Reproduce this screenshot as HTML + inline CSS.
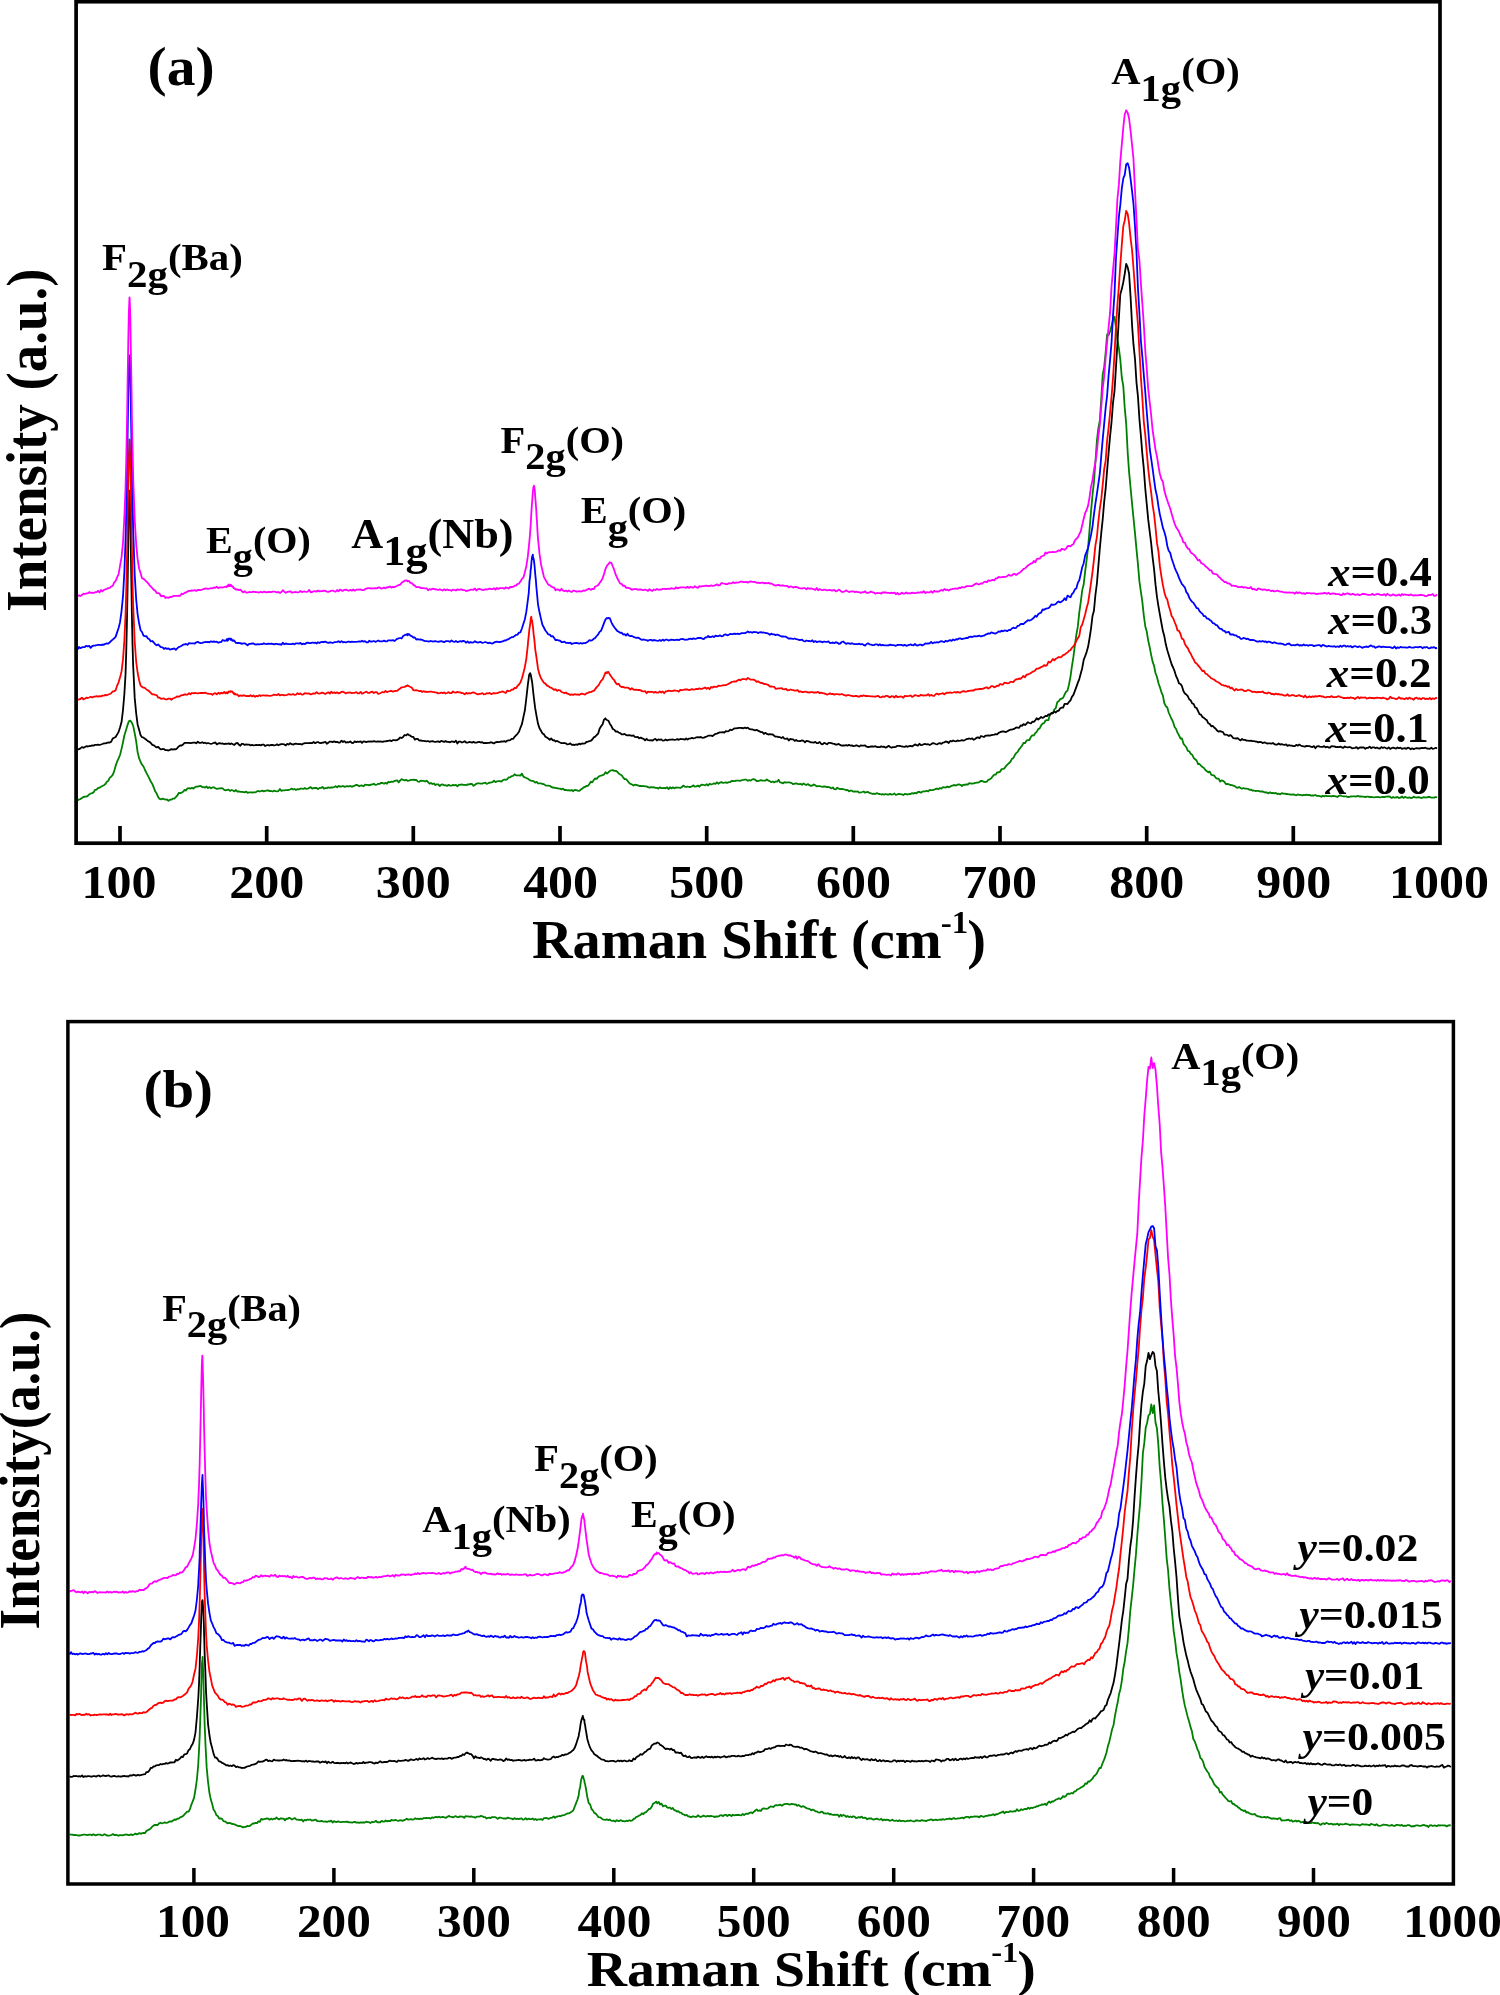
<!DOCTYPE html>
<html><head><meta charset="utf-8"><style>
html,body{margin:0;padding:0;background:#fff;}
svg{display:block;will-change:transform;}
text{font-family:"Liberation Serif",serif;font-weight:bold;fill:#000;}
</style></head><body>
<svg width="1500" height="1995" viewBox="0 0 1500 1995">
<rect x="0" y="0" width="1500" height="1995" fill="#fff"/>
<g>
<path d="M77.5 800.5L79.0 799.5L80.4 799.1L81.9 798.0L83.4 797.0L84.8 796.7L86.3 796.6L87.8 795.9L89.2 794.4L90.7 793.5L92.2 793.1L93.6 792.4L95.1 789.8L96.6 789.7L98.0 788.1L99.5 787.6L101.0 786.8L102.4 786.0L103.9 785.2L105.4 784.1L106.8 781.7L108.3 780.8L109.8 777.7L111.2 776.6L112.7 774.9L114.2 771.1L115.6 765.9L117.1 761.7L118.6 758.4L120.0 755.0L121.5 749.1L123.0 742.3L124.4 735.3L125.9 730.4L127.4 725.4L128.8 721.4L130.3 720.6L131.8 722.7L133.2 725.9L134.7 733.3L136.2 741.3L137.6 752.1L139.1 758.2L140.6 762.0L142.0 764.6L143.5 766.5L145.0 770.0L146.4 772.8L147.9 775.7L149.4 778.7L150.8 781.5L152.3 783.9L153.8 787.7L155.2 791.3L156.7 793.6L158.2 797.2L159.6 798.8L161.1 799.3L162.6 798.7L164.0 799.2L165.5 799.6L167.0 799.3L168.4 800.9L169.9 799.7L171.4 799.7L172.8 798.6L174.3 798.6L175.8 797.2L177.2 795.7L178.7 793.0L180.2 793.2L181.6 792.6L183.1 791.8L184.6 789.9L186.0 790.6L187.5 788.3L189.0 788.2L190.4 788.7L191.9 787.8L193.4 788.6L194.8 787.3L196.3 786.6L197.8 786.6L199.2 786.1L200.7 786.0L202.2 787.1L203.6 787.1L205.1 787.6L206.6 786.5L208.0 788.1L209.5 787.1L211.0 788.3L212.4 787.4L213.9 787.4L215.4 788.2L216.8 788.9L218.3 788.6L219.8 788.4L221.2 788.2L222.7 788.4L224.2 789.8L225.6 790.3L227.1 789.9L228.6 789.6L230.0 790.9L231.5 790.0L233.0 790.5L234.4 791.4L235.9 790.0L237.4 791.7L238.8 791.3L240.3 791.8L241.8 791.8L243.2 792.0L244.7 792.4L246.2 791.6L247.6 792.8L249.1 792.4L250.6 792.4L252.0 792.5L253.5 792.3L255.0 792.3L256.4 791.8L257.9 790.9L259.4 791.5L260.8 791.1L262.3 790.6L263.8 791.4L265.2 790.9L266.7 790.5L268.2 790.4L269.6 791.1L271.1 791.0L272.6 791.5L274.0 790.7L275.5 791.2L277.0 791.3L278.4 791.1L279.9 789.0L281.4 790.9L282.8 790.4L284.3 790.3L285.8 790.2L287.2 790.1L288.7 790.0L290.2 789.5L291.6 788.6L293.1 789.5L294.6 789.0L296.0 790.0L297.5 789.1L299.0 789.3L300.4 788.6L301.9 788.7L303.4 788.9L304.8 788.0L306.3 788.9L307.8 788.6L309.2 787.9L310.7 787.1L312.2 788.7L313.6 788.1L315.1 787.9L316.6 788.0L318.0 789.1L319.5 787.9L321.0 787.9L322.4 786.9L323.9 788.6L325.4 788.1L326.8 788.1L328.3 787.4L329.8 787.8L331.2 787.4L332.7 787.5L334.2 787.0L335.6 786.2L337.1 787.4L338.6 785.8L340.0 786.6L341.5 786.5L343.0 786.0L344.4 786.8L345.9 786.3L347.4 786.1L348.8 786.5L350.3 785.9L351.8 786.8L353.2 786.2L354.7 785.7L356.2 784.8L357.6 785.1L359.1 786.3L360.6 785.6L362.0 785.4L363.5 786.3L365.0 784.7L366.4 784.9L367.9 784.9L369.4 785.4L370.8 784.6L372.3 784.5L373.8 783.7L375.2 784.8L376.7 784.7L378.2 783.8L379.6 783.9L381.1 782.8L382.6 783.0L384.0 783.8L385.5 782.8L387.0 783.8L388.4 781.8L389.9 782.3L391.4 781.6L392.8 781.8L394.3 781.2L395.8 780.7L397.2 780.3L398.7 782.4L400.2 780.4L401.6 779.2L403.1 779.8L404.6 780.5L406.0 779.7L407.5 780.8L409.0 780.6L410.4 780.0L411.9 779.9L413.4 779.7L414.8 780.0L416.3 779.8L417.8 781.5L419.2 781.9L420.7 780.6L422.2 780.9L423.6 780.8L425.1 781.5L426.6 780.7L428.0 782.0L429.5 783.7L431.0 783.0L432.4 784.0L433.9 783.5L435.4 785.0L436.8 784.4L438.3 784.3L439.8 786.1L441.2 784.7L442.7 784.4L444.2 785.3L445.6 785.2L447.1 785.9L448.6 784.8L450.0 785.7L451.5 785.7L453.0 784.9L454.4 785.3L455.9 784.8L457.4 786.4L458.8 784.7L460.3 784.8L461.8 784.4L463.2 784.8L464.7 784.9L466.2 785.2L467.6 784.4L469.1 784.5L470.6 783.8L472.0 784.0L473.5 785.8L475.0 784.8L476.4 783.7L477.9 783.3L479.4 783.3L480.8 783.7L482.3 783.6L483.8 783.0L485.2 782.6L486.7 783.9L488.2 783.2L489.6 782.6L491.1 782.5L492.6 782.1L494.0 780.6L495.5 782.1L497.0 781.3L498.4 781.1L499.9 781.1L501.4 781.6L502.8 780.2L504.3 779.5L505.8 779.9L507.2 779.2L508.7 777.3L510.2 777.4L511.6 776.1L513.1 775.8L514.6 774.3L516.0 775.3L517.5 775.4L519.0 775.3L520.4 775.6L521.9 773.6L523.4 776.7L524.8 777.3L526.3 778.0L527.8 778.6L529.2 779.8L530.7 780.7L532.2 780.9L533.6 781.2L535.1 782.6L536.6 781.8L538.0 783.4L539.5 783.4L541.0 783.3L542.4 784.0L543.9 784.1L545.4 785.4L546.8 785.7L548.3 785.6L549.8 785.8L551.2 786.9L552.7 787.6L554.2 787.5L555.6 788.1L557.1 788.1L558.6 788.6L560.0 788.7L561.5 789.3L563.0 788.7L564.4 790.0L565.9 789.8L567.4 790.3L568.8 790.1L570.3 790.6L571.8 790.0L573.2 791.2L574.7 789.8L576.2 790.2L577.6 790.7L579.1 790.9L580.6 789.8L582.0 788.8L583.5 787.3L585.0 787.0L586.4 786.0L587.9 785.8L589.4 784.0L590.8 781.6L592.3 782.4L593.8 779.9L595.2 778.5L596.7 778.8L598.2 777.0L599.6 776.0L601.1 775.6L602.6 775.2L604.0 774.5L605.5 772.2L607.0 773.6L608.4 772.3L609.9 771.0L611.4 770.3L612.8 770.1L614.3 770.9L615.8 770.9L617.2 771.6L618.7 773.5L620.2 774.4L621.6 775.2L623.1 777.3L624.6 779.1L626.0 779.1L627.5 780.7L629.0 782.8L630.4 783.8L631.9 784.4L633.4 785.6L634.8 784.7L636.3 784.8L637.8 785.3L639.2 786.0L640.7 785.8L642.2 786.1L643.6 786.0L645.1 786.4L646.6 786.4L648.0 787.2L649.5 787.6L651.0 787.1L652.4 787.3L653.9 787.2L655.4 787.9L656.8 787.8L658.3 788.6L659.8 787.3L661.2 788.1L662.7 788.2L664.2 787.8L665.6 788.3L667.1 787.3L668.6 789.1L670.0 787.3L671.5 788.4L673.0 787.3L674.4 788.4L675.9 787.5L677.4 787.7L678.8 787.6L680.3 788.0L681.8 787.1L683.2 785.6L684.7 786.6L686.2 787.0L687.6 786.5L689.1 787.0L690.6 787.0L692.0 786.2L693.5 785.4L695.0 786.7L696.4 786.4L697.9 785.6L699.4 786.7L700.8 785.2L702.3 784.6L703.8 785.0L705.2 785.4L706.7 784.1L708.2 785.5L709.6 783.7L711.1 784.5L712.6 784.0L714.0 783.4L715.5 783.9L717.0 782.3L718.4 783.7L719.9 782.7L721.4 782.2L722.8 782.8L724.3 782.7L725.8 782.4L727.2 782.9L728.7 782.2L730.2 782.1L731.6 780.8L733.1 781.0L734.6 781.1L736.0 780.6L737.5 780.7L739.0 780.6L740.4 780.8L741.9 780.1L743.4 779.9L744.8 779.6L746.3 779.6L747.8 780.8L749.2 780.1L750.7 780.6L752.2 779.4L753.6 779.1L755.1 779.7L756.6 781.0L758.0 781.1L759.5 780.7L761.0 780.1L762.4 780.6L763.9 780.6L765.4 780.7L766.8 779.5L768.3 780.6L769.8 781.1L771.2 782.2L772.7 781.5L774.2 782.4L775.6 781.5L777.1 781.7L778.6 779.7L780.0 782.4L781.5 782.6L783.0 783.4L784.4 782.2L785.9 782.7L787.4 782.4L788.8 782.3L790.3 782.7L791.8 783.1L793.2 784.2L794.7 783.6L796.2 783.3L797.6 783.9L799.1 784.1L800.6 783.8L802.0 784.9L803.5 783.4L805.0 784.4L806.4 785.0L807.9 784.1L809.4 785.2L810.9 785.8L812.3 785.5L813.8 784.5L815.3 785.2L816.7 786.4L818.2 786.1L819.7 786.1L821.1 786.5L822.6 786.9L824.1 786.3L825.5 786.7L827.0 787.2L828.5 787.0L829.9 787.4L831.4 788.4L832.9 787.4L834.3 789.2L835.8 789.4L837.3 787.7L838.7 788.7L840.2 789.2L841.7 788.8L843.1 789.1L844.6 789.5L846.1 790.3L847.5 789.8L849.0 791.3L850.5 790.7L851.9 790.7L853.4 791.7L854.9 791.5L856.3 791.6L857.8 791.4L859.3 792.7L860.7 792.4L862.2 792.0L863.7 791.5L865.1 792.7L866.6 792.1L868.1 792.0L869.5 792.9L871.0 793.3L872.5 794.0L873.9 793.6L875.4 794.0L876.9 793.1L878.3 793.8L879.8 794.0L881.3 794.5L882.7 794.2L884.2 794.6L885.7 794.0L887.1 794.5L888.6 794.6L890.1 793.8L891.5 794.6L893.0 794.3L894.5 793.5L895.9 795.0L897.4 794.3L898.9 794.0L900.3 794.2L901.8 794.4L903.3 795.0L904.7 794.0L906.2 794.2L907.7 794.5L909.1 794.0L910.6 794.1L912.1 793.1L913.5 793.6L915.0 792.9L916.5 793.3L917.9 792.0L919.4 791.9L920.9 792.7L922.3 791.7L923.8 791.4L925.3 791.4L926.7 790.7L928.2 791.5L929.7 789.9L931.1 790.2L932.6 790.2L934.1 789.7L935.5 789.0L937.0 788.7L938.5 789.1L939.9 788.0L941.4 788.6L942.9 787.2L944.3 787.4L945.8 787.5L947.3 786.5L948.7 787.3L950.2 786.6L951.7 785.8L953.1 785.3L954.6 785.0L956.1 785.6L957.5 784.7L959.0 784.4L960.5 784.8L961.9 786.0L963.4 784.7L964.9 784.8L966.3 784.3L967.8 784.5L969.3 783.1L970.7 783.5L972.2 783.7L973.7 783.3L975.1 783.0L976.6 782.6L978.1 782.6L979.5 782.0L981.0 780.8L982.5 781.2L983.9 781.8L985.4 782.0L986.9 781.6L988.3 779.8L989.8 779.3L991.3 778.3L992.7 776.3L994.2 774.7L995.7 774.7L997.1 772.5L998.6 772.3L1000.1 771.7L1001.5 769.2L1003.0 768.9L1004.5 768.3L1005.9 766.2L1007.4 764.6L1008.9 763.2L1010.3 762.0L1011.8 759.1L1013.3 758.1L1014.7 755.3L1016.2 753.1L1017.7 751.9L1019.1 749.3L1020.6 747.5L1022.1 745.7L1023.5 742.8L1025.0 743.2L1026.5 740.6L1027.9 740.1L1029.4 740.0L1030.9 736.9L1032.3 735.3L1033.8 735.4L1035.3 733.1L1036.7 731.9L1038.2 729.1L1039.7 728.4L1041.1 725.4L1042.6 723.7L1044.1 723.2L1045.5 720.5L1047.0 720.1L1048.5 720.0L1049.9 714.4L1051.4 713.4L1052.9 713.2L1054.3 709.7L1055.8 708.0L1057.3 702.3L1058.7 701.1L1060.2 699.2L1061.7 698.6L1063.1 697.8L1064.6 694.5L1066.1 691.8L1067.5 690.6L1069.0 684.5L1070.5 676.6L1071.9 666.3L1073.4 656.9L1074.9 645.2L1076.3 635.1L1077.8 626.7L1079.3 612.4L1080.7 602.3L1082.2 590.4L1083.7 584.3L1085.1 571.8L1086.6 560.2L1088.1 547.4L1089.5 530.2L1091.0 511.7L1092.5 495.0L1093.9 482.4L1095.4 462.3L1096.9 440.5L1098.3 428.7L1099.8 420.7L1101.3 398.3L1102.7 374.7L1104.2 366.8L1105.7 352.0L1107.1 334.4L1108.6 335.2L1110.1 331.2L1111.5 326.0L1113.0 319.8L1114.5 316.8L1115.9 326.8L1117.4 339.8L1118.9 348.5L1120.3 359.6L1121.8 377.5L1123.3 386.1L1124.7 407.4L1126.2 423.8L1127.7 452.7L1129.1 472.1L1130.6 488.0L1132.1 504.2L1133.5 518.1L1135.0 533.3L1136.5 549.4L1137.9 563.7L1139.4 581.2L1140.9 591.9L1142.3 601.4L1143.8 615.5L1145.3 626.5L1146.7 631.2L1148.2 640.6L1149.7 647.3L1151.1 654.6L1152.6 661.6L1154.1 666.0L1155.5 673.0L1157.0 677.0L1158.5 683.2L1159.9 687.3L1161.4 692.1L1162.9 695.7L1164.3 703.0L1165.8 706.1L1167.3 707.5L1168.7 712.5L1170.2 716.0L1171.7 719.3L1173.1 721.9L1174.6 727.0L1176.1 729.0L1177.5 732.6L1179.0 735.3L1180.5 738.5L1181.9 738.3L1183.4 743.6L1184.9 745.5L1186.3 747.2L1187.8 750.9L1189.3 751.3L1190.7 753.9L1192.2 754.7L1193.7 758.0L1195.1 759.2L1196.6 760.5L1198.1 764.1L1199.5 764.0L1201.0 765.7L1202.5 767.0L1203.9 767.9L1205.4 770.0L1206.9 771.3L1208.3 772.3L1209.8 771.7L1211.3 774.9L1212.7 775.1L1214.2 775.6L1215.7 777.8L1217.1 778.7L1218.6 778.6L1220.1 781.6L1221.5 780.3L1223.0 780.8L1224.5 781.9L1225.9 784.1L1227.4 783.8L1228.9 784.3L1230.3 785.0L1231.8 785.2L1233.3 785.6L1234.7 786.1L1236.2 787.3L1237.7 787.8L1239.1 787.0L1240.6 788.1L1242.1 788.7L1243.5 788.0L1245.0 788.7L1246.5 788.7L1247.9 788.8L1249.4 789.8L1250.9 789.6L1252.3 790.6L1253.8 790.5L1255.3 791.0L1256.7 790.8L1258.2 790.8L1259.7 791.3L1261.1 791.5L1262.6 791.4L1264.1 792.2L1265.5 792.5L1267.0 792.4L1268.5 793.4L1269.9 792.3L1271.4 793.1L1272.9 792.8L1274.3 793.3L1275.8 792.9L1277.3 794.0L1278.7 793.7L1280.2 794.4L1281.7 793.2L1283.1 793.7L1284.6 793.7L1286.1 794.0L1287.5 794.0L1289.0 794.4L1290.5 794.5L1291.9 794.6L1293.4 794.4L1294.9 794.9L1296.3 795.3L1297.8 794.4L1299.3 794.9L1300.7 794.9L1302.2 795.3L1303.7 795.0L1305.1 795.1L1306.6 794.7L1308.1 795.2L1309.5 794.8L1311.0 795.6L1312.5 795.3L1313.9 795.5L1315.4 795.0L1316.9 795.9L1318.3 795.9L1319.8 796.1L1321.3 796.8L1322.7 795.7L1324.2 796.4L1325.7 795.7L1327.1 796.1L1328.6 796.1L1330.1 796.1L1331.5 796.3L1333.0 795.9L1334.5 796.1L1335.9 796.4L1337.4 797.0L1338.9 795.8L1340.3 795.3L1341.8 796.0L1343.3 796.4L1344.7 796.4L1346.2 796.4L1347.7 797.0L1349.1 797.0L1350.6 796.5L1352.1 796.3L1353.5 796.4L1355.0 796.4L1356.5 796.5L1357.9 795.9L1359.4 796.5L1360.9 796.5L1362.3 796.7L1363.8 796.7L1365.3 797.2L1366.7 796.6L1368.2 796.7L1369.7 797.2L1371.1 796.8L1372.6 797.1L1374.1 797.3L1375.5 797.2L1377.0 797.2L1378.5 797.0L1379.9 797.4L1381.4 797.2L1382.9 796.9L1384.3 797.1L1385.8 796.6L1387.3 796.7L1388.7 796.3L1390.2 796.9L1391.7 797.9L1393.1 797.0L1394.6 797.7L1396.1 797.3L1397.5 797.0L1399.0 798.0L1400.5 797.7L1401.9 796.5L1403.4 797.9L1404.9 796.9L1406.3 797.4L1407.8 797.8L1409.3 797.3L1410.7 798.0L1412.2 797.9L1413.7 796.7L1415.1 797.3L1416.6 797.7L1418.1 797.2L1419.5 797.4L1421.0 798.0L1422.5 797.7L1423.9 797.1L1425.4 797.7L1426.9 797.3L1428.3 797.0L1429.8 797.0L1431.3 797.7L1432.7 797.6L1434.2 797.6L1435.7 797.0L1437.1 797.5" stroke="#008000" stroke-width="1.8" fill="none" stroke-linejoin="round"/>
<path d="M77.5 749.5L79.0 749.2L80.4 748.4L81.9 747.1L83.4 747.8L84.8 747.1L86.3 746.2L87.8 746.5L89.2 746.1L90.7 745.8L92.2 745.5L93.6 745.6L95.1 744.8L96.6 744.9L98.0 744.6L99.5 745.0L101.0 744.5L102.4 744.0L103.9 743.4L105.4 743.3L106.8 743.0L108.3 742.4L109.8 742.6L111.2 741.7L112.7 738.6L114.2 737.7L115.6 737.0L117.1 734.6L118.6 731.9L120.0 727.5L121.5 722.3L123.0 710.0L124.4 693.5L125.5 674.9L125.9 662.8L126.2 653.2L126.9 623.4L127.4 597.3L127.6 586.1L128.3 540.3L128.8 506.1L129.0 499.8L129.5 490.9L129.7 490.8L130.3 515.6L130.4 521.7L131.1 567.2L131.8 607.2L131.8 610.4L132.5 643.4L133.2 666.4L133.2 666.3L134.7 697.9L136.2 713.5L137.6 724.4L139.1 729.7L140.6 735.3L142.0 737.2L143.5 737.6L145.0 738.8L146.4 739.8L147.9 741.2L149.4 741.8L150.8 743.0L152.3 744.8L153.8 745.3L155.2 746.4L156.7 747.4L158.2 746.8L159.6 748.4L161.1 749.4L162.6 749.0L164.0 749.1L165.5 750.2L167.0 750.2L168.4 750.5L169.9 749.9L171.4 749.1L172.8 749.6L174.3 749.2L175.8 749.4L177.2 748.3L178.7 746.4L180.2 745.5L181.6 745.5L183.1 744.4L184.6 742.9L186.0 742.8L187.5 742.9L189.0 742.9L190.4 743.1L191.9 742.8L193.4 742.6L194.8 742.6L196.3 743.3L197.8 741.6L199.2 742.8L200.7 742.9L202.2 742.2L203.6 743.1L205.1 742.7L206.6 743.5L208.0 743.0L209.5 743.5L211.0 743.9L212.4 743.5L213.9 742.8L215.4 742.5L216.8 744.4L218.3 743.4L219.8 743.1L221.2 743.6L222.7 743.5L224.2 744.1L225.6 743.7L227.1 743.8L228.6 743.4L230.0 744.1L231.5 743.4L233.0 744.3L234.4 744.9L235.9 743.3L237.4 742.9L238.8 744.6L240.3 745.7L241.8 743.9L243.2 743.9L244.7 744.9L246.2 744.3L247.6 744.6L249.1 744.7L250.6 745.3L252.0 744.9L253.5 745.3L255.0 745.1L256.4 744.8L257.9 745.1L259.4 744.8L260.8 745.3L262.3 744.7L263.8 744.7L265.2 746.0L266.7 745.2L268.2 745.2L269.6 745.5L271.1 744.9L272.6 745.0L274.0 745.3L275.5 745.2L277.0 744.3L278.4 745.3L279.9 744.5L281.4 744.2L282.8 744.2L284.3 744.4L285.8 745.4L287.2 743.8L288.7 744.5L290.2 743.1L291.6 744.2L293.1 744.6L294.6 743.9L296.0 743.6L297.5 744.0L299.0 744.1L300.4 744.0L301.9 744.6L303.4 743.6L304.8 743.1L306.3 743.2L307.8 743.2L309.2 743.2L310.7 743.0L312.2 743.1L313.6 742.0L315.1 743.2L316.6 742.4L318.0 742.0L319.5 742.9L321.0 743.2L322.4 742.7L323.9 742.5L325.4 741.8L326.8 743.8L328.3 742.7L329.8 741.6L331.2 741.7L332.7 742.1L334.2 741.3L335.6 742.1L337.1 741.8L338.6 742.6L340.0 742.5L341.5 740.6L343.0 742.0L344.4 741.1L345.9 742.6L347.4 742.1L348.8 742.3L350.3 741.4L351.8 742.9L353.2 743.0L354.7 741.4L356.2 742.1L357.6 741.6L359.1 741.9L360.6 741.3L362.0 742.9L363.5 741.4L365.0 741.7L366.4 742.1L367.9 741.5L369.4 741.7L370.8 741.5L372.3 741.7L373.8 741.2L375.2 741.5L376.7 741.6L378.2 741.5L379.6 741.7L381.1 741.5L382.6 741.9L384.0 741.3L385.5 741.3L387.0 741.0L388.4 740.9L389.9 740.4L391.4 741.2L392.8 740.1L394.3 740.1L395.8 740.3L397.2 740.0L398.7 739.0L400.2 737.5L401.6 738.0L403.1 736.9L404.6 735.0L406.0 735.4L407.5 734.3L407.5 734.1L409.0 735.1L410.4 735.7L411.9 736.9L413.4 736.9L414.8 739.6L416.3 738.9L417.8 738.9L419.2 740.5L420.7 740.3L422.2 740.9L423.6 740.8L425.1 741.1L426.6 741.4L428.0 741.0L429.5 741.8L431.0 741.3L432.4 741.1L433.9 741.7L435.4 741.9L436.8 741.6L438.3 741.3L439.8 742.1L441.2 740.9L442.7 741.3L444.2 741.9L445.6 741.1L447.1 741.9L448.6 741.8L450.0 742.3L451.5 741.4L453.0 741.6L454.4 742.1L455.9 740.7L457.4 743.5L458.8 741.6L460.3 741.6L461.8 742.5L463.2 742.1L464.7 741.2L466.2 742.5L467.6 742.7L469.1 742.0L470.6 742.2L472.0 742.6L473.5 741.9L475.0 742.7L476.4 742.6L477.9 742.2L479.4 741.9L480.8 742.5L482.3 742.2L483.8 743.2L485.2 742.8L486.7 743.1L488.2 742.8L489.6 742.8L491.1 742.2L492.6 742.9L494.0 743.4L495.5 742.3L497.0 742.0L498.4 742.1L499.9 741.8L501.4 741.5L502.8 741.7L504.3 741.2L505.8 741.8L507.2 740.7L508.7 740.4L510.2 740.2L511.6 738.8L513.1 738.9L514.6 736.8L516.0 735.3L517.5 733.8L519.0 731.7L520.4 727.8L521.9 724.2L523.4 717.1L524.8 710.8L526.3 698.5L527.8 685.1L529.2 674.6L530.1 673.1L530.7 674.3L532.2 682.5L533.6 695.5L535.1 707.7L536.6 716.3L538.0 723.6L539.5 728.2L541.0 730.8L542.4 733.4L543.9 734.2L545.4 736.7L546.8 737.4L548.3 738.5L549.8 739.8L551.2 738.4L552.7 740.3L554.2 740.1L555.6 741.5L557.1 740.9L558.6 741.8L560.0 742.5L561.5 743.1L563.0 743.1L564.4 743.0L565.9 743.4L567.4 744.4L568.8 744.1L570.3 743.4L571.8 744.8L573.2 744.7L574.7 745.0L576.2 744.3L577.6 744.8L579.1 743.7L580.6 744.3L582.0 743.5L583.5 743.7L585.0 743.4L586.4 742.0L587.9 741.7L589.4 741.1L590.8 740.8L592.3 739.5L593.8 737.3L595.2 736.7L596.7 735.0L598.2 733.6L599.6 728.7L601.1 726.3L602.6 724.2L604.0 719.7L605.5 718.3L605.7 719.3L607.0 720.0L608.4 720.7L609.9 723.9L611.4 726.1L612.8 729.0L614.3 729.7L615.8 731.6L617.2 731.4L618.7 732.5L620.2 733.1L621.6 734.3L623.1 734.3L624.6 733.9L626.0 735.0L627.5 735.3L629.0 735.1L630.4 735.4L631.9 735.8L633.4 735.3L634.8 736.8L636.3 737.2L637.8 737.0L639.2 738.3L640.7 737.6L642.2 738.4L643.6 738.8L645.1 740.4L646.6 738.8L648.0 740.1L649.5 740.4L651.0 740.2L652.4 740.7L653.9 739.5L655.4 738.9L656.8 740.5L658.3 739.4L659.8 739.9L661.2 739.4L662.7 740.6L664.2 740.4L665.6 739.5L667.1 740.4L668.6 739.9L670.0 739.7L671.5 739.7L673.0 739.5L674.4 739.9L675.9 739.6L677.4 739.2L678.8 739.8L680.3 738.9L681.8 739.2L683.2 739.2L684.7 739.7L686.2 738.5L687.6 739.6L689.1 738.6L690.6 738.3L692.0 737.9L693.5 738.4L695.0 738.0L696.4 737.3L697.9 737.1L699.4 737.3L700.8 737.0L702.3 737.8L703.8 737.7L705.2 737.1L706.7 736.5L708.2 735.7L709.6 735.6L711.1 735.7L712.6 736.0L714.0 734.9L715.5 733.8L717.0 733.6L718.4 732.9L719.9 732.4L721.4 732.3L722.8 732.1L724.3 732.7L725.8 731.1L727.2 731.4L728.7 731.2L730.2 729.7L731.6 730.2L733.1 729.3L734.6 728.3L736.0 728.4L737.5 728.1L739.0 727.8L740.4 727.8L741.9 728.0L743.4 728.3L744.8 727.6L746.3 728.3L747.8 727.6L749.2 728.9L750.7 729.4L752.2 729.4L753.6 729.8L755.1 730.3L756.6 729.9L758.0 730.6L759.5 731.4L761.0 732.1L762.4 732.2L763.9 733.9L765.4 732.8L766.8 733.9L768.3 734.5L769.8 734.2L771.2 734.3L772.7 734.5L774.2 735.7L775.6 736.7L777.1 736.7L778.6 737.1L780.0 737.2L781.5 738.1L783.0 737.0L784.4 738.7L785.9 738.9L787.4 738.4L788.8 740.6L790.3 738.9L791.8 739.3L793.2 739.4L794.7 740.9L796.2 739.9L797.6 740.9L799.1 741.1L800.6 741.0L802.0 740.4L803.5 740.9L805.0 742.3L806.4 740.8L807.9 741.2L809.4 741.7L810.9 742.4L812.3 742.3L813.8 742.7L815.3 741.9L816.7 743.1L818.2 743.0L819.7 742.0L821.1 743.8L822.6 744.3L824.1 742.9L825.5 743.4L827.0 744.3L828.5 742.9L829.9 742.8L831.4 743.2L832.9 743.7L834.3 743.9L835.8 744.6L837.3 744.5L838.7 743.9L840.2 744.9L841.7 745.7L843.1 745.5L844.6 745.5L846.1 745.1L847.5 745.7L849.0 744.8L850.5 745.7L851.9 745.4L853.4 746.1L854.9 745.9L856.3 745.2L857.8 745.9L859.3 746.5L860.7 745.4L862.2 745.7L863.7 745.7L865.1 745.4L866.6 746.7L868.1 747.0L869.5 746.8L871.0 746.5L872.5 746.4L873.9 746.6L875.4 746.2L876.9 747.0L878.3 747.2L879.8 747.1L881.3 746.4L882.7 746.8L884.2 746.7L885.7 747.7L887.1 746.9L888.6 745.8L890.1 747.0L891.5 747.7L893.0 747.1L894.5 747.2L895.9 746.8L897.4 745.8L898.9 745.8L900.3 746.0L901.8 746.5L903.3 746.7L904.7 746.8L906.2 746.2L907.7 746.8L909.1 746.1L910.6 745.8L912.1 746.4L913.5 745.4L915.0 744.4L916.5 745.1L917.9 745.6L919.4 743.8L920.9 745.1L922.3 744.9L923.8 744.2L925.3 744.0L926.7 744.4L928.2 744.2L929.7 745.0L931.1 744.3L932.6 743.1L934.1 743.3L935.5 744.0L937.0 744.4L938.5 743.4L939.9 743.2L941.4 743.8L942.9 742.6L944.3 742.3L945.8 741.5L947.3 741.8L948.7 743.0L950.2 740.9L951.7 741.4L953.1 740.5L954.6 741.1L956.1 741.3L957.5 740.5L959.0 740.8L960.5 740.6L961.9 740.2L963.4 740.7L964.9 740.0L966.3 739.2L967.8 738.8L969.3 738.5L970.7 739.0L972.2 738.3L973.7 739.8L975.1 739.0L976.6 737.7L978.1 737.4L979.5 738.2L981.0 736.0L982.5 736.5L983.9 737.0L985.4 735.7L986.9 735.6L988.3 735.4L989.8 735.7L991.3 735.1L992.7 734.9L994.2 734.7L995.7 734.1L997.1 734.4L998.6 732.9L1000.1 732.2L1001.5 731.6L1003.0 731.3L1004.5 731.6L1005.9 732.1L1007.4 731.2L1008.9 730.4L1010.3 729.7L1011.8 729.6L1013.3 729.2L1014.7 728.6L1016.2 727.5L1017.7 727.6L1019.1 727.9L1020.6 725.4L1022.1 725.9L1023.5 724.1L1025.0 725.0L1026.5 723.7L1027.9 722.2L1029.4 723.0L1030.9 723.4L1032.3 721.7L1033.8 721.8L1035.3 720.3L1036.7 718.3L1038.2 719.5L1039.7 718.3L1041.1 717.0L1042.6 717.9L1044.1 717.0L1045.5 715.9L1047.0 716.2L1048.5 714.4L1049.9 714.8L1051.4 713.0L1052.9 713.3L1054.3 711.5L1055.8 712.5L1057.3 710.8L1058.7 710.8L1060.2 708.3L1061.7 707.7L1063.1 707.6L1064.6 703.8L1066.1 703.8L1067.5 704.0L1069.0 701.9L1070.5 700.3L1071.9 696.9L1073.4 694.9L1074.9 690.9L1076.3 687.1L1077.8 682.9L1079.3 679.1L1080.7 673.8L1082.2 668.2L1083.7 659.9L1085.1 656.2L1086.6 652.1L1088.1 646.8L1089.5 638.5L1091.0 628.6L1092.5 616.0L1093.9 611.1L1095.4 595.0L1096.9 583.5L1098.3 566.6L1099.8 548.7L1101.3 532.7L1102.7 519.4L1104.2 501.6L1105.7 488.2L1107.1 470.6L1108.6 452.7L1110.1 435.9L1111.5 422.5L1113.0 402.8L1114.5 391.2L1115.9 368.5L1117.4 343.7L1118.9 317.7L1120.3 294.3L1121.8 289.1L1123.3 282.2L1124.7 274.0L1126.2 263.8L1127.7 267.4L1129.1 273.7L1130.6 297.4L1132.1 325.8L1133.5 344.7L1135.0 359.0L1136.5 382.6L1137.9 395.8L1139.4 418.7L1140.9 435.8L1142.3 453.4L1143.8 468.7L1145.3 489.0L1146.7 503.5L1148.2 519.4L1149.7 531.6L1151.1 542.6L1152.6 557.4L1154.1 569.3L1155.5 584.4L1157.0 597.2L1158.5 606.6L1159.9 614.7L1161.4 623.0L1162.9 631.1L1164.3 636.1L1165.8 644.3L1167.3 650.3L1168.7 654.8L1170.2 659.7L1171.7 664.5L1173.1 667.5L1174.6 671.2L1176.1 676.2L1177.5 679.0L1179.0 683.4L1180.5 684.0L1181.9 686.1L1183.4 691.0L1184.9 693.5L1186.3 694.5L1187.8 696.2L1189.3 699.5L1190.7 700.3L1192.2 703.4L1193.7 704.0L1195.1 707.4L1196.6 708.0L1198.1 711.2L1199.5 714.2L1201.0 714.7L1202.5 717.1L1203.9 717.8L1205.4 719.2L1206.9 720.3L1208.3 723.3L1209.8 724.0L1211.3 726.3L1212.7 725.8L1214.2 727.5L1215.7 728.8L1217.1 730.6L1218.6 731.7L1220.1 731.1L1221.5 731.7L1223.0 732.1L1224.5 734.7L1225.9 734.6L1227.4 735.0L1228.9 736.0L1230.3 735.1L1231.8 736.2L1233.3 738.2L1234.7 738.3L1236.2 738.5L1237.7 738.2L1239.1 739.4L1240.6 740.4L1242.1 739.0L1243.5 739.9L1245.0 739.9L1246.5 740.6L1247.9 740.6L1249.4 740.8L1250.9 740.6L1252.3 741.2L1253.8 741.1L1255.3 741.5L1256.7 741.7L1258.2 742.3L1259.7 741.8L1261.1 742.1L1262.6 743.1L1264.1 742.5L1265.5 742.7L1267.0 743.5L1268.5 743.3L1269.9 743.4L1271.4 743.6L1272.9 743.0L1274.3 744.1L1275.8 744.7L1277.3 744.5L1278.7 743.5L1280.2 744.6L1281.7 744.1L1283.1 744.6L1284.6 744.9L1286.1 744.4L1287.5 745.8L1289.0 745.2L1290.5 745.7L1291.9 745.7L1293.4 746.2L1294.9 746.1L1296.3 744.8L1297.8 745.7L1299.3 744.6L1300.7 745.5L1302.2 746.2L1303.7 746.3L1305.1 746.6L1306.6 745.8L1308.1 746.2L1309.5 746.1L1311.0 746.8L1312.5 747.0L1313.9 746.1L1315.4 748.2L1316.9 746.3L1318.3 746.2L1319.8 746.7L1321.3 746.9L1322.7 746.8L1324.2 746.2L1325.7 747.4L1327.1 746.7L1328.6 747.5L1330.1 747.5L1331.5 746.2L1333.0 746.4L1334.5 746.4L1335.9 747.1L1337.4 747.0L1338.9 747.2L1340.3 746.7L1341.8 747.3L1343.3 747.9L1344.7 746.5L1346.2 747.1L1347.7 747.4L1349.1 747.2L1350.6 747.2L1352.1 748.3L1353.5 748.1L1355.0 747.9L1356.5 747.1L1357.9 748.7L1359.4 747.7L1360.9 747.3L1362.3 747.5L1363.8 747.4L1365.3 748.8L1366.7 747.8L1368.2 747.8L1369.7 746.7L1371.1 748.2L1372.6 747.3L1374.1 747.3L1375.5 748.2L1377.0 747.5L1378.5 748.4L1379.9 748.5L1381.4 747.1L1382.9 748.0L1384.3 747.3L1385.8 748.0L1387.3 748.6L1388.7 747.4L1390.2 749.0L1391.7 748.0L1393.1 747.6L1394.6 748.1L1396.1 748.6L1397.5 747.5L1399.0 748.3L1400.5 747.6L1401.9 748.9L1403.4 748.4L1404.9 748.1L1406.3 748.9L1407.8 747.7L1409.3 748.2L1410.7 749.3L1412.2 748.3L1413.7 749.1L1415.1 748.5L1416.6 748.1L1418.1 748.3L1419.5 748.5L1421.0 748.2L1422.5 748.0L1423.9 748.1L1425.4 747.7L1426.9 748.5L1428.3 748.7L1429.8 748.9L1431.3 747.6L1432.7 748.9L1434.2 748.5L1435.7 747.8L1437.1 748.5" stroke="#000000" stroke-width="1.8" fill="none" stroke-linejoin="round"/>
<path d="M77.5 700.0L79.0 699.3L80.4 699.0L81.9 697.6L83.4 699.4L84.8 698.7L86.3 697.7L87.8 698.0L89.2 697.5L90.7 696.8L92.2 697.5L93.6 696.7L95.1 696.6L96.6 696.2L98.0 696.7L99.5 696.2L101.0 696.4L102.4 695.6L103.9 695.7L105.4 694.8L106.8 695.3L108.3 694.5L109.8 694.0L111.2 693.2L112.7 691.5L114.2 691.2L115.6 690.2L117.1 685.7L118.6 682.3L120.0 677.6L121.5 671.7L123.0 659.4L124.4 639.9L125.5 615.2L125.9 602.3L126.2 591.6L126.9 560.5L127.4 537.2L127.6 520.7L128.3 480.3L128.8 455.3L129.0 452.6L129.5 439.4L129.7 440.1L130.3 459.5L130.4 467.1L131.1 504.3L131.8 545.5L131.8 542.6L132.5 580.7L133.2 606.7L133.2 605.2L134.7 641.8L136.2 662.0L137.6 672.5L139.1 680.2L140.6 685.6L142.0 686.9L143.5 687.7L145.0 688.0L146.4 689.5L147.9 690.2L149.4 691.5L150.8 692.8L152.3 694.4L153.8 694.4L155.2 694.9L156.7 695.1L158.2 697.7L159.6 697.7L161.1 698.9L162.6 698.6L164.0 698.5L165.5 699.4L167.0 699.3L168.4 698.7L169.9 698.6L171.4 699.7L172.8 698.5L174.3 698.0L175.8 697.2L177.2 696.4L178.7 696.8L180.2 695.9L181.6 695.2L183.1 695.1L184.6 694.3L186.0 694.5L187.5 694.6L189.0 693.3L190.4 694.3L191.9 693.0L193.4 693.4L194.8 692.9L196.3 693.2L197.8 693.4L199.2 693.1L200.7 693.0L202.2 693.0L203.6 693.0L205.1 692.6L206.6 693.3L208.0 693.6L209.5 693.9L211.0 693.8L212.4 694.8L213.9 693.6L215.4 693.2L216.8 694.4L218.3 692.8L219.8 693.8L221.2 692.7L222.7 693.4L224.2 692.0L225.6 693.4L226.7 692.6L227.1 692.1L227.4 693.4L228.1 692.7L228.6 692.1L228.8 691.5L229.5 691.6L230.0 691.4L230.2 691.9L230.7 691.9L230.9 691.2L231.5 691.5L231.6 691.5L232.3 691.5L233.0 692.4L233.0 692.7L233.7 693.6L234.4 694.3L234.4 693.2L235.9 694.6L237.4 694.5L238.8 696.2L240.3 695.4L241.8 695.9L243.2 695.3L244.7 695.5L246.2 696.1L247.6 695.8L249.1 696.2L250.6 695.2L252.0 696.4L253.5 695.5L255.0 696.9L256.4 695.8L257.9 696.4L259.4 695.1L260.8 696.0L262.3 695.3L263.8 695.4L265.2 695.6L266.7 695.4L268.2 695.6L269.6 695.8L271.1 695.7L272.6 695.3L274.0 694.6L275.5 694.8L277.0 695.1L278.4 694.0L279.9 695.4L281.4 694.9L282.8 694.8L284.3 695.4L285.8 695.1L287.2 694.8L288.7 694.1L290.2 694.7L291.6 694.7L293.1 694.0L294.6 694.9L296.0 694.6L297.5 693.2L299.0 694.2L300.4 693.4L301.9 694.6L303.4 694.3L304.8 693.2L306.3 693.3L307.8 693.7L309.2 693.5L310.7 694.4L312.2 693.9L313.6 693.3L315.1 693.7L316.6 692.2L318.0 693.4L319.5 693.6L321.0 693.0L322.4 692.7L323.9 693.3L325.4 694.0L326.8 693.0L328.3 692.3L329.8 693.6L331.2 691.8L332.7 693.0L334.2 692.4L335.6 693.2L337.1 692.3L338.6 693.4L340.0 692.9L341.5 691.8L343.0 691.7L344.4 692.5L345.9 693.4L347.4 692.7L348.8 692.7L350.3 692.5L351.8 693.1L353.2 692.9L354.7 692.8L356.2 692.1L357.6 693.3L359.1 693.3L360.6 691.9L362.0 693.8L363.5 693.0L365.0 692.3L366.4 691.6L367.9 692.9L369.4 692.8L370.8 692.2L372.3 691.6L373.8 693.1L375.2 692.2L376.7 692.2L378.2 693.9L379.6 693.5L381.1 692.8L382.6 692.0L384.0 692.5L385.5 690.9L387.0 692.1L388.4 691.5L389.9 691.1L391.4 690.8L392.8 691.7L394.3 691.2L395.8 690.9L397.2 690.8L398.7 689.4L400.2 688.5L401.6 687.3L403.1 687.2L404.6 686.9L406.0 685.9L406.7 686.3L407.5 685.3L409.0 686.3L410.4 687.0L411.9 687.7L413.4 690.2L414.8 690.4L416.3 690.1L417.8 690.5L419.2 691.2L420.7 690.8L422.2 691.9L423.6 691.2L425.1 691.8L426.6 691.6L428.0 692.0L429.5 691.6L431.0 691.6L432.4 691.9L433.9 692.1L435.4 692.4L436.8 692.6L438.3 693.4L439.8 693.1L441.2 692.5L442.7 693.1L444.2 692.4L445.6 693.5L447.1 693.0L448.6 692.1L450.0 693.2L451.5 693.2L453.0 691.4L454.4 692.4L455.9 692.6L457.4 691.9L458.8 692.3L460.3 692.4L461.8 693.2L463.2 693.2L464.7 694.4L466.2 692.9L467.6 693.7L469.1 693.2L470.6 693.4L472.0 692.7L473.5 692.4L475.0 693.0L476.4 693.8L477.9 694.3L479.4 693.8L480.8 693.8L482.3 693.1L483.8 694.3L485.2 694.2L486.7 693.2L488.2 693.5L489.6 692.9L491.1 694.1L492.6 693.5L494.0 693.2L495.5 693.3L497.0 693.2L498.4 692.7L499.9 692.1L501.4 691.9L502.8 691.4L504.3 692.3L505.8 693.0L507.2 690.6L508.7 691.2L510.2 690.9L511.6 689.6L513.1 689.5L514.6 688.0L516.0 688.2L517.5 685.9L519.0 684.5L520.4 682.4L521.9 678.5L523.4 673.1L524.8 667.3L526.3 658.8L527.3 649.9L527.8 645.7L528.0 642.4L528.7 636.2L529.2 631.1L529.4 629.0L530.1 624.8L530.7 619.3L530.8 618.2L531.3 616.7L531.5 619.5L532.2 620.7L532.2 621.8L532.9 626.3L533.6 633.9L533.6 634.0L534.3 639.2L535.0 646.6L535.1 648.3L536.6 658.4L538.0 668.7L539.5 674.4L541.0 678.3L542.4 680.4L543.9 682.8L545.4 683.6L546.8 685.4L548.3 686.1L549.8 687.3L551.2 687.7L552.7 688.8L554.2 689.9L555.6 689.2L557.1 690.9L558.6 690.0L560.0 690.4L561.5 692.0L563.0 692.5L564.4 693.1L565.9 692.5L567.4 693.7L568.8 694.1L570.3 694.9L571.8 694.4L573.2 694.9L574.7 694.2L576.2 694.6L577.6 694.4L579.1 694.9L580.6 693.9L582.0 693.7L583.5 694.2L585.0 694.5L586.4 693.4L587.9 692.9L589.4 692.1L590.8 692.2L592.3 691.2L593.8 690.9L595.2 689.1L596.7 687.1L598.2 685.7L599.6 683.4L601.1 680.8L602.6 679.4L604.0 676.2L605.5 672.5L607.0 673.2L607.1 672.2L608.4 671.9L609.9 674.6L611.4 676.8L612.8 678.8L614.3 680.2L615.8 683.0L617.2 684.4L618.7 683.8L620.2 686.3L621.6 687.0L623.1 686.9L624.6 687.6L626.0 687.7L627.5 687.7L629.0 688.3L630.4 689.5L631.9 688.3L633.4 689.5L634.8 689.8L636.3 689.6L637.8 690.0L639.2 689.8L640.7 690.4L642.2 691.1L643.6 691.5L645.1 691.1L646.6 693.3L648.0 691.6L649.5 692.0L651.0 691.9L652.4 691.8L653.9 692.7L655.4 691.8L656.8 692.7L658.3 692.6L659.8 691.4L661.2 692.5L662.7 691.5L664.2 693.2L665.6 691.5L667.1 691.2L668.6 690.6L670.0 690.8L671.5 691.1L673.0 690.8L674.4 690.5L675.9 690.7L677.4 690.8L678.8 691.6L680.3 689.8L681.8 690.2L683.2 689.9L684.7 689.5L686.2 689.4L687.6 689.5L689.1 690.2L690.6 689.6L692.0 689.2L693.5 689.7L695.0 689.4L696.4 688.9L697.9 689.1L699.4 688.3L700.8 689.0L702.3 688.7L703.8 688.1L705.2 687.5L706.7 688.8L708.2 687.8L709.6 689.2L711.1 687.0L712.6 687.6L714.0 686.6L715.5 686.8L717.0 686.9L718.4 685.7L719.9 685.9L721.4 685.7L722.8 685.4L724.3 685.2L725.8 685.1L727.2 684.5L728.7 683.7L730.2 682.9L731.6 681.9L733.1 681.7L734.6 681.3L736.0 681.6L737.5 680.5L739.0 679.6L740.4 680.4L741.9 679.2L743.4 679.1L744.8 679.2L746.3 679.6L747.8 677.9L749.2 678.8L750.7 679.7L752.2 679.7L753.6 679.7L755.1 680.3L756.6 681.9L758.0 681.2L759.5 682.4L761.0 683.0L762.4 682.9L763.9 684.0L765.4 684.0L766.8 684.5L768.3 684.8L769.8 686.5L771.2 686.3L772.7 686.7L774.2 686.8L775.6 688.8L777.1 688.6L778.6 688.4L780.0 688.3L781.5 688.1L783.0 689.2L784.4 689.4L785.9 688.7L787.4 690.3L788.8 690.2L790.3 689.5L791.8 689.9L793.2 690.1L794.7 690.6L796.2 690.6L797.6 690.0L799.1 691.8L800.6 691.3L802.0 692.0L803.5 692.2L805.0 691.5L806.4 692.0L807.9 692.3L809.4 692.5L810.9 692.2L812.3 692.1L813.8 692.6L815.3 692.3L816.7 692.5L818.2 691.9L819.7 693.2L821.1 692.7L822.6 693.1L824.1 693.5L825.5 693.8L827.0 694.7L828.5 694.0L829.9 693.3L831.4 694.2L832.9 693.9L834.3 694.6L835.8 694.1L837.3 694.2L838.7 694.4L840.2 694.5L841.7 694.0L843.1 694.7L844.6 695.1L846.1 695.8L847.5 695.1L849.0 695.2L850.5 695.7L851.9 695.8L853.4 696.4L854.9 696.0L856.3 695.8L857.8 696.5L859.3 696.7L860.7 695.7L862.2 696.1L863.7 695.3L865.1 696.0L866.6 695.8L868.1 696.2L869.5 696.1L871.0 696.3L872.5 696.4L873.9 696.7L875.4 696.6L876.9 696.2L878.3 695.9L879.8 697.2L881.3 697.3L882.7 696.4L884.2 696.9L885.7 695.9L887.1 695.9L888.6 696.6L890.1 697.4L891.5 696.2L893.0 696.3L894.5 697.5L895.9 695.7L897.4 697.0L898.9 696.9L900.3 696.5L901.8 696.6L903.3 697.8L904.7 695.9L906.2 696.2L907.7 696.2L909.1 695.9L910.6 695.5L912.1 696.9L913.5 696.2L915.0 695.1L916.5 695.5L917.9 696.0L919.4 695.9L920.9 694.8L922.3 695.4L923.8 695.5L925.3 695.4L926.7 695.3L928.2 694.1L929.7 695.8L931.1 694.9L932.6 695.6L934.1 696.0L935.5 694.3L937.0 693.6L938.5 694.6L939.9 693.9L941.4 693.6L942.9 693.2L944.3 694.4L945.8 693.2L947.3 692.6L948.7 692.9L950.2 692.4L951.7 692.9L953.1 692.5L954.6 692.0L956.1 692.7L957.5 691.9L959.0 692.5L960.5 692.6L961.9 691.6L963.4 691.2L964.9 691.5L966.3 691.7L967.8 691.0L969.3 690.9L970.7 690.6L972.2 690.5L973.7 690.5L975.1 689.5L976.6 689.4L978.1 689.4L979.5 688.8L981.0 689.0L982.5 688.9L983.9 688.3L985.4 687.7L986.9 687.3L988.3 688.5L989.8 687.7L991.3 686.2L992.7 686.1L994.2 687.3L995.7 686.7L997.1 685.6L998.6 685.9L1000.1 684.0L1001.5 684.5L1003.0 684.5L1004.5 682.7L1005.9 682.9L1007.4 683.4L1008.9 683.2L1010.3 681.8L1011.8 681.9L1013.3 682.1L1014.7 680.4L1016.2 679.2L1017.7 679.3L1019.1 678.5L1020.6 678.8L1022.1 677.4L1023.5 676.0L1025.0 677.2L1026.5 674.6L1027.9 674.5L1029.4 673.8L1030.9 673.1L1032.3 671.9L1033.8 671.4L1035.3 670.2L1036.7 668.6L1038.2 668.6L1039.7 667.9L1041.1 667.1L1042.6 666.5L1044.1 665.2L1045.5 665.8L1047.0 665.2L1048.5 661.7L1049.9 662.5L1051.4 661.1L1052.9 659.0L1054.3 660.3L1055.8 658.7L1057.3 658.0L1058.7 657.0L1060.2 657.4L1061.7 656.7L1063.1 655.2L1064.6 654.7L1066.1 653.3L1067.5 652.5L1069.0 650.8L1070.5 650.1L1071.9 647.8L1073.4 646.4L1074.9 644.1L1076.3 640.8L1077.8 638.3L1079.3 635.8L1080.7 627.3L1082.2 624.7L1083.7 619.4L1085.1 614.5L1086.6 608.0L1088.1 602.7L1089.5 593.7L1091.0 582.9L1092.5 572.1L1093.9 560.2L1095.4 545.3L1096.9 537.0L1098.3 522.1L1099.8 508.8L1101.3 498.9L1102.7 484.9L1104.2 468.9L1105.7 460.5L1107.1 440.6L1108.6 427.8L1110.1 412.0L1111.5 397.2L1113.0 378.0L1114.5 354.1L1115.9 327.9L1117.4 304.7L1118.9 286.0L1120.3 265.1L1121.8 244.7L1123.3 226.3L1124.7 220.6L1126.2 211.0L1127.7 213.9L1129.1 223.3L1130.6 238.4L1132.1 250.5L1133.5 268.2L1135.0 288.2L1136.5 307.1L1137.9 323.8L1139.4 350.5L1140.9 377.6L1142.3 397.4L1143.8 421.6L1145.3 435.1L1146.7 451.6L1148.2 468.6L1149.7 481.9L1151.1 491.8L1152.6 504.8L1154.1 514.4L1155.5 527.3L1157.0 543.2L1158.5 551.8L1159.9 566.4L1161.4 576.3L1162.9 585.1L1164.3 591.9L1165.8 597.2L1167.3 599.6L1168.7 605.7L1170.2 610.5L1171.7 616.2L1173.1 618.0L1174.6 622.0L1176.1 625.6L1177.5 630.4L1179.0 630.9L1180.5 634.0L1181.9 638.7L1183.4 639.3L1184.9 644.1L1186.3 646.3L1187.8 648.1L1189.3 651.6L1190.7 653.7L1192.2 657.0L1193.7 659.4L1195.1 662.5L1196.6 663.5L1198.1 665.5L1199.5 666.9L1201.0 669.0L1202.5 671.2L1203.9 670.7L1205.4 673.6L1206.9 674.0L1208.3 675.6L1209.8 676.9L1211.3 678.3L1212.7 679.0L1214.2 679.6L1215.7 681.0L1217.1 681.8L1218.6 682.5L1220.1 683.6L1221.5 684.8L1223.0 685.1L1224.5 685.8L1225.9 685.6L1227.4 686.8L1228.9 686.4L1230.3 688.3L1231.8 687.7L1233.3 689.3L1234.7 690.5L1236.2 688.9L1237.7 690.1L1239.1 689.9L1240.6 689.5L1242.1 689.6L1243.5 690.6L1245.0 691.2L1246.5 690.8L1247.9 690.0L1249.4 690.4L1250.9 691.0L1252.3 692.0L1253.8 691.6L1255.3 691.8L1256.7 692.4L1258.2 691.8L1259.7 692.0L1261.1 692.1L1262.6 691.5L1264.1 692.8L1265.5 693.0L1267.0 693.5L1268.5 692.5L1269.9 692.9L1271.4 694.0L1272.9 693.9L1274.3 694.6L1275.8 693.6L1277.3 694.3L1278.7 694.0L1280.2 694.7L1281.7 694.5L1283.1 695.1L1284.6 695.6L1286.1 695.5L1287.5 694.3L1289.0 695.9L1290.5 695.7L1291.9 695.1L1293.4 695.2L1294.9 695.8L1296.3 696.1L1297.8 695.6L1299.3 695.1L1300.7 696.1L1302.2 696.1L1303.7 697.3L1305.1 695.5L1306.6 697.5L1308.1 697.1L1309.5 696.4L1311.0 697.2L1312.5 696.4L1313.9 696.9L1315.4 696.1L1316.9 696.6L1318.3 696.1L1319.8 695.8L1321.3 696.5L1322.7 696.4L1324.2 697.1L1325.7 697.5L1327.1 696.8L1328.6 696.9L1330.1 697.0L1331.5 696.1L1333.0 697.2L1334.5 697.1L1335.9 697.1L1337.4 696.6L1338.9 696.2L1340.3 697.1L1341.8 697.4L1343.3 698.0L1344.7 697.9L1346.2 698.1L1347.7 697.6L1349.1 698.1L1350.6 697.4L1352.1 697.9L1353.5 698.0L1355.0 699.0L1356.5 697.8L1357.9 697.0L1359.4 698.4L1360.9 697.3L1362.3 697.7L1363.8 697.7L1365.3 697.4L1366.7 698.5L1368.2 698.2L1369.7 697.6L1371.1 698.0L1372.6 697.8L1374.1 698.3L1375.5 697.8L1377.0 697.7L1378.5 697.8L1379.9 697.9L1381.4 698.3L1382.9 697.7L1384.3 698.1L1385.8 698.4L1387.3 699.4L1388.7 698.7L1390.2 696.8L1391.7 698.0L1393.1 698.1L1394.6 698.5L1396.1 699.1L1397.5 698.7L1399.0 697.2L1400.5 698.5L1401.9 698.5L1403.4 698.6L1404.9 699.1L1406.3 697.9L1407.8 699.0L1409.3 697.6L1410.7 698.5L1412.2 698.7L1413.7 699.7L1415.1 698.2L1416.6 697.7L1418.1 698.9L1419.5 698.2L1421.0 699.3L1422.5 698.2L1423.9 698.1L1425.4 699.2L1426.9 698.6L1428.3 699.1L1429.8 697.9L1431.3 699.4L1432.7 698.3L1434.2 699.0L1435.7 698.1L1437.1 697.8" stroke="#ff0000" stroke-width="1.8" fill="none" stroke-linejoin="round"/>
<path d="M77.5 649.6L79.0 647.0L80.4 648.2L81.9 647.4L83.4 647.2L84.8 647.0L86.3 645.8L87.8 646.5L89.2 645.9L90.7 647.9L92.2 646.1L93.6 645.6L95.1 645.5L96.6 645.2L98.0 644.8L99.5 644.9L101.0 645.1L102.4 644.5L103.9 644.8L105.4 643.8L106.8 643.4L108.3 643.6L109.8 642.3L111.2 640.8L112.7 639.6L114.2 638.3L115.6 636.9L117.1 632.4L118.6 628.0L120.0 622.4L121.5 611.3L123.0 596.2L124.4 571.3L125.5 541.0L125.9 525.5L126.2 513.7L126.9 473.7L127.4 452.8L127.6 435.2L128.3 391.5L128.8 370.1L129.0 365.6L129.5 355.6L129.7 355.4L130.3 375.2L130.4 379.5L131.1 421.3L131.8 460.7L131.8 461.7L132.5 500.8L133.2 529.7L133.2 530.1L134.7 574.8L136.2 599.7L137.6 614.1L139.1 623.3L140.6 630.2L142.0 632.0L143.5 635.6L145.0 636.3L146.4 636.1L147.9 638.5L149.4 639.3L150.8 641.4L152.3 641.0L153.8 642.5L155.2 644.2L156.7 645.3L158.2 644.4L159.6 646.0L161.1 647.2L162.6 647.3L164.0 648.9L165.5 647.9L167.0 648.9L168.4 648.3L169.9 649.7L171.4 649.1L172.8 649.0L174.3 648.4L175.8 649.9L177.2 648.4L178.7 647.1L180.2 646.5L181.6 645.7L183.1 644.7L184.6 644.3L186.0 644.0L187.5 644.8L189.0 643.1L190.4 643.3L191.9 643.3L193.4 643.4L194.8 643.5L196.3 642.3L197.8 641.9L199.2 642.7L200.7 643.2L202.2 642.9L203.6 642.4L205.1 642.0L206.6 642.2L208.0 641.8L209.5 642.3L211.0 641.3L212.4 641.8L213.9 641.5L215.4 641.8L216.8 641.6L218.3 642.8L219.8 642.1L221.2 642.1L222.7 640.0L224.2 640.8L225.6 640.4L226.7 640.7L227.1 639.0L227.4 640.8L228.1 640.3L228.6 638.7L228.8 638.8L229.5 638.5L230.0 638.8L230.2 639.1L230.7 639.9L230.9 638.6L231.5 639.4L231.6 639.1L232.3 640.6L233.0 640.6L233.0 640.9L233.7 640.2L234.4 641.1L234.4 640.8L235.9 642.9L237.4 643.0L238.8 642.9L240.3 643.1L241.8 643.9L243.2 643.4L244.7 643.4L246.2 644.2L247.6 645.3L249.1 643.9L250.6 643.8L252.0 643.5L253.5 643.4L255.0 644.4L256.4 644.5L257.9 644.1L259.4 644.3L260.8 644.1L262.3 644.2L263.8 643.3L265.2 643.8L266.7 644.1L268.2 643.6L269.6 643.8L271.1 643.6L272.6 643.8L274.0 644.4L275.5 643.8L277.0 643.9L278.4 644.4L279.9 644.2L281.4 644.8L282.8 642.7L284.3 644.3L285.8 643.5L287.2 643.8L288.7 644.1L290.2 644.2L291.6 644.1L293.1 643.6L294.6 644.3L296.0 643.3L297.5 643.3L299.0 643.7L300.4 642.9L301.9 644.3L303.4 643.7L304.8 644.2L306.3 643.0L307.8 642.7L309.2 643.0L310.7 643.2L312.2 642.5L313.6 642.9L315.1 642.6L316.6 643.5L318.0 642.2L319.5 643.1L321.0 642.1L322.4 641.9L323.9 642.0L325.4 641.7L326.8 642.3L328.3 642.8L329.8 642.3L331.2 642.5L332.7 643.0L334.2 642.2L335.6 642.2L337.1 641.9L338.6 641.2L340.0 642.4L341.5 641.1L343.0 642.3L344.4 642.0L345.9 642.5L347.4 641.9L348.8 641.5L350.3 642.1L351.8 641.6L353.2 641.8L354.7 641.9L356.2 641.8L357.6 641.7L359.1 641.4L360.6 641.7L362.0 640.7L363.5 641.7L365.0 641.1L366.4 642.3L367.9 642.3L369.4 640.7L370.8 641.7L372.3 641.5L373.8 641.0L375.2 641.8L376.7 641.3L378.2 640.5L379.6 641.3L381.1 641.3L382.6 641.3L384.0 640.6L385.5 641.4L387.0 641.4L388.4 640.3L389.9 640.4L391.4 640.5L392.8 640.1L394.3 641.0L395.8 639.9L397.2 638.8L398.7 638.4L400.2 638.0L401.6 638.5L403.1 636.1L404.6 635.2L406.0 634.6L407.5 634.0L407.5 635.3L409.0 634.0L410.4 635.6L411.9 636.3L413.4 637.5L414.8 637.4L416.3 639.6L417.8 639.2L419.2 639.7L420.7 639.5L422.2 639.8L423.6 640.7L425.1 641.1L426.6 641.1L428.0 641.5L429.5 641.3L431.0 641.0L432.4 641.5L433.9 641.4L435.4 641.1L436.8 641.5L438.3 641.9L439.8 641.3L441.2 641.1L442.7 641.6L444.2 642.2L445.6 641.2L447.1 641.2L448.6 641.2L450.0 641.9L451.5 640.4L453.0 641.5L454.4 641.9L455.9 640.9L457.4 642.1L458.8 641.7L460.3 641.2L461.8 641.6L463.2 640.8L464.7 641.4L466.2 642.7L467.6 641.4L469.1 642.9L470.6 642.0L472.0 642.7L473.5 642.3L475.0 641.2L476.4 642.2L477.9 642.6L479.4 642.1L480.8 642.0L482.3 642.9L483.8 642.5L485.2 642.0L486.7 642.5L488.2 643.3L489.6 642.6L491.1 643.3L492.6 643.5L494.0 642.6L495.5 641.9L497.0 641.6L498.4 642.0L499.9 642.2L501.4 641.6L502.8 641.4L504.3 640.5L505.8 640.5L507.2 639.6L508.7 639.1L510.2 638.0L511.6 637.2L513.1 637.1L514.6 635.9L516.0 634.9L517.5 634.6L519.0 632.6L520.4 632.3L521.9 628.5L523.4 623.8L524.8 619.5L526.3 611.9L527.8 600.5L528.8 592.3L529.2 585.9L529.5 581.1L530.2 576.3L530.7 569.1L530.9 569.1L531.6 560.3L532.2 556.1L532.3 558.3L532.8 554.7L533.0 556.2L533.6 559.9L533.7 558.8L534.4 564.4L535.1 572.1L535.1 572.9L535.8 579.4L536.5 588.5L536.6 589.3L538.0 604.3L539.5 612.3L541.0 618.9L542.4 624.8L543.9 627.5L545.4 630.5L546.8 632.2L548.3 634.4L549.8 634.7L551.2 636.3L552.7 636.1L554.2 638.0L555.6 640.2L557.1 639.8L558.6 640.5L560.0 640.7L561.5 642.0L563.0 642.1L564.4 641.6L565.9 642.8L567.4 642.8L568.8 643.2L570.3 642.7L571.8 644.0L573.2 643.4L574.7 643.2L576.2 643.0L577.6 643.2L579.1 643.7L580.6 643.0L582.0 643.6L583.5 643.1L585.0 643.2L586.4 642.6L587.9 641.7L589.4 640.2L590.8 640.6L592.3 640.1L593.8 638.8L595.2 637.9L596.7 636.0L598.2 634.3L599.6 631.9L601.1 630.7L602.6 626.9L604.0 623.1L605.5 619.4L607.0 617.9L607.8 618.4L608.4 617.8L609.9 618.4L611.4 622.3L612.8 625.0L614.3 627.2L615.8 629.1L617.2 630.9L618.7 631.7L620.2 632.8L621.6 632.6L623.1 634.5L624.6 634.2L626.0 635.6L627.5 633.8L629.0 635.7L630.4 636.2L631.9 635.9L633.4 636.8L634.8 637.4L636.3 637.8L637.8 637.6L639.2 638.2L640.7 639.3L642.2 639.8L643.6 639.5L645.1 639.9L646.6 640.2L648.0 640.8L649.5 639.9L651.0 639.8L652.4 640.6L653.9 640.0L655.4 640.3L656.8 640.6L658.3 640.8L659.8 640.0L661.2 640.9L662.7 639.6L664.2 640.7L665.6 639.6L667.1 639.7L668.6 640.6L670.0 640.0L671.5 639.7L673.0 639.8L674.4 640.2L675.9 639.8L677.4 639.7L678.8 640.2L680.3 639.2L681.8 639.2L683.2 639.0L684.7 639.8L686.2 639.6L687.6 639.7L689.1 638.8L690.6 638.7L692.0 639.1L693.5 638.3L695.0 638.8L696.4 638.7L697.9 637.8L699.4 638.0L700.8 637.9L702.3 638.7L703.8 639.1L705.2 637.5L706.7 637.4L708.2 636.0L709.6 637.2L711.1 637.0L712.6 636.2L714.0 637.1L715.5 635.6L717.0 636.2L718.4 636.2L719.9 635.3L721.4 636.3L722.8 636.2L724.3 634.7L725.8 634.4L727.2 635.3L728.7 634.8L730.2 633.9L731.6 634.1L733.1 634.0L734.6 633.7L736.0 634.0L737.5 633.6L739.0 634.1L740.4 633.7L741.9 633.1L743.4 633.1L744.8 633.1L746.3 632.6L747.8 631.4L749.2 632.5L750.7 632.0L752.2 632.8L753.6 632.0L755.1 632.2L756.6 632.2L758.0 633.1L759.5 632.3L761.0 632.2L762.4 632.7L763.9 632.5L765.4 633.0L766.8 633.2L768.3 633.6L769.8 634.8L771.2 633.7L772.7 634.3L774.2 634.4L775.6 635.2L777.1 634.5L778.6 635.1L780.0 635.8L781.5 636.5L783.0 636.5L784.4 636.6L785.9 636.7L787.4 637.8L788.8 638.6L790.3 638.3L791.8 638.6L793.2 639.0L794.7 638.5L796.2 639.1L797.6 639.4L799.1 640.0L800.6 640.0L802.0 639.6L803.5 641.0L805.0 641.4L806.4 640.5L807.9 641.0L809.4 641.0L810.9 641.4L812.3 640.3L813.8 642.1L815.3 641.1L816.7 642.1L818.2 641.6L819.7 641.4L821.1 641.7L822.6 642.3L824.1 641.5L825.5 641.9L827.0 641.9L828.5 641.4L829.9 643.0L831.4 642.8L832.9 642.5L834.3 643.2L835.8 642.2L837.3 642.8L838.7 643.8L840.2 643.5L841.7 642.0L843.1 641.5L844.6 642.7L846.1 643.9L847.5 643.2L849.0 643.4L850.5 643.9L851.9 643.2L853.4 643.9L854.9 644.2L856.3 644.1L857.8 644.2L859.3 643.7L860.7 644.4L862.2 644.0L863.7 644.9L865.1 645.6L866.6 644.0L868.1 643.3L869.5 644.3L871.0 644.7L872.5 645.1L873.9 645.2L875.4 644.3L876.9 644.3L878.3 645.4L879.8 644.3L881.3 645.4L882.7 644.8L884.2 645.3L885.7 645.3L887.1 645.4L888.6 645.4L890.1 644.6L891.5 645.2L893.0 645.1L894.5 645.3L895.9 645.8L897.4 645.0L898.9 644.8L900.3 644.8L901.8 645.0L903.3 645.6L904.7 644.8L906.2 645.8L907.7 645.3L909.1 645.0L910.6 644.4L912.1 645.2L913.5 645.3L915.0 644.0L916.5 645.4L917.9 645.5L919.4 644.7L920.9 644.6L922.3 645.4L923.8 644.7L925.3 643.4L926.7 643.7L928.2 643.5L929.7 643.3L931.1 641.9L932.6 643.3L934.1 642.4L935.5 642.6L937.0 642.2L938.5 642.5L939.9 641.7L941.4 641.2L942.9 641.7L944.3 642.0L945.8 640.8L947.3 641.5L948.7 640.7L950.2 640.1L951.7 640.9L953.1 639.5L954.6 640.3L956.1 639.2L957.5 639.5L959.0 638.4L960.5 638.4L961.9 639.2L963.4 638.6L964.9 638.3L966.3 637.8L967.8 638.0L969.3 636.8L970.7 636.7L972.2 637.0L973.7 636.4L975.1 636.2L976.6 636.3L978.1 636.0L979.5 635.7L981.0 636.5L982.5 635.9L983.9 635.7L985.4 634.7L986.9 634.2L988.3 633.4L989.8 633.7L991.3 632.4L992.7 632.9L994.2 633.4L995.7 633.5L997.1 632.8L998.6 631.4L1000.1 631.9L1001.5 630.7L1003.0 631.3L1004.5 630.4L1005.9 630.6L1007.4 631.2L1008.9 629.8L1010.3 630.2L1011.8 628.5L1013.3 627.7L1014.7 628.2L1016.2 627.8L1017.7 625.8L1019.1 625.6L1020.6 624.0L1022.1 624.0L1023.5 624.0L1025.0 622.6L1026.5 621.5L1027.9 620.2L1029.4 620.6L1030.9 620.0L1032.3 619.0L1033.8 617.8L1035.3 615.7L1036.7 616.7L1038.2 614.3L1039.7 613.1L1041.1 612.6L1042.6 609.4L1044.1 609.9L1045.5 608.8L1047.0 608.3L1048.5 608.2L1049.9 606.8L1051.4 604.4L1052.9 604.9L1054.3 604.7L1055.8 604.0L1057.3 602.3L1058.7 601.4L1060.2 602.4L1061.7 601.5L1063.1 600.4L1064.6 598.3L1066.1 600.1L1067.5 595.6L1069.0 596.6L1070.5 597.3L1071.9 594.2L1073.4 592.7L1074.9 589.3L1076.3 588.5L1077.8 582.9L1079.3 580.2L1080.7 574.3L1082.2 567.3L1083.7 563.2L1085.1 555.7L1086.6 551.9L1088.1 547.8L1089.5 541.6L1091.0 535.1L1092.5 526.6L1093.9 514.6L1095.4 503.6L1096.9 493.8L1098.3 484.1L1099.8 473.7L1101.3 455.5L1102.7 439.4L1104.2 423.3L1105.7 407.3L1107.1 395.6L1108.6 375.4L1110.1 359.4L1111.5 343.2L1113.0 315.6L1114.5 294.1L1115.9 258.8L1117.4 237.1L1118.9 216.7L1120.3 204.9L1121.8 188.3L1123.3 178.3L1124.7 174.8L1126.2 164.3L1127.7 163.3L1129.1 167.6L1130.6 179.1L1132.1 191.4L1133.5 204.2L1135.0 226.3L1136.5 252.2L1137.9 287.3L1139.4 312.8L1140.9 341.0L1142.3 356.2L1143.8 374.9L1145.3 392.5L1146.7 411.1L1148.2 429.4L1149.7 448.5L1151.1 458.2L1152.6 468.6L1154.1 479.8L1155.5 489.8L1157.0 496.4L1158.5 506.7L1159.9 514.6L1161.4 521.0L1162.9 527.9L1164.3 531.8L1165.8 537.2L1167.3 546.0L1168.7 550.8L1170.2 552.7L1171.7 558.8L1173.1 562.8L1174.6 567.3L1176.1 570.8L1177.5 573.8L1179.0 577.9L1180.5 581.2L1181.9 584.2L1183.4 585.7L1184.9 587.6L1186.3 592.1L1187.8 593.9L1189.3 597.7L1190.7 600.1L1192.2 601.8L1193.7 603.2L1195.1 605.4L1196.6 608.0L1198.1 608.3L1199.5 611.2L1201.0 612.6L1202.5 613.9L1203.9 616.2L1205.4 616.1L1206.9 618.6L1208.3 618.6L1209.8 620.0L1211.3 621.0L1212.7 623.1L1214.2 623.3L1215.7 625.0L1217.1 625.2L1218.6 627.5L1220.1 628.9L1221.5 628.8L1223.0 630.6L1224.5 630.8L1225.9 632.6L1227.4 632.2L1228.9 632.0L1230.3 634.5L1231.8 634.3L1233.3 634.5L1234.7 635.4L1236.2 635.4L1237.7 636.8L1239.1 636.9L1240.6 638.8L1242.1 638.8L1243.5 637.9L1245.0 638.3L1246.5 639.1L1247.9 638.6L1249.4 639.8L1250.9 640.0L1252.3 639.8L1253.8 640.1L1255.3 640.8L1256.7 641.5L1258.2 641.7L1259.7 641.1L1261.1 641.7L1262.6 641.0L1264.1 641.8L1265.5 641.3L1267.0 642.4L1268.5 641.5L1269.9 641.9L1271.4 642.6L1272.9 643.1L1274.3 642.2L1275.8 642.9L1277.3 643.4L1278.7 643.6L1280.2 643.3L1281.7 643.9L1283.1 643.9L1284.6 644.9L1286.1 644.6L1287.5 643.8L1289.0 643.5L1290.5 644.8L1291.9 645.4L1293.4 645.0L1294.9 645.4L1296.3 644.8L1297.8 644.4L1299.3 645.5L1300.7 645.2L1302.2 645.6L1303.7 644.5L1305.1 645.4L1306.6 645.0L1308.1 645.8L1309.5 645.1L1311.0 645.2L1312.5 645.2L1313.9 646.2L1315.4 645.6L1316.9 645.3L1318.3 645.2L1319.8 645.2L1321.3 646.5L1322.7 644.9L1324.2 645.4L1325.7 646.2L1327.1 646.5L1328.6 645.9L1330.1 646.4L1331.5 646.4L1333.0 646.6L1334.5 646.2L1335.9 647.0L1337.4 646.3L1338.9 647.0L1340.3 645.7L1341.8 646.8L1343.3 645.7L1344.7 645.6L1346.2 646.7L1347.7 646.0L1349.1 646.7L1350.6 646.0L1352.1 647.4L1353.5 646.6L1355.0 646.0L1356.5 646.7L1357.9 647.1L1359.4 646.3L1360.9 647.0L1362.3 647.8L1363.8 647.2L1365.3 646.8L1366.7 646.5L1368.2 647.1L1369.7 646.1L1371.1 645.4L1372.6 646.6L1374.1 646.4L1375.5 647.8L1377.0 647.1L1378.5 646.5L1379.9 646.4L1381.4 647.3L1382.9 646.6L1384.3 646.8L1385.8 647.1L1387.3 647.2L1388.7 647.2L1390.2 647.2L1391.7 647.8L1393.1 648.0L1394.6 646.4L1396.1 648.5L1397.5 647.3L1399.0 647.9L1400.5 646.9L1401.9 647.4L1403.4 647.4L1404.9 647.4L1406.3 647.7L1407.8 647.6L1409.3 646.8L1410.7 647.3L1412.2 647.7L1413.7 647.7L1415.1 647.2L1416.6 647.2L1418.1 647.3L1419.5 646.8L1421.0 646.8L1422.5 648.2L1423.9 647.2L1425.4 647.5L1426.9 647.0L1428.3 648.1L1429.8 648.3L1431.3 647.3L1432.7 647.7L1434.2 647.1L1435.7 648.3L1437.1 647.9" stroke="#0000ff" stroke-width="1.8" fill="none" stroke-linejoin="round"/>
<path d="M77.5 595.6L79.0 595.4L80.4 596.0L81.9 595.1L83.4 593.6L84.8 594.0L86.3 593.4L87.8 593.4L89.2 592.2L90.7 592.8L92.2 592.6L93.6 593.0L95.1 592.2L96.6 592.1L98.0 590.8L99.5 592.5L101.0 590.0L102.4 591.2L103.9 590.0L105.4 589.3L106.8 588.8L108.3 588.1L109.8 587.8L111.2 586.4L112.7 586.0L114.2 582.3L115.6 581.0L117.1 577.4L118.6 574.1L120.0 565.9L121.5 557.6L123.0 543.0L124.4 516.1L125.5 489.1L125.9 473.4L126.2 462.0L126.9 427.1L127.4 396.4L127.6 382.1L128.3 339.3L128.8 314.5L129.0 308.9L129.5 297.4L129.7 298.9L130.3 316.9L130.4 322.1L131.1 363.9L131.8 406.2L131.8 411.7L132.5 445.9L133.2 476.8L133.2 479.0L134.7 519.7L136.2 544.3L137.6 558.9L139.1 568.5L140.6 573.1L142.0 578.2L143.5 578.8L145.0 580.1L146.4 581.6L147.9 583.0L149.4 585.1L150.8 586.5L152.3 588.2L153.8 589.9L155.2 590.6L156.7 593.0L158.2 593.1L159.6 593.8L161.1 596.3L162.6 595.9L164.0 596.0L165.5 598.0L167.0 597.2L168.4 597.9L169.9 596.9L171.4 597.1L172.8 596.2L174.3 595.8L175.8 595.9L177.2 595.8L178.7 595.6L180.2 595.9L181.6 593.6L183.1 594.2L184.6 592.8L186.0 592.5L187.5 591.4L189.0 590.9L190.4 590.9L191.9 590.3L193.4 590.7L194.8 590.1L196.3 590.9L197.8 590.0L199.2 589.8L200.7 590.1L202.2 589.5L203.6 589.0L205.1 588.7L206.6 588.5L208.0 589.0L209.5 588.6L211.0 588.2L212.4 588.3L213.9 587.4L215.4 587.9L216.8 586.7L218.3 588.2L219.8 587.4L221.2 587.3L222.7 587.5L224.2 587.0L225.6 586.6L226.7 587.1L227.1 586.4L227.4 585.6L228.1 586.0L228.6 584.5L228.8 586.3L229.5 584.8L230.0 584.7L230.2 586.0L230.7 585.9L230.9 584.8L231.5 585.5L231.6 585.8L232.3 586.8L233.0 586.6L233.0 586.7L233.7 588.1L234.4 588.2L234.4 588.5L235.9 589.5L237.4 589.3L238.8 590.1L240.3 589.6L241.8 591.2L243.2 592.4L244.7 591.3L246.2 592.6L247.6 592.6L249.1 592.0L250.6 592.1L252.0 592.1L253.5 591.6L255.0 592.0L256.4 592.1L257.9 592.4L259.4 592.5L260.8 591.7L262.3 592.5L263.8 591.7L265.2 592.0L266.7 592.3L268.2 592.0L269.6 592.0L271.1 592.2L272.6 591.7L274.0 591.6L275.5 591.9L277.0 592.5L278.4 591.9L279.9 592.9L281.4 592.0L282.8 590.3L284.3 591.7L285.8 592.8L287.2 591.9L288.7 591.6L290.2 591.3L291.6 592.5L293.1 592.3L294.6 592.1L296.0 592.0L297.5 592.5L299.0 592.1L300.4 591.0L301.9 592.0L303.4 591.7L304.8 591.5L306.3 592.0L307.8 591.5L309.2 589.9L310.7 592.3L312.2 592.0L313.6 591.3L315.1 591.2L316.6 591.5L318.0 590.6L319.5 591.4L321.0 591.1L322.4 591.0L323.9 590.7L325.4 590.8L326.8 591.7L328.3 591.8L329.8 591.3L331.2 590.9L332.7 590.5L334.2 591.3L335.6 591.7L337.1 590.0L338.6 591.3L340.0 589.6L341.5 590.5L343.0 590.8L344.4 589.8L345.9 589.6L347.4 590.4L348.8 590.7L350.3 589.9L351.8 590.7L353.2 589.5L354.7 590.7L356.2 589.7L357.6 589.7L359.1 589.7L360.6 589.5L362.0 590.1L363.5 590.2L365.0 589.2L366.4 588.7L367.9 588.1L369.4 588.2L370.8 588.5L372.3 588.4L373.8 588.3L375.2 588.2L376.7 588.4L378.2 587.4L379.6 587.5L381.1 588.5L382.6 588.3L384.0 587.5L385.5 588.4L387.0 587.2L388.4 587.3L389.9 586.4L391.4 587.6L392.8 586.9L394.3 587.1L395.8 586.5L397.2 585.7L398.7 585.0L400.2 584.7L401.6 582.9L403.1 581.7L404.6 580.7L406.0 580.5L406.7 580.5L407.5 581.3L409.0 580.9L410.4 582.9L411.9 583.1L413.4 584.9L414.8 585.6L416.3 587.2L417.8 587.2L419.2 587.1L420.7 588.0L422.2 588.2L423.6 588.2L425.1 588.4L426.6 588.3L428.0 590.3L429.5 589.1L431.0 589.7L432.4 588.7L433.9 588.8L435.4 589.4L436.8 589.5L438.3 590.0L439.8 589.2L441.2 590.0L442.7 590.5L444.2 589.3L445.6 590.3L447.1 589.4L448.6 590.1L450.0 590.1L451.5 590.8L453.0 589.6L454.4 590.0L455.9 590.5L457.4 589.3L458.8 589.9L460.3 589.5L461.8 589.5L463.2 590.2L464.7 590.2L466.2 591.1L467.6 590.5L469.1 590.4L470.6 589.7L472.0 589.6L473.5 589.8L475.0 588.5L476.4 590.5L477.9 589.2L479.4 589.0L480.8 589.3L482.3 589.9L483.8 590.1L485.2 589.2L486.7 589.5L488.2 589.2L489.6 588.7L491.1 589.2L492.6 589.1L494.0 588.2L495.5 589.5L497.0 588.0L498.4 588.9L499.9 588.1L501.4 588.1L502.8 588.1L504.3 588.7L505.8 587.5L507.2 587.8L508.7 588.5L510.2 587.0L511.6 587.0L513.1 586.9L514.6 585.7L516.0 585.5L517.5 584.0L519.0 583.6L520.4 581.6L521.9 579.0L523.4 577.4L524.8 572.4L526.3 566.2L527.8 556.7L529.2 543.4L529.9 535.7L530.6 525.9L530.7 525.1L531.3 513.4L532.0 502.9L532.2 501.8L532.7 493.5L533.4 487.2L533.6 487.5L533.9 485.7L534.1 486.1L534.8 490.0L535.1 495.5L535.5 500.0L536.2 509.3L536.6 516.7L536.9 520.4L537.6 533.0L538.0 538.6L539.5 553.7L541.0 564.2L542.4 570.4L543.9 576.8L545.4 579.7L546.8 582.1L548.3 584.6L549.8 585.3L551.2 586.4L552.7 587.3L554.2 587.7L555.6 590.2L557.1 589.3L558.6 589.7L560.0 590.7L561.5 588.9L563.0 590.7L564.4 591.0L565.9 590.6L567.4 591.5L568.8 590.4L570.3 591.5L571.8 592.0L573.2 590.5L574.7 590.9L576.2 591.5L577.6 591.5L579.1 591.1L580.6 591.5L582.0 591.3L583.5 590.4L585.0 590.8L586.4 589.9L587.9 589.2L589.4 588.7L590.8 589.9L592.3 588.8L593.8 589.2L595.2 586.5L596.7 586.0L598.2 585.0L599.6 583.0L601.1 581.1L602.6 578.1L604.0 574.1L605.5 568.9L607.0 565.6L608.4 564.1L609.8 562.3L609.9 562.7L611.4 562.8L612.8 566.5L614.3 570.2L615.8 574.9L617.2 578.0L618.7 580.9L620.2 583.6L621.6 583.8L623.1 585.9L624.6 585.7L626.0 587.8L627.5 587.6L629.0 588.2L630.4 588.7L631.9 589.8L633.4 589.2L634.8 589.1L636.3 588.9L637.8 589.8L639.2 589.3L640.7 589.5L642.2 589.8L643.6 590.2L645.1 589.5L646.6 590.2L648.0 590.8L649.5 589.1L651.0 590.5L652.4 590.9L653.9 589.5L655.4 590.0L656.8 589.0L658.3 589.8L659.8 589.4L661.2 589.6L662.7 588.9L664.2 588.9L665.6 589.0L667.1 588.8L668.6 588.7L670.0 588.8L671.5 588.2L673.0 588.6L674.4 588.8L675.9 587.3L677.4 588.4L678.8 587.8L680.3 587.5L681.8 587.3L683.2 587.4L684.7 587.3L686.2 587.8L687.6 586.8L689.1 587.9L690.6 586.8L692.0 587.5L693.5 587.5L695.0 586.2L696.4 587.3L697.9 587.8L699.4 586.2L700.8 586.7L702.3 586.2L703.8 586.2L705.2 585.9L706.7 585.6L708.2 586.1L709.6 586.0L711.1 585.4L712.6 586.0L714.0 585.6L715.5 585.2L717.0 584.3L718.4 585.5L719.9 585.1L721.4 583.0L722.8 583.4L724.3 583.6L725.8 584.2L727.2 584.2L728.7 583.2L730.2 583.3L731.6 583.4L733.1 582.2L734.6 583.1L736.0 582.5L737.5 582.6L739.0 582.4L740.4 581.7L741.9 581.7L743.4 582.2L744.8 582.2L746.3 581.9L747.8 582.6L749.2 581.8L750.7 581.3L752.2 581.8L753.6 581.9L755.1 582.0L756.6 582.8L758.0 582.6L759.5 583.0L761.0 582.9L762.4 582.5L763.9 583.4L765.4 582.8L766.8 583.3L768.3 582.8L769.8 583.6L771.2 583.5L772.7 584.2L774.2 585.2L775.6 585.7L777.1 585.2L778.6 584.8L780.0 585.6L781.5 585.5L783.0 585.3L784.4 585.8L785.9 585.9L787.4 586.0L788.8 587.3L790.3 586.5L791.8 586.7L793.2 587.6L794.7 587.0L796.2 587.0L797.6 587.3L799.1 588.2L800.6 588.3L802.0 588.5L803.5 588.2L805.0 588.1L806.4 589.2L807.9 588.0L809.4 588.8L810.9 588.3L812.3 588.9L813.8 589.1L815.3 589.9L816.7 587.9L818.2 590.2L819.7 589.1L821.1 589.8L822.6 590.2L824.1 589.5L825.5 589.9L827.0 590.3L828.5 590.1L829.9 589.9L831.4 590.5L832.9 590.5L834.3 589.8L835.8 591.4L837.3 590.9L838.7 589.6L840.2 590.5L841.7 591.9L843.1 591.9L844.6 591.3L846.1 590.4L847.5 591.2L849.0 592.0L850.5 591.7L851.9 591.4L853.4 591.3L854.9 592.2L856.3 591.7L857.8 592.1L859.3 592.2L860.7 592.9L862.2 592.2L863.7 592.3L865.1 591.3L866.6 592.9L868.1 592.8L869.5 592.4L871.0 591.4L872.5 592.3L873.9 592.6L875.4 593.7L876.9 593.0L878.3 593.2L879.8 593.2L881.3 593.5L882.7 592.3L884.2 592.5L885.7 592.4L887.1 592.9L888.6 592.9L890.1 593.1L891.5 592.6L893.0 593.2L894.5 592.7L895.9 594.2L897.4 592.9L898.9 594.5L900.3 594.0L901.8 592.6L903.3 593.7L904.7 593.5L906.2 592.4L907.7 593.5L909.1 593.1L910.6 593.3L912.1 592.7L913.5 593.0L915.0 593.2L916.5 592.8L917.9 592.5L919.4 592.7L920.9 592.2L922.3 592.7L923.8 591.1L925.3 593.1L926.7 592.2L928.2 592.3L929.7 592.4L931.1 591.2L932.6 592.8L934.1 590.9L935.5 591.6L937.0 591.3L938.5 591.7L939.9 590.8L941.4 589.9L942.9 590.7L944.3 589.0L945.8 590.0L947.3 589.7L948.7 590.6L950.2 589.5L951.7 589.2L953.1 588.8L954.6 588.6L956.1 588.5L957.5 588.9L959.0 587.7L960.5 588.0L961.9 587.0L963.4 587.4L964.9 587.3L966.3 586.2L967.8 586.2L969.3 586.2L970.7 586.2L972.2 586.0L973.7 585.0L975.1 584.1L976.6 583.4L978.1 584.3L979.5 584.3L981.0 583.3L982.5 583.5L983.9 582.0L985.4 581.6L986.9 582.3L988.3 580.4L989.8 581.0L991.3 580.4L992.7 579.9L994.2 580.4L995.7 578.5L997.1 578.4L998.6 577.0L1000.1 577.3L1001.5 577.2L1003.0 577.0L1004.5 576.8L1005.9 576.8L1007.4 575.9L1008.9 574.7L1010.3 575.7L1011.8 575.5L1013.3 574.1L1014.7 573.9L1016.2 574.9L1017.7 573.8L1019.1 573.1L1020.6 571.9L1022.1 570.5L1023.5 568.9L1025.0 568.5L1026.5 566.8L1027.9 565.5L1029.4 564.6L1030.9 563.5L1032.3 563.2L1033.8 561.0L1035.3 562.4L1036.7 559.1L1038.2 558.6L1039.7 558.7L1041.1 556.6L1042.6 556.0L1044.1 555.5L1045.5 552.5L1047.0 553.5L1048.5 552.3L1049.9 552.1L1051.4 552.1L1052.9 551.8L1054.3 552.2L1055.8 551.9L1057.3 551.4L1058.7 550.3L1060.2 550.9L1061.7 548.9L1063.1 549.2L1064.6 549.8L1066.1 548.6L1067.5 546.2L1069.0 546.0L1070.5 546.3L1071.9 545.0L1073.4 544.2L1074.9 540.4L1076.3 538.9L1077.8 537.5L1079.3 534.2L1080.7 531.5L1082.2 525.3L1083.7 518.7L1085.1 513.2L1086.6 510.0L1088.1 505.6L1089.5 497.6L1091.0 486.6L1092.5 480.1L1093.9 470.4L1095.4 461.9L1096.9 451.5L1098.3 436.6L1099.8 425.1L1101.3 406.8L1102.7 388.7L1104.2 376.3L1105.7 357.2L1107.1 342.3L1108.6 327.3L1110.1 312.2L1111.5 286.8L1113.0 270.4L1114.5 253.8L1115.9 228.9L1117.4 199.0L1118.9 184.4L1120.3 161.4L1121.8 144.4L1123.3 127.3L1124.7 114.5L1126.2 110.3L1127.7 112.7L1129.1 118.5L1130.6 131.0L1132.1 145.3L1133.5 159.2L1135.0 190.5L1136.5 220.4L1137.9 249.3L1139.4 260.1L1140.9 283.6L1142.3 303.0L1143.8 324.5L1145.3 351.3L1146.7 367.9L1148.2 388.9L1149.7 402.2L1151.1 414.5L1152.6 430.1L1154.1 440.0L1155.5 449.9L1157.0 456.6L1158.5 466.5L1159.9 474.0L1161.4 479.3L1162.9 481.8L1164.3 490.3L1165.8 495.9L1167.3 500.5L1168.7 504.5L1170.2 508.5L1171.7 513.9L1173.1 518.7L1174.6 523.5L1176.1 527.2L1177.5 529.3L1179.0 531.7L1180.5 535.7L1181.9 537.7L1183.4 542.4L1184.9 542.7L1186.3 546.3L1187.8 548.6L1189.3 549.2L1190.7 552.5L1192.2 553.4L1193.7 554.6L1195.1 556.0L1196.6 558.3L1198.1 560.5L1199.5 559.8L1201.0 562.9L1202.5 563.7L1203.9 564.5L1205.4 566.2L1206.9 567.4L1208.3 568.6L1209.8 570.3L1211.3 570.4L1212.7 573.4L1214.2 573.9L1215.7 574.1L1217.1 574.5L1218.6 576.8L1220.1 577.7L1221.5 579.5L1223.0 580.5L1224.5 582.2L1225.9 581.9L1227.4 583.3L1228.9 583.4L1230.3 584.2L1231.8 585.9L1233.3 585.5L1234.7 586.0L1236.2 586.2L1237.7 586.8L1239.1 587.2L1240.6 587.0L1242.1 586.7L1243.5 587.7L1245.0 587.2L1246.5 587.6L1247.9 588.1L1249.4 588.2L1250.9 587.0L1252.3 589.3L1253.8 588.9L1255.3 589.7L1256.7 590.1L1258.2 588.4L1259.7 588.8L1261.1 589.4L1262.6 589.9L1264.1 589.3L1265.5 589.6L1267.0 590.5L1268.5 589.7L1269.9 590.5L1271.4 591.1L1272.9 590.6L1274.3 591.4L1275.8 591.1L1277.3 590.5L1278.7 591.2L1280.2 591.6L1281.7 591.7L1283.1 592.1L1284.6 592.4L1286.1 592.5L1287.5 592.6L1289.0 592.4L1290.5 592.6L1291.9 592.7L1293.4 592.6L1294.9 593.7L1296.3 592.1L1297.8 593.2L1299.3 592.3L1300.7 592.9L1302.2 593.7L1303.7 593.1L1305.1 594.0L1306.6 592.9L1308.1 593.2L1309.5 593.1L1311.0 593.5L1312.5 593.3L1313.9 593.3L1315.4 593.6L1316.9 594.2L1318.3 593.7L1319.8 593.7L1321.3 593.5L1322.7 593.3L1324.2 593.0L1325.7 593.2L1327.1 593.8L1328.6 592.8L1330.1 594.2L1331.5 593.6L1333.0 593.4L1334.5 593.6L1335.9 594.2L1337.4 594.1L1338.9 594.1L1340.3 594.9L1341.8 595.2L1343.3 593.4L1344.7 594.5L1346.2 593.7L1347.7 593.4L1349.1 593.9L1350.6 594.7L1352.1 594.0L1353.5 594.0L1355.0 595.0L1356.5 594.5L1357.9 594.3L1359.4 595.2L1360.9 594.6L1362.3 594.0L1363.8 593.8L1365.3 594.2L1366.7 594.5L1368.2 594.9L1369.7 594.9L1371.1 594.6L1372.6 593.9L1374.1 595.0L1375.5 594.6L1377.0 594.1L1378.5 594.0L1379.9 594.8L1381.4 594.8L1382.9 595.1L1384.3 594.1L1385.8 595.7L1387.3 593.8L1388.7 594.7L1390.2 595.5L1391.7 595.3L1393.1 594.3L1394.6 595.2L1396.1 595.5L1397.5 595.3L1399.0 594.4L1400.5 595.8L1401.9 594.1L1403.4 595.0L1404.9 594.4L1406.3 594.8L1407.8 594.8L1409.3 595.3L1410.7 594.4L1412.2 595.2L1413.7 595.7L1415.1 595.1L1416.6 595.4L1418.1 595.4L1419.5 594.8L1421.0 595.0L1422.5 595.2L1423.9 595.4L1425.4 596.2L1426.9 596.1L1428.3 595.0L1429.8 595.0L1431.3 594.8L1432.7 594.1L1434.2 596.0L1435.7 595.6L1437.1 594.4" stroke="#ff00ff" stroke-width="1.8" fill="none" stroke-linejoin="round"/>
<path d="M69.5 1834.4L70.9 1834.7L72.3 1834.6L73.7 1835.2L75.1 1834.9L76.5 1835.1L77.9 1835.5L79.3 1835.5L80.7 1835.3L82.1 1834.9L83.5 1834.7L84.9 1834.7L86.3 1834.9L87.7 1835.1L89.1 1834.6L90.5 1834.6L91.9 1835.3L93.3 1834.2L94.7 1835.0L96.1 1835.3L97.5 1834.6L98.9 1834.6L100.3 1834.7L101.7 1835.4L103.1 1835.1L104.5 1834.2L105.9 1834.9L107.3 1835.6L108.7 1835.6L110.1 1835.4L111.5 1835.0L112.9 1834.1L114.3 1835.1L115.7 1835.0L117.1 1835.1L118.5 1835.8L119.9 1835.1L121.3 1835.1L122.7 1835.3L124.1 1834.8L125.5 1834.6L126.9 1834.5L128.3 1835.2L129.7 1835.0L131.1 1834.4L132.5 1835.1L133.9 1834.5L135.3 1833.6L136.7 1834.4L138.1 1833.9L139.5 1833.1L140.9 1833.8L142.3 1833.2L143.7 1832.9L145.1 1833.0L146.5 1830.8L147.9 1830.2L149.3 1829.4L150.7 1828.4L152.1 1826.7L153.5 1825.6L154.9 1824.9L156.3 1825.0L157.7 1825.0L159.1 1823.4L160.5 1822.7L161.9 1823.4L163.3 1823.0L164.7 1822.4L166.1 1822.9L167.5 1822.7L168.9 1821.6L170.3 1821.4L171.7 1821.5L173.1 1820.5L174.5 1819.5L175.9 1819.8L177.3 1818.7L178.7 1818.7L180.1 1817.4L181.5 1816.8L182.9 1816.2L184.3 1814.7L185.7 1813.2L187.1 1811.6L188.5 1811.7L189.9 1809.3L191.3 1804.8L192.7 1801.4L194.1 1797.6L195.5 1789.5L196.9 1779.5L198.3 1764.0L198.4 1761.2L199.1 1748.7L199.7 1735.9L199.8 1732.5L200.5 1712.1L201.1 1694.1L201.2 1687.8L201.9 1663.9L202.4 1659.7L202.5 1658.6L202.6 1657.0L203.3 1675.8L203.9 1697.4L204.0 1700.7L204.7 1726.0L205.3 1739.4L205.4 1743.3L206.1 1756.1L206.7 1767.9L208.1 1782.4L209.5 1793.3L210.8 1799.6L212.2 1804.1L213.6 1809.8L215.0 1811.5L216.4 1815.3L217.8 1816.0L219.2 1818.5L220.6 1818.3L222.0 1818.8L223.4 1821.1L224.8 1821.4L226.2 1822.2L227.6 1823.4L229.0 1822.9L230.4 1823.2L231.8 1823.8L233.2 1824.0L234.6 1824.4L236.0 1825.1L237.4 1825.6L238.8 1826.1L240.2 1826.0L241.6 1826.7L243.0 1827.3L244.4 1826.8L245.8 1826.9L247.2 1825.9L248.6 1826.2L250.0 1825.8L251.4 1824.6L252.8 1823.4L254.2 1823.5L255.6 1822.9L257.0 1823.1L258.4 1821.3L259.8 1821.9L261.2 1818.9L262.6 1819.6L264.0 1819.1L265.4 1818.8L266.8 1818.5L268.2 1818.7L269.6 1819.7L271.0 1818.6L272.4 1819.5L273.8 1818.7L275.2 1818.9L276.6 1817.5L278.0 1819.0L279.4 1819.3L280.8 1818.3L282.2 1818.7L283.6 1818.6L285.0 1820.4L286.4 1818.6L287.8 1818.8L289.2 1817.7L290.6 1818.5L292.0 1819.5L293.4 1818.8L294.8 1818.0L296.2 1819.5L297.6 1819.7L299.0 1819.9L300.4 1820.0L301.8 1819.6L303.2 1821.5L304.6 1819.8L306.0 1820.4L307.4 1819.5L308.8 1819.9L310.2 1819.5L311.6 1820.5L313.0 1820.3L314.4 1820.0L315.8 1819.6L317.2 1821.0L318.6 1821.2L320.0 1821.3L321.4 1820.9L322.8 1821.4L324.2 1821.6L325.6 1821.4L327.0 1822.0L328.4 1821.2L329.8 1821.5L331.2 1820.6L332.6 1822.6L334.0 1821.2L335.4 1821.8L336.8 1822.0L338.2 1821.3L339.6 1821.8L341.0 1822.2L342.4 1821.9L343.8 1821.8L345.2 1821.8L346.6 1821.7L348.0 1822.0L349.4 1822.3L350.8 1822.4L352.2 1822.7L353.6 1822.2L355.0 1821.9L356.4 1822.7L357.8 1822.4L359.2 1822.8L360.6 1822.3L362.0 1822.5L363.4 1822.4L364.8 1822.6L366.2 1821.7L367.6 1822.1L369.0 1822.2L370.4 1823.0L371.8 1822.0L373.2 1822.2L374.6 1821.8L376.0 1820.8L377.4 1822.4L378.8 1822.1L380.2 1822.3L381.6 1820.8L383.0 1821.6L384.4 1821.5L385.8 1820.5L387.2 1821.4L388.6 1820.8L390.0 1821.2L391.4 1820.0L392.8 1820.3L394.2 1820.3L395.6 1819.8L397.0 1820.5L398.4 1821.0L399.8 1820.2L401.2 1820.4L402.6 1820.8L404.0 1820.2L405.4 1819.6L406.8 1818.7L408.2 1819.7L409.6 1819.3L411.0 1819.1L412.4 1819.6L413.8 1819.4L415.2 1818.2L416.6 1819.0L418.0 1818.6L419.4 1819.2L420.8 1818.6L422.2 1819.0L423.6 1818.1L425.0 1818.1L426.4 1818.0L427.8 1818.1L429.2 1818.0L430.6 1818.6L432.0 1817.4L433.4 1817.9L434.8 1817.2L436.2 1817.0L437.6 1817.3L439.0 1816.7L440.4 1817.5L441.8 1817.0L443.2 1817.0L444.6 1817.4L446.0 1817.9L447.4 1816.8L448.8 1815.9L450.2 1816.7L451.6 1816.8L453.0 1817.4L454.4 1816.7L455.8 1816.2L457.2 1817.1L458.6 1817.1L460.0 1816.4L461.4 1816.6L462.8 1816.7L464.2 1817.8L465.6 1816.2L467.0 1816.3L468.4 1816.4L469.8 1816.9L471.2 1816.4L472.6 1816.8L474.0 1817.1L475.4 1817.7L476.8 1816.6L478.2 1816.6L479.6 1816.6L481.0 1815.9L482.4 1816.3L483.8 1817.1L485.2 1817.1L486.6 1818.5L488.0 1817.8L489.4 1817.7L490.7 1818.1L492.1 1817.1L493.5 1817.2L494.9 1817.2L496.3 1817.6L497.7 1818.9L499.1 1817.7L500.5 1817.6L501.9 1818.0L503.3 1818.5L504.7 1818.4L506.1 1818.7L507.5 1817.7L508.9 1818.0L510.3 1818.4L511.7 1818.6L513.1 1819.4L514.5 1818.1L515.9 1819.1L517.3 1818.7L518.7 1819.2L520.1 1818.6L521.5 1818.3L522.9 1819.7L524.3 1819.3L525.7 1818.1L527.1 1819.5L528.5 1818.7L529.9 1819.2L531.3 1819.2L532.7 1818.5L534.1 1819.8L535.5 1818.9L536.9 1820.0L538.3 1819.4L539.7 1819.3L541.1 1819.1L542.5 1819.9L543.9 1818.2L545.3 1818.2L546.7 1818.0L548.1 1818.8L549.5 1818.5L550.9 1817.8L552.3 1817.7L553.7 1816.4L555.1 1817.8L556.5 1816.6L557.9 1816.5L559.3 1816.0L560.7 1816.2L562.1 1815.4L563.5 1815.2L564.9 1814.8L566.3 1814.0L567.7 1813.4L569.1 1813.3L570.5 1812.4L571.9 1811.5L573.3 1810.4L574.7 1806.7L576.1 1803.2L577.5 1799.6L578.8 1795.0L578.9 1793.5L579.5 1789.1L580.2 1787.4L580.3 1785.9L580.9 1781.1L581.6 1778.1L581.7 1778.3L582.3 1776.1L582.8 1775.9L583.0 1776.5L583.1 1776.2L583.7 1778.7L584.4 1780.6L584.5 1782.4L585.1 1784.2L585.8 1788.0L585.9 1788.1L586.5 1792.2L587.3 1797.0L588.7 1803.0L590.1 1804.3L591.5 1809.0L592.9 1810.4L594.3 1812.9L595.7 1813.6L597.1 1815.3L598.5 1817.2L599.9 1817.3L601.3 1818.1L602.7 1819.4L604.1 1819.7L605.5 1819.8L606.9 1819.3L608.3 1820.1L609.7 1819.5L611.1 1820.6L612.5 1820.8L613.9 1820.7L615.3 1821.6L616.7 1820.2L618.1 1821.0L619.5 1820.8L620.9 1820.2L622.3 1821.1L623.7 1821.2L625.1 1821.4L626.5 1820.7L627.9 1821.1L629.3 1820.2L630.7 1820.9L632.1 1820.5L633.5 1819.1L634.9 1818.4L636.3 1816.9L637.7 1816.6L639.1 1815.6L640.5 1815.0L641.9 1813.3L643.3 1814.3L644.7 1812.6L646.1 1812.1L647.5 1810.7L648.9 1809.0L650.3 1808.8L651.7 1806.8L653.1 1803.6L654.5 1803.0L655.9 1802.0L656.1 1801.6L657.3 1803.4L658.7 1801.9L660.1 1804.5L661.5 1803.6L662.9 1806.3L664.3 1805.9L665.7 1805.5L667.1 1807.4L668.5 1807.9L669.9 1807.5L671.3 1809.0L672.7 1807.9L674.1 1810.0L675.5 1810.3L676.9 1811.7L678.3 1811.2L679.7 1812.7L681.1 1812.6L682.5 1814.1L683.9 1814.5L685.3 1815.4L686.7 1814.9L688.1 1816.3L689.5 1816.5L690.9 1817.3L692.3 1816.4L693.7 1816.5L695.1 1816.9L696.5 1816.9L697.9 1815.3L699.3 1816.4L700.7 1817.0L702.1 1816.4L703.5 1815.6L704.9 1816.3L706.3 1816.5L707.7 1815.9L709.1 1816.4L710.5 1815.8L711.9 1816.2L713.3 1816.3L714.7 1817.1L716.1 1816.3L717.5 1816.7L718.9 1816.1L720.3 1815.3L721.7 1815.2L723.1 1816.2L724.5 1814.9L725.9 1814.8L727.3 1816.0L728.7 1815.0L730.1 1814.8L731.5 1816.2L732.9 1814.7L734.3 1815.4L735.7 1815.0L737.1 1815.0L738.5 1814.8L739.9 1815.2L741.3 1815.4L742.7 1813.9L744.1 1815.1L745.5 1813.9L746.9 1813.6L748.3 1813.8L749.7 1812.8L751.1 1812.3L752.5 1813.2L753.9 1811.7L755.3 1810.5L756.7 1809.4L758.1 1811.0L759.5 1810.3L760.9 1810.9L762.3 1808.8L763.7 1808.3L765.1 1808.6L766.5 1808.9L767.9 1808.5L769.3 1807.3L770.6 1806.5L772.0 1806.6L773.4 1807.0L774.8 1805.7L776.2 1805.2L777.6 1805.4L779.0 1805.0L780.4 1804.7L781.8 1805.7L783.2 1804.7L784.6 1804.2L786.0 1803.8L787.4 1803.8L788.8 1804.3L790.2 1804.5L791.6 1803.8L793.0 1804.1L794.4 1804.5L795.8 1804.3L797.2 1805.8L798.6 1805.0L800.0 1806.0L801.4 1806.9L802.8 1806.2L804.2 1806.7L805.6 1807.6L807.0 1808.4L808.4 1808.7L809.8 1809.1L811.2 1810.3L812.6 1809.7L814.0 1810.1L815.4 1811.3L816.8 1811.4L818.2 1812.3L819.6 1812.7L821.0 1811.9L822.4 1811.7L823.8 1813.4L825.2 1813.3L826.6 1813.6L828.0 1813.2L829.4 1814.3L830.8 1814.0L832.2 1814.6L833.6 1815.0L835.0 1814.7L836.4 1814.8L837.8 1814.7L839.2 1816.7L840.6 1814.7L842.0 1816.0L843.4 1815.0L844.8 1815.5L846.2 1816.9L847.6 1816.0L849.0 1817.1L850.4 1816.5L851.8 1817.3L853.2 1816.3L854.6 1816.6L856.0 1818.1L857.4 1817.7L858.8 1817.1L860.2 1817.6L861.6 1816.6L863.0 1818.0L864.4 1817.6L865.8 1817.9L867.2 1819.3L868.6 1818.4L870.0 1818.5L871.4 1818.4L872.8 1819.4L874.2 1819.5L875.6 1818.9L877.0 1818.6L878.4 1819.4L879.8 1819.7L881.2 1818.8L882.6 1820.4L884.0 1819.5L885.4 1820.1L886.8 1819.7L888.2 1819.8L889.6 1820.8L891.0 1820.4L892.4 1819.7L893.8 1820.7L895.2 1820.9L896.6 1820.5L898.0 1821.2L899.4 1820.2L900.8 1821.2L902.2 1820.8L903.6 1820.8L905.0 1821.5L906.4 1821.1L907.8 1820.6L909.2 1821.0L910.6 1820.4L912.0 1821.0L913.4 1821.4L914.8 1821.3L916.2 1820.3L917.6 1820.5L919.0 1820.9L920.4 1820.9L921.8 1820.1L923.2 1820.6L924.6 1820.6L926.0 1821.1L927.4 1820.4L928.8 1820.2L930.2 1819.6L931.6 1819.4L933.0 1820.4L934.4 1819.9L935.8 1819.6L937.2 1820.2L938.6 1819.9L940.0 1819.5L941.4 1819.8L942.8 1819.2L944.2 1819.7L945.6 1819.4L947.0 1818.9L948.4 1818.8L949.8 1818.5L951.2 1819.3L952.6 1818.7L954.0 1818.1L955.4 1818.9L956.8 1818.7L958.2 1818.3L959.6 1818.3L961.0 1817.9L962.4 1817.7L963.8 1818.3L965.2 1817.2L966.6 1816.9L968.0 1816.8L969.4 1817.8L970.8 1816.7L972.2 1817.0L973.6 1816.6L975.0 1816.3L976.4 1816.6L977.8 1816.4L979.2 1817.4L980.6 1816.0L982.0 1816.2L983.4 1816.9L984.8 1816.4L986.2 1815.9L987.6 1815.8L989.0 1815.2L990.4 1815.4L991.8 1814.9L993.2 1814.2L994.6 1815.3L996.0 1814.2L997.4 1814.3L998.8 1813.5L1000.2 1812.9L1001.6 1812.4L1003.0 1811.4L1004.4 1813.3L1005.8 1811.8L1007.2 1812.2L1008.6 1812.2L1010.0 1811.2L1011.4 1811.5L1012.8 1811.7L1014.2 1811.1L1015.6 1811.3L1017.0 1809.3L1018.4 1810.8L1019.8 1810.7L1021.2 1809.2L1022.6 1810.1L1024.0 1809.2L1025.4 1809.0L1026.8 1809.2L1028.2 1807.7L1029.6 1808.8L1031.0 1807.6L1032.4 1808.1L1033.8 1807.3L1035.2 1807.2L1036.6 1806.2L1038.0 1806.3L1039.4 1805.3L1040.8 1805.2L1042.2 1804.3L1043.6 1804.7L1045.0 1803.7L1046.4 1805.2L1047.8 1802.8L1049.2 1801.5L1050.5 1802.9L1051.9 1801.5L1053.3 1801.5L1054.7 1800.6L1056.1 1799.5L1057.5 1799.1L1058.9 1798.2L1060.3 1799.1L1061.7 1798.0L1063.1 1796.1L1064.5 1796.9L1065.9 1796.0L1067.3 1793.9L1068.7 1793.7L1070.1 1793.8L1071.5 1793.0L1072.9 1793.5L1074.3 1791.4L1075.7 1791.3L1077.1 1789.6L1078.5 1789.0L1079.9 1788.3L1081.3 1787.3L1082.7 1786.6L1084.1 1785.5L1085.5 1783.3L1086.9 1783.8L1088.3 1781.3L1089.7 1781.5L1091.1 1780.0L1092.5 1778.7L1093.9 1776.2L1095.3 1775.2L1096.7 1773.7L1098.1 1770.7L1099.5 1767.8L1100.9 1768.0L1102.3 1763.8L1103.7 1760.7L1105.1 1756.9L1106.5 1752.5L1107.9 1746.1L1109.3 1741.8L1110.7 1735.6L1112.1 1729.2L1113.5 1725.3L1114.9 1716.1L1116.3 1708.9L1117.7 1702.3L1119.1 1693.9L1120.5 1688.7L1121.9 1680.3L1123.3 1668.8L1124.7 1661.8L1126.1 1651.4L1127.5 1643.2L1128.9 1628.7L1130.3 1610.8L1131.7 1598.2L1133.1 1585.5L1134.5 1569.5L1135.9 1554.9L1137.3 1535.5L1138.7 1519.1L1140.1 1503.3L1141.5 1480.8L1142.9 1453.0L1144.3 1442.9L1145.7 1427.8L1147.1 1422.9L1148.5 1415.4L1149.9 1414.1L1151.3 1404.5L1152.7 1413.1L1154.1 1405.5L1155.5 1422.5L1156.9 1428.2L1158.3 1443.9L1159.7 1466.8L1161.1 1482.7L1162.5 1503.4L1163.9 1519.9L1165.3 1538.8L1166.7 1558.6L1168.1 1570.5L1169.5 1589.2L1170.9 1602.7L1172.3 1615.8L1173.7 1631.3L1175.1 1640.3L1176.5 1653.2L1177.9 1660.9L1179.3 1672.1L1180.7 1679.8L1182.1 1690.2L1183.5 1698.8L1184.9 1705.9L1186.3 1711.4L1187.7 1716.9L1189.1 1721.6L1190.5 1726.9L1191.9 1731.2L1193.3 1739.0L1194.7 1741.2L1196.1 1745.3L1197.5 1749.4L1198.9 1752.2L1200.3 1757.8L1201.7 1759.1L1203.1 1761.6L1204.5 1766.9L1205.9 1769.2L1207.3 1771.5L1208.7 1773.2L1210.1 1777.3L1211.5 1778.7L1212.9 1781.3L1214.3 1784.3L1215.7 1785.8L1217.1 1787.4L1218.5 1788.2L1219.9 1792.5L1221.3 1791.9L1222.7 1794.6L1224.1 1796.1L1225.5 1797.8L1226.9 1799.2L1228.3 1800.9L1229.7 1801.5L1231.1 1801.0L1232.5 1803.8L1233.9 1804.0L1235.3 1805.4L1236.7 1805.8L1238.1 1807.4L1239.5 1808.1L1240.9 1809.6L1242.3 1810.1L1243.7 1811.1L1245.1 1810.4L1246.5 1812.7L1247.9 1812.2L1249.3 1813.2L1250.7 1813.9L1252.1 1814.4L1253.5 1814.3L1254.9 1814.0L1256.3 1815.6L1257.7 1816.2L1259.1 1816.5L1260.5 1816.8L1261.9 1817.3L1263.3 1817.2L1264.7 1816.8L1266.1 1817.7L1267.5 1816.9L1268.9 1817.7L1270.3 1818.1L1271.7 1818.8L1273.1 1818.3L1274.5 1818.5L1275.9 1818.6L1277.3 1819.3L1278.7 1818.3L1280.1 1818.2L1281.5 1820.5L1282.9 1820.4L1284.3 1820.3L1285.7 1820.3L1287.1 1820.0L1288.5 1819.7L1289.9 1820.9L1291.3 1820.2L1292.7 1821.5L1294.1 1821.3L1295.5 1820.6L1296.9 1821.6L1298.3 1820.7L1299.7 1821.4L1301.1 1822.5L1302.5 1821.8L1303.9 1822.1L1305.3 1822.1L1306.7 1822.3L1308.1 1823.2L1309.5 1823.1L1310.9 1823.2L1312.3 1822.3L1313.7 1823.0L1315.1 1822.9L1316.5 1823.4L1317.9 1822.9L1319.3 1824.0L1320.7 1824.9L1322.1 1823.7L1323.5 1823.3L1324.9 1824.1L1326.3 1822.9L1327.7 1823.5L1329.1 1824.3L1330.4 1823.7L1331.8 1823.9L1333.2 1824.6L1334.6 1824.1L1336.0 1824.3L1337.4 1823.6L1338.8 1825.2L1340.2 1824.0L1341.6 1824.4L1343.0 1824.3L1344.4 1824.2L1345.8 1823.7L1347.2 1824.2L1348.6 1824.4L1350.0 1825.1L1351.4 1824.5L1352.8 1824.3L1354.2 1824.6L1355.6 1824.7L1357.0 1824.6L1358.4 1824.8L1359.8 1825.5L1361.2 1824.7L1362.6 1824.1L1364.0 1824.5L1365.4 1824.7L1366.8 1824.5L1368.2 1824.9L1369.6 1825.4L1371.0 1823.9L1372.4 1824.4L1373.8 1824.7L1375.2 1825.3L1376.6 1824.1L1378.0 1825.5L1379.4 1825.8L1380.8 1825.7L1382.2 1825.2L1383.6 1824.5L1385.0 1824.9L1386.4 1824.9L1387.8 1825.3L1389.2 1825.7L1390.6 1825.6L1392.0 1824.9L1393.4 1825.8L1394.8 1825.9L1396.2 1824.9L1397.6 1824.9L1399.0 1825.2L1400.4 1825.6L1401.8 1824.9L1403.2 1826.0L1404.6 1825.6L1406.0 1825.9L1407.4 1825.2L1408.8 1825.1L1410.2 1825.7L1411.6 1826.6L1413.0 1826.0L1414.4 1826.3L1415.8 1825.4L1417.2 1825.3L1418.6 1825.6L1420.0 1825.9L1421.4 1825.7L1422.8 1825.1L1424.2 1824.9L1425.6 1825.8L1427.0 1825.6L1428.4 1827.0L1429.8 1825.4L1431.2 1825.2L1432.6 1826.0L1434.0 1825.5L1435.4 1825.7L1436.8 1826.2L1438.2 1825.2L1439.6 1825.5L1441.0 1825.4L1442.4 1825.4L1443.8 1825.4L1445.2 1825.5L1446.6 1826.4L1448.0 1825.6L1449.4 1825.2L1450.8 1825.6" stroke="#008000" stroke-width="1.8" fill="none" stroke-linejoin="round"/>
<path d="M69.5 1776.2L70.9 1776.9L72.3 1776.8L73.7 1776.0L75.1 1776.1L76.5 1776.0L77.9 1776.5L79.3 1776.2L80.7 1776.6L82.1 1775.4L83.5 1777.1L84.9 1776.2L86.3 1776.6L87.7 1776.2L89.1 1776.1L90.5 1776.5L91.9 1776.7L93.3 1776.2L94.7 1776.2L96.1 1776.6L97.5 1775.9L98.9 1775.5L100.3 1776.5L101.7 1776.0L103.1 1775.3L104.5 1775.9L105.9 1776.0L107.3 1775.7L108.7 1775.5L110.1 1776.3L111.5 1776.7L112.9 1776.1L114.3 1775.9L115.7 1776.4L117.1 1776.6L118.5 1776.1L119.9 1776.5L121.3 1776.7L122.7 1776.1L124.1 1775.8L125.5 1776.3L126.9 1776.2L128.3 1776.6L129.7 1775.3L131.1 1775.5L132.5 1775.3L133.9 1774.7L135.3 1775.5L136.7 1775.5L138.1 1774.7L139.5 1775.5L140.9 1775.0L142.3 1774.7L143.7 1774.3L145.1 1774.2L146.5 1772.1L147.9 1772.0L149.3 1770.6L150.7 1768.0L152.1 1767.9L153.5 1766.5L154.9 1766.4L156.3 1765.3L157.7 1765.1L159.1 1765.0L160.5 1764.0L161.9 1764.5L163.3 1763.8L164.7 1763.9L166.1 1763.0L167.5 1763.7L168.9 1763.1L170.3 1762.3L171.7 1762.5L173.1 1762.4L174.5 1762.3L175.9 1759.8L177.3 1760.6L178.7 1759.6L180.1 1758.3L181.5 1756.7L182.9 1757.0L184.3 1754.3L185.7 1754.2L187.1 1753.5L188.5 1750.2L189.9 1749.2L191.3 1746.0L192.7 1743.7L194.1 1739.6L195.5 1732.3L196.9 1717.0L198.3 1697.7L198.4 1696.2L199.1 1681.9L199.7 1666.0L199.8 1660.4L200.5 1640.0L201.1 1622.5L201.2 1618.0L201.9 1602.0L202.4 1600.2L202.5 1600.1L202.6 1600.1L203.3 1610.8L203.9 1624.7L204.0 1630.4L204.7 1655.1L205.3 1669.9L205.4 1672.7L206.1 1692.9L206.7 1703.1L208.1 1724.6L209.5 1735.5L210.8 1743.3L212.2 1748.1L213.6 1753.9L215.0 1757.5L216.4 1757.6L217.8 1759.4L219.2 1761.4L220.6 1761.7L222.0 1762.8L223.4 1763.4L224.8 1764.3L226.2 1765.3L227.6 1765.1L229.0 1766.0L230.4 1765.5L231.8 1766.2L233.2 1765.1L234.6 1765.7L236.0 1767.1L237.4 1766.5L238.8 1767.3L240.2 1767.4L241.6 1768.0L243.0 1767.8L244.4 1767.9L245.8 1767.1L247.2 1766.5L248.6 1766.1L250.0 1765.8L251.4 1764.9L252.8 1764.7L254.2 1764.3L255.6 1763.9L257.0 1763.0L258.4 1761.4L259.8 1761.9L261.2 1761.6L262.6 1761.6L264.0 1760.9L265.4 1759.9L266.8 1759.6L268.2 1761.2L269.6 1760.5L271.0 1761.1L272.4 1761.3L273.8 1759.6L275.2 1760.3L276.6 1760.4L278.0 1760.5L279.4 1760.5L280.8 1760.4L282.2 1760.4L283.6 1759.5L285.0 1760.3L286.4 1760.0L287.8 1760.6L289.2 1760.3L290.6 1761.0L292.0 1761.1L293.4 1760.9L294.8 1761.0L296.2 1760.9L297.6 1760.6L299.0 1760.9L300.4 1760.8L301.8 1761.3L303.2 1761.2L304.6 1761.5L306.0 1760.6L307.4 1761.8L308.8 1761.0L310.2 1761.1L311.6 1761.5L313.0 1761.3L314.4 1761.9L315.8 1761.5L317.2 1761.3L318.6 1761.5L320.0 1762.7L321.4 1762.1L322.8 1761.5L324.2 1762.2L325.6 1761.4L327.0 1763.3L328.4 1761.6L329.8 1762.7L331.2 1762.8L332.6 1761.8L334.0 1762.8L335.4 1763.2L336.8 1763.0L338.2 1762.9L339.6 1763.3L341.0 1763.0L342.4 1763.1L343.8 1762.9L345.2 1763.3L346.6 1762.5L348.0 1763.5L349.4 1762.8L350.8 1762.5L352.2 1763.3L353.6 1764.0L355.0 1763.7L356.4 1762.9L357.8 1763.6L359.2 1763.0L360.6 1763.1L362.0 1763.2L363.4 1762.0L364.8 1763.2L366.2 1762.6L367.6 1762.7L369.0 1762.2L370.4 1762.1L371.8 1762.4L373.2 1763.2L374.6 1763.6L376.0 1762.6L377.4 1763.1L378.8 1762.3L380.2 1761.3L381.6 1762.3L383.0 1762.3L384.4 1761.8L385.8 1762.0L387.2 1762.0L388.6 1761.2L390.0 1760.7L391.4 1761.2L392.8 1761.1L394.2 1760.9L395.6 1761.5L397.0 1761.8L398.4 1760.5L399.8 1760.9L401.2 1760.9L402.6 1760.7L404.0 1760.7L405.4 1759.9L406.8 1760.3L408.2 1760.9L409.6 1760.1L411.0 1759.3L412.4 1759.8L413.8 1760.1L415.2 1759.5L416.6 1758.9L418.0 1759.9L419.4 1758.4L420.8 1759.2L422.2 1758.9L423.6 1758.2L425.0 1759.5L426.4 1759.0L427.8 1758.1L429.2 1759.0L430.6 1758.5L432.0 1757.7L433.4 1758.3L434.8 1758.8L436.2 1759.0L437.6 1758.7L439.0 1758.6L440.4 1758.8L441.8 1758.4L443.2 1759.1L444.6 1758.6L446.0 1758.6L447.4 1758.7L448.8 1757.8L450.2 1757.8L451.6 1758.9L453.0 1758.1L454.4 1757.6L455.8 1757.7L457.2 1757.0L458.6 1757.0L460.0 1756.0L461.4 1755.9L462.8 1754.2L464.2 1755.0L465.6 1753.3L467.0 1752.4L467.3 1753.2L468.4 1753.2L469.8 1754.1L471.2 1754.2L472.6 1755.8L474.0 1758.3L475.4 1756.2L476.8 1757.6L478.2 1757.6L479.6 1758.2L481.0 1757.4L482.4 1758.0L483.8 1759.0L485.2 1758.9L486.6 1759.9L488.0 1758.7L489.4 1759.3L490.7 1760.8L492.1 1759.0L493.5 1758.9L494.9 1759.5L496.3 1759.5L497.7 1760.0L499.1 1759.7L500.5 1759.3L501.9 1759.8L503.3 1761.1L504.7 1760.4L506.1 1758.4L507.5 1759.8L508.9 1759.4L510.3 1760.2L511.7 1759.8L513.1 1760.9L514.5 1760.4L515.9 1760.4L517.3 1760.1L518.7 1760.0L520.1 1760.2L521.5 1760.7L522.9 1760.3L524.3 1759.9L525.7 1760.7L527.1 1760.2L528.5 1760.0L529.9 1759.7L531.3 1759.8L532.7 1759.7L534.1 1758.6L535.5 1760.5L536.9 1760.3L538.3 1759.8L539.7 1760.4L541.1 1760.0L542.5 1759.8L543.9 1758.2L545.3 1759.1L546.7 1759.3L548.1 1759.6L549.5 1759.4L550.9 1759.0L552.3 1757.3L553.7 1756.5L555.1 1757.6L556.5 1757.0L557.9 1757.2L559.3 1756.3L560.7 1756.1L562.1 1754.8L563.5 1755.4L564.9 1754.5L566.3 1754.5L567.7 1754.0L569.1 1753.0L570.5 1752.4L571.9 1751.1L573.3 1750.1L574.7 1747.8L576.1 1744.2L577.5 1739.8L578.8 1735.7L578.9 1733.9L579.5 1731.5L580.2 1727.1L580.3 1725.8L580.9 1722.3L581.6 1719.5L581.7 1719.1L582.3 1717.7L582.8 1715.8L583.0 1716.4L583.1 1717.0L583.7 1719.7L584.4 1719.8L584.5 1722.5L585.1 1725.2L585.8 1730.1L585.9 1730.1L586.5 1734.0L587.3 1738.9L588.7 1743.7L590.1 1747.7L591.5 1750.4L592.9 1751.9L594.3 1754.2L595.7 1755.1L597.1 1755.9L598.5 1757.3L599.9 1758.1L601.3 1759.4L602.7 1759.6L604.1 1759.8L605.5 1761.2L606.9 1761.1L608.3 1761.4L609.7 1761.2L611.1 1760.9L612.5 1760.8L613.9 1761.0L615.3 1761.7L616.7 1761.3L618.1 1760.5L619.5 1761.3L620.9 1760.6L622.3 1761.4L623.7 1760.7L625.1 1760.7L626.5 1761.4L627.9 1761.2L629.3 1760.2L630.7 1761.0L632.1 1761.1L633.5 1758.5L634.9 1759.4L636.3 1757.2L637.7 1756.4L639.1 1755.7L640.5 1754.1L641.9 1754.8L643.3 1753.6L644.7 1752.1L646.1 1751.5L647.5 1749.8L648.9 1749.2L650.3 1748.6L651.7 1745.5L653.1 1744.6L654.5 1743.6L655.9 1743.4L656.1 1743.5L657.3 1742.5L658.7 1743.0L660.1 1744.8L661.5 1745.4L662.9 1746.4L664.3 1748.0L665.7 1749.0L667.1 1748.7L668.5 1748.8L669.9 1749.6L671.3 1748.6L672.7 1750.1L674.1 1750.0L675.5 1752.6L676.9 1752.3L678.3 1752.6L679.7 1753.2L681.1 1752.6L682.5 1755.0L683.9 1756.2L685.3 1755.5L686.7 1756.8L688.1 1757.2L689.5 1756.3L690.9 1757.8L692.3 1758.0L693.7 1757.5L695.1 1757.3L696.5 1757.8L697.9 1756.6L699.3 1757.4L700.7 1757.9L702.1 1756.7L703.5 1757.9L704.9 1757.1L706.3 1756.2L707.7 1757.2L709.1 1756.8L710.5 1757.4L711.9 1756.6L713.3 1757.7L714.7 1756.7L716.1 1757.3L717.5 1756.7L718.9 1756.8L720.3 1757.6L721.7 1757.0L723.1 1756.6L724.5 1756.1L725.9 1757.3L727.3 1757.0L728.7 1756.4L730.1 1756.7L731.5 1755.9L732.9 1755.8L734.3 1755.9L735.7 1756.4L737.1 1756.3L738.5 1755.7L739.9 1756.4L741.3 1756.3L742.7 1755.9L744.1 1756.1L745.5 1755.2L746.9 1755.1L748.3 1755.1L749.7 1754.5L751.1 1754.6L752.5 1753.1L753.9 1754.2L755.3 1752.6L756.7 1752.5L758.1 1751.4L759.5 1752.1L760.9 1752.0L762.3 1751.5L763.7 1750.9L765.1 1749.1L766.5 1749.1L767.9 1748.8L769.3 1748.1L770.6 1748.9L772.0 1748.0L773.4 1747.5L774.8 1747.4L776.2 1746.2L777.6 1745.9L779.0 1745.7L780.4 1746.2L781.8 1745.9L783.2 1745.9L784.6 1746.1L786.0 1744.5L787.4 1745.0L788.8 1745.4L790.2 1744.6L791.6 1745.2L793.0 1746.3L794.4 1746.6L795.8 1746.8L797.2 1746.6L798.6 1746.8L800.0 1747.9L801.4 1747.5L802.8 1748.3L804.2 1749.3L805.6 1748.8L807.0 1749.2L808.4 1750.0L809.8 1750.8L811.2 1751.3L812.6 1751.6L814.0 1752.2L815.4 1751.5L816.8 1752.3L818.2 1753.3L819.6 1753.1L821.0 1753.2L822.4 1753.6L823.8 1754.0L825.2 1754.6L826.6 1754.3L828.0 1755.2L829.4 1756.1L830.8 1755.3L832.2 1756.3L833.6 1755.9L835.0 1755.3L836.4 1756.0L837.8 1755.8L839.2 1756.9L840.6 1756.0L842.0 1757.5L843.4 1757.2L844.8 1756.0L846.2 1757.7L847.6 1758.2L849.0 1757.2L850.4 1758.2L851.8 1757.0L853.2 1758.2L854.6 1757.3L856.0 1758.6L857.4 1757.5L858.8 1757.3L860.2 1759.0L861.6 1760.1L863.0 1758.7L864.4 1759.6L865.8 1759.3L867.2 1759.2L868.6 1759.8L870.0 1760.5L871.4 1759.1L872.8 1760.1L874.2 1760.1L875.6 1759.3L877.0 1761.0L878.4 1761.2L879.8 1759.9L881.2 1761.3L882.6 1760.5L884.0 1760.5L885.4 1761.4L886.8 1760.9L888.2 1761.0L889.6 1761.6L891.0 1761.6L892.4 1761.4L893.8 1760.3L895.2 1760.3L896.6 1761.7L898.0 1760.7L899.4 1761.3L900.8 1760.7L902.2 1761.2L903.6 1760.6L905.0 1762.1L906.4 1760.8L907.8 1761.2L909.2 1761.2L910.6 1761.9L912.0 1760.6L913.4 1761.3L914.8 1761.1L916.2 1761.5L917.6 1761.4L919.0 1760.9L920.4 1761.3L921.8 1760.9L923.2 1761.3L924.6 1761.0L926.0 1760.6L927.4 1760.9L928.8 1761.1L930.2 1762.0L931.6 1760.5L933.0 1760.9L934.4 1761.4L935.8 1759.5L937.2 1759.6L938.6 1759.8L940.0 1760.3L941.4 1761.5L942.8 1760.4L944.2 1760.8L945.6 1760.0L947.0 1758.8L948.4 1758.8L949.8 1760.4L951.2 1759.9L952.6 1759.0L954.0 1760.2L955.4 1758.7L956.8 1760.0L958.2 1760.1L959.6 1758.9L961.0 1758.6L962.4 1759.5L963.8 1758.4L965.2 1759.3L966.6 1758.1L968.0 1759.0L969.4 1758.5L970.8 1758.1L972.2 1757.8L973.6 1758.2L975.0 1757.0L976.4 1757.6L977.8 1757.4L979.2 1757.8L980.6 1756.7L982.0 1758.0L983.4 1756.8L984.8 1756.2L986.2 1757.3L987.6 1757.3L989.0 1756.1L990.4 1755.6L991.8 1755.8L993.2 1755.3L994.6 1755.2L996.0 1756.0L997.4 1755.2L998.8 1754.8L1000.2 1754.7L1001.6 1754.3L1003.0 1754.5L1004.4 1754.3L1005.8 1753.4L1007.2 1753.4L1008.6 1754.4L1010.0 1753.1L1011.4 1752.5L1012.8 1753.4L1014.2 1752.0L1015.6 1751.1L1017.0 1751.9L1018.4 1750.7L1019.8 1750.6L1021.2 1750.8L1022.6 1750.3L1024.0 1749.6L1025.4 1749.4L1026.8 1749.1L1028.2 1749.8L1029.6 1748.4L1031.0 1748.2L1032.4 1749.4L1033.8 1747.6L1035.2 1748.4L1036.6 1748.0L1038.0 1746.7L1039.4 1745.6L1040.8 1746.3L1042.2 1745.9L1043.6 1745.7L1045.0 1744.6L1046.4 1744.8L1047.8 1744.4L1049.2 1742.4L1050.5 1743.4L1051.9 1742.0L1053.3 1741.0L1054.7 1740.6L1056.1 1741.3L1057.5 1740.2L1058.9 1737.8L1060.3 1738.3L1061.7 1737.5L1063.1 1736.9L1064.5 1736.0L1065.9 1734.7L1067.3 1735.5L1068.7 1733.7L1070.1 1733.3L1071.5 1732.5L1072.9 1731.7L1074.3 1732.0L1075.7 1731.0L1077.1 1729.5L1078.5 1728.5L1079.9 1728.0L1081.3 1728.1L1082.7 1726.7L1084.1 1725.8L1085.5 1724.5L1086.9 1723.6L1088.3 1722.9L1089.7 1720.3L1091.1 1721.8L1092.5 1719.0L1093.9 1718.2L1095.3 1718.6L1096.7 1716.6L1098.1 1715.2L1099.5 1713.4L1100.9 1711.2L1102.3 1710.9L1103.7 1709.8L1105.1 1706.0L1106.5 1705.1L1107.9 1699.8L1109.3 1696.3L1110.7 1693.1L1112.1 1687.8L1113.5 1683.1L1114.9 1675.3L1116.3 1666.4L1117.7 1655.0L1119.1 1644.1L1120.5 1632.2L1121.9 1619.8L1123.3 1610.8L1124.7 1597.9L1126.1 1584.1L1127.5 1579.0L1128.9 1560.9L1130.3 1546.5L1131.7 1536.6L1133.1 1520.5L1134.5 1497.5L1135.9 1477.4L1137.3 1459.2L1138.7 1444.4L1140.1 1421.7L1141.5 1404.0L1142.9 1391.7L1144.3 1383.6L1145.7 1366.1L1147.1 1360.8L1148.5 1352.8L1149.9 1359.2L1151.3 1355.3L1152.7 1351.9L1154.1 1353.5L1155.5 1365.9L1156.9 1370.9L1158.3 1391.5L1159.7 1405.8L1161.1 1424.0L1162.5 1444.0L1163.9 1461.9L1165.3 1477.9L1166.7 1489.7L1168.1 1499.1L1169.5 1506.6L1170.9 1520.4L1172.3 1531.0L1173.7 1548.3L1175.1 1561.9L1176.5 1577.0L1177.9 1597.7L1179.3 1616.0L1180.7 1624.4L1182.1 1632.6L1183.5 1642.1L1184.9 1649.0L1186.3 1655.6L1187.7 1660.5L1189.1 1666.6L1190.5 1671.6L1191.9 1675.4L1193.3 1679.2L1194.7 1684.6L1196.1 1689.3L1197.5 1692.6L1198.9 1695.9L1200.3 1699.1L1201.7 1704.0L1203.1 1704.8L1204.5 1708.2L1205.9 1711.6L1207.3 1712.5L1208.7 1715.1L1210.1 1718.1L1211.5 1720.8L1212.9 1722.0L1214.3 1724.1L1215.7 1726.0L1217.1 1727.0L1218.5 1730.6L1219.9 1731.5L1221.3 1732.2L1222.7 1734.9L1224.1 1735.4L1225.5 1737.3L1226.9 1739.4L1228.3 1740.0L1229.7 1742.5L1231.1 1742.0L1232.5 1744.3L1233.9 1745.6L1235.3 1747.2L1236.7 1748.0L1238.1 1748.6L1239.5 1749.5L1240.9 1750.3L1242.3 1751.9L1243.7 1751.7L1245.1 1753.2L1246.5 1753.6L1247.9 1754.5L1249.3 1754.8L1250.7 1756.7L1252.1 1755.6L1253.5 1756.5L1254.9 1756.9L1256.3 1757.4L1257.7 1757.6L1259.1 1757.9L1260.5 1758.4L1261.9 1757.3L1263.3 1758.4L1264.7 1757.9L1266.1 1759.0L1267.5 1758.4L1268.9 1758.7L1270.3 1759.4L1271.7 1760.3L1273.1 1760.1L1274.5 1760.1L1275.9 1760.8L1277.3 1759.7L1278.7 1759.3L1280.1 1760.3L1281.5 1760.5L1282.9 1761.5L1284.3 1762.1L1285.7 1760.4L1287.1 1762.6L1288.5 1762.3L1289.9 1762.0L1291.3 1761.9L1292.7 1763.2L1294.1 1762.1L1295.5 1762.0L1296.9 1762.5L1298.3 1761.9L1299.7 1763.0L1301.1 1762.9L1302.5 1763.3L1303.9 1763.4L1305.3 1762.9L1306.7 1764.2L1308.1 1763.2L1309.5 1764.3L1310.9 1763.2L1312.3 1764.3L1313.7 1763.8L1315.1 1764.3L1316.5 1764.0L1317.9 1763.3L1319.3 1763.9L1320.7 1764.6L1322.1 1764.9L1323.5 1763.9L1324.9 1763.6L1326.3 1764.3L1327.7 1764.6L1329.1 1764.5L1330.4 1764.4L1331.8 1765.3L1333.2 1765.4L1334.6 1765.3L1336.0 1764.5L1337.4 1765.1L1338.8 1765.0L1340.2 1764.4L1341.6 1765.6L1343.0 1765.2L1344.4 1765.0L1345.8 1766.0L1347.2 1765.7L1348.6 1765.7L1350.0 1765.9L1351.4 1765.7L1352.8 1764.8L1354.2 1765.2L1355.6 1766.0L1357.0 1765.1L1358.4 1765.5L1359.8 1765.8L1361.2 1766.3L1362.6 1766.3L1364.0 1766.1L1365.4 1765.6L1366.8 1766.2L1368.2 1766.0L1369.6 1765.7L1371.0 1766.5L1372.4 1766.0L1373.8 1765.4L1375.2 1766.5L1376.6 1765.7L1378.0 1766.2L1379.4 1765.2L1380.8 1765.9L1382.2 1765.5L1383.6 1765.5L1385.0 1765.0L1386.4 1767.1L1387.8 1766.0L1389.2 1766.2L1390.6 1766.6L1392.0 1766.0L1393.4 1766.4L1394.8 1765.5L1396.2 1766.3L1397.6 1766.0L1399.0 1766.4L1400.4 1766.3L1401.8 1765.5L1403.2 1765.3L1404.6 1765.7L1406.0 1766.6L1407.4 1766.5L1408.8 1766.5L1410.2 1765.3L1411.6 1765.0L1413.0 1766.0L1414.4 1766.2L1415.8 1766.1L1417.2 1766.5L1418.6 1766.3L1420.0 1765.8L1421.4 1766.0L1422.8 1766.5L1424.2 1766.5L1425.6 1766.4L1427.0 1767.6L1428.4 1766.3L1429.8 1766.5L1431.2 1766.0L1432.6 1766.3L1434.0 1766.7L1435.4 1766.8L1436.8 1766.4L1438.2 1766.7L1439.6 1766.5L1441.0 1765.5L1442.4 1764.9L1443.8 1767.6L1445.2 1766.9L1446.6 1766.5L1448.0 1765.6L1449.4 1765.9L1450.8 1767.2" stroke="#000000" stroke-width="1.8" fill="none" stroke-linejoin="round"/>
<path d="M69.5 1714.5L70.9 1715.0L72.3 1714.9L73.7 1714.9L75.1 1715.4L76.5 1714.0L77.9 1714.3L79.3 1713.9L80.7 1714.6L82.1 1715.1L83.5 1714.6L84.9 1714.9L86.3 1713.7L87.7 1714.7L89.1 1714.2L90.5 1715.5L91.9 1715.1L93.3 1715.1L94.7 1714.6L96.1 1715.0L97.5 1715.0L98.9 1714.5L100.3 1714.4L101.7 1714.6L103.1 1714.3L104.5 1714.3L105.9 1714.5L107.3 1714.3L108.7 1715.0L110.1 1713.8L111.5 1715.0L112.9 1714.3L114.3 1714.3L115.7 1713.9L117.1 1714.5L118.5 1714.4L119.9 1714.6L121.3 1714.2L122.7 1714.5L124.1 1715.4L125.5 1714.6L126.9 1714.1L128.3 1714.8L129.7 1714.1L131.1 1714.4L132.5 1714.3L133.9 1713.6L135.3 1712.7L136.7 1713.3L138.1 1713.6L139.5 1712.9L140.9 1713.1L142.3 1713.1L143.7 1712.1L145.1 1712.6L146.5 1712.0L147.9 1710.7L149.3 1709.5L150.7 1708.3L152.1 1707.8L153.5 1705.7L154.9 1705.0L156.3 1704.8L157.7 1703.6L159.1 1702.8L160.5 1702.7L161.9 1703.0L163.3 1702.7L164.7 1701.2L166.1 1700.6L167.5 1701.1L168.9 1700.8L170.3 1700.6L171.7 1700.6L173.1 1700.5L174.5 1699.5L175.9 1699.3L177.3 1697.7L178.7 1697.1L180.1 1697.3L181.5 1696.8L182.9 1695.9L184.3 1694.8L185.7 1693.7L187.1 1692.3L188.5 1688.8L189.9 1687.2L191.3 1685.1L192.7 1681.3L194.1 1674.3L195.5 1668.7L196.9 1655.7L198.3 1636.7L198.3 1636.4L199.0 1622.1L199.7 1601.0L199.7 1602.3L200.4 1574.7L201.1 1544.3L201.1 1542.9L201.8 1513.2L202.3 1508.9L202.5 1511.0L202.5 1510.0L203.2 1530.3L203.9 1559.6L203.9 1562.1L204.6 1592.6L205.3 1613.0L205.3 1614.1L206.0 1632.1L206.7 1645.4L208.1 1660.7L209.5 1672.3L210.8 1678.3L212.2 1685.7L213.6 1689.2L215.0 1692.7L216.4 1694.2L217.8 1695.6L219.2 1698.3L220.6 1699.5L222.0 1699.6L223.4 1700.3L224.8 1702.2L226.2 1702.6L227.6 1704.8L229.0 1703.6L230.4 1704.2L231.8 1704.9L233.2 1704.4L234.6 1705.2L236.0 1706.9L237.4 1706.2L238.8 1706.1L240.2 1705.8L241.6 1706.8L243.0 1706.7L244.4 1706.3L245.8 1705.7L247.2 1705.7L248.6 1705.4L250.0 1704.3L251.4 1704.6L252.8 1702.5L254.2 1702.5L255.6 1702.5L257.0 1702.1L258.4 1700.9L259.8 1701.3L261.2 1701.2L262.6 1700.4L264.0 1699.9L265.4 1699.9L266.8 1699.4L268.2 1698.3L269.6 1698.7L271.0 1699.6L272.4 1698.1L273.8 1698.9L275.2 1698.6L276.6 1698.4L278.0 1698.3L279.4 1699.0L280.8 1699.2L282.2 1699.2L283.6 1698.2L285.0 1699.0L286.4 1699.4L287.8 1699.8L289.2 1699.6L290.6 1699.8L292.0 1700.0L293.4 1699.9L294.8 1699.0L296.2 1699.5L297.6 1699.2L299.0 1698.3L300.4 1698.7L301.8 1700.9L303.2 1699.2L304.6 1698.6L306.0 1699.6L307.4 1700.8L308.8 1700.0L310.2 1700.3L311.6 1700.0L313.0 1700.1L314.4 1700.9L315.8 1700.7L317.2 1700.3L318.6 1700.9L320.0 1701.0L321.4 1700.4L322.8 1700.7L324.2 1700.8L325.6 1700.3L327.0 1701.4L328.4 1700.7L329.8 1700.5L331.2 1700.0L332.6 1700.3L334.0 1701.8L335.4 1700.4L336.8 1701.3L338.2 1700.9L339.6 1701.4L341.0 1701.5L342.4 1700.8L343.8 1701.1L345.2 1701.4L346.6 1701.4L348.0 1701.4L349.4 1701.2L350.8 1701.8L352.2 1702.1L353.6 1701.7L355.0 1701.1L356.4 1701.7L357.8 1701.5L359.2 1701.7L360.6 1702.5L362.0 1701.4L363.4 1701.5L364.8 1701.0L366.2 1701.2L367.6 1701.0L369.0 1702.1L370.4 1701.3L371.8 1700.8L373.2 1702.0L374.6 1700.2L376.0 1701.3L377.4 1701.2L378.8 1700.9L380.2 1700.3L381.6 1700.2L383.0 1700.0L384.4 1700.4L385.8 1698.6L387.2 1699.4L388.6 1699.6L390.0 1699.1L391.4 1698.2L392.8 1698.9L394.2 1698.5L395.6 1699.2L397.0 1699.3L398.4 1698.5L399.8 1697.2L401.2 1698.0L402.6 1697.4L404.0 1698.1L405.4 1698.5L406.8 1697.7L408.2 1698.4L409.6 1698.0L411.0 1697.4L412.4 1696.5L413.8 1696.9L415.2 1696.0L416.6 1697.2L418.0 1696.6L419.4 1697.2L420.8 1696.5L422.2 1695.3L423.6 1696.6L425.0 1696.7L426.4 1697.0L427.8 1695.6L429.2 1695.6L430.6 1696.1L432.0 1695.5L433.4 1695.3L434.8 1695.4L436.2 1697.4L437.6 1695.7L439.0 1695.4L440.4 1695.7L441.8 1695.9L443.2 1696.6L444.6 1696.3L446.0 1696.2L447.4 1695.8L448.8 1695.7L450.2 1695.2L451.6 1694.7L453.0 1696.4L454.4 1694.9L455.8 1695.5L457.2 1694.5L458.6 1694.3L460.0 1693.8L461.4 1692.6L462.8 1692.7L464.2 1692.5L465.6 1692.5L466.0 1692.3L467.0 1692.7L468.4 1692.7L469.8 1693.1L471.2 1692.6L472.6 1693.9L474.0 1695.5L475.4 1695.0L476.8 1695.7L478.2 1695.4L479.6 1695.3L481.0 1696.9L482.4 1696.2L483.8 1696.9L485.2 1696.5L486.6 1696.1L488.0 1695.2L489.4 1696.5L490.7 1695.7L492.1 1695.4L493.5 1697.3L494.9 1697.1L496.3 1697.1L497.7 1696.9L499.1 1696.9L500.5 1697.2L501.9 1697.2L503.3 1697.2L504.7 1697.6L506.1 1696.0L507.5 1697.8L508.9 1697.1L510.3 1698.0L511.7 1698.2L513.1 1697.2L514.5 1698.1L515.9 1698.2L517.3 1697.4L518.7 1697.6L520.1 1698.0L521.5 1696.8L522.9 1697.8L524.3 1698.1L525.7 1697.8L527.1 1697.3L528.5 1697.9L529.9 1698.9L531.3 1698.8L532.7 1698.1L534.1 1697.7L535.5 1698.1L536.9 1698.1L538.3 1697.7L539.7 1697.8L541.1 1698.2L542.5 1698.2L543.9 1696.3L545.3 1697.9L546.7 1697.3L548.1 1697.6L549.5 1696.7L550.9 1696.7L552.3 1697.1L553.7 1694.4L555.1 1696.5L556.5 1695.5L557.9 1694.1L559.3 1693.4L560.7 1694.6L562.1 1693.6L563.5 1694.3L564.9 1693.5L566.3 1692.9L567.7 1693.0L569.1 1691.9L570.5 1691.5L571.9 1690.6L573.3 1689.1L574.7 1687.6L576.1 1685.2L577.5 1680.3L578.9 1675.8L579.9 1671.0L580.3 1668.5L580.6 1665.9L581.3 1662.1L581.7 1660.1L582.0 1658.3L582.7 1655.5L583.1 1652.2L583.4 1651.6L583.9 1651.0L584.1 1651.4L584.5 1652.0L584.8 1652.0L585.5 1657.2L585.9 1660.3L586.2 1662.2L586.9 1665.4L587.3 1668.8L587.6 1671.9L588.7 1676.8L590.1 1682.9L591.5 1686.7L592.9 1690.2L594.3 1692.3L595.7 1694.6L597.1 1694.9L598.5 1695.8L599.9 1695.8L601.3 1696.9L602.7 1697.3L604.1 1698.0L605.5 1697.9L606.9 1699.6L608.3 1698.7L609.7 1699.7L611.1 1699.1L612.5 1700.1L613.9 1700.8L615.3 1699.7L616.7 1700.3L618.1 1700.1L619.5 1700.3L620.9 1700.4L622.3 1699.8L623.7 1700.0L625.1 1699.8L626.5 1699.6L627.9 1699.3L629.3 1700.1L630.7 1698.7L632.1 1698.7L633.5 1697.8L634.9 1696.1L636.3 1696.1L637.7 1694.1L639.1 1693.8L640.5 1693.3L641.9 1691.1L643.3 1690.2L644.7 1689.3L646.1 1690.2L647.5 1687.6L648.9 1685.9L650.3 1685.7L651.7 1683.4L653.1 1681.8L654.5 1679.6L655.9 1677.6L656.7 1678.2L657.3 1678.0L658.7 1678.0L660.1 1679.3L661.5 1680.5L662.9 1682.7L664.3 1683.5L665.7 1684.1L667.1 1684.1L668.5 1684.1L669.9 1685.4L671.3 1686.0L672.7 1687.1L674.1 1687.3L675.5 1688.3L676.9 1689.7L678.3 1690.1L679.7 1691.3L681.1 1693.1L682.5 1692.9L683.9 1694.2L685.3 1695.0L686.7 1694.8L688.1 1695.0L689.5 1694.2L690.9 1694.8L692.3 1694.7L693.7 1695.2L695.1 1695.1L696.5 1694.9L697.9 1695.8L699.3 1695.1L700.7 1694.6L702.1 1694.4L703.5 1694.7L704.9 1694.4L706.3 1695.5L707.7 1694.9L709.1 1694.4L710.5 1694.1L711.9 1693.9L713.3 1694.2L714.7 1695.0L716.1 1694.7L717.5 1694.1L718.9 1694.1L720.3 1693.0L721.7 1694.3L723.1 1693.7L724.5 1694.5L725.9 1693.5L727.3 1693.3L728.7 1693.5L730.1 1693.0L731.5 1693.9L732.9 1693.3L734.3 1693.2L735.7 1693.1L737.1 1692.6L738.5 1692.9L739.9 1692.6L741.3 1693.4L742.7 1692.2L744.1 1692.1L745.5 1691.4L746.9 1691.0L748.3 1690.7L749.7 1691.1L751.1 1690.0L752.5 1690.0L753.9 1688.7L755.3 1688.1L756.7 1686.6L758.1 1687.6L759.5 1687.7L760.9 1685.8L762.3 1686.2L763.7 1685.2L765.1 1683.7L766.5 1684.0L767.9 1682.4L769.3 1682.2L770.6 1682.6L772.0 1681.5L773.4 1680.2L774.8 1681.3L776.2 1679.4L777.6 1679.6L779.0 1679.2L780.4 1679.1L781.8 1678.4L783.2 1677.8L784.6 1679.9L786.0 1678.2L787.4 1678.3L788.8 1677.5L790.2 1679.3L791.6 1680.3L793.0 1680.7L794.4 1682.0L795.8 1681.6L797.2 1681.5L798.6 1681.7L800.0 1683.1L801.4 1682.8L802.8 1683.5L804.2 1683.4L805.6 1684.6L807.0 1686.3L808.4 1685.7L809.8 1686.5L811.2 1685.4L812.6 1688.1L814.0 1688.0L815.4 1689.1L816.8 1688.8L818.2 1688.5L819.6 1688.5L821.0 1689.8L822.4 1689.8L823.8 1689.5L825.2 1690.2L826.6 1690.1L828.0 1691.1L829.4 1690.7L830.8 1690.5L832.2 1691.4L833.6 1691.3L835.0 1692.7L836.4 1691.8L837.8 1691.6L839.2 1692.5L840.6 1692.6L842.0 1693.1L843.4 1693.3L844.8 1692.8L846.2 1693.6L847.6 1693.8L849.0 1693.4L850.4 1693.9L851.8 1694.5L853.2 1693.8L854.6 1694.3L856.0 1694.8L857.4 1695.2L858.8 1695.7L860.2 1694.9L861.6 1695.9L863.0 1696.3L864.4 1696.9L865.8 1696.1L867.2 1696.0L868.6 1695.9L870.0 1697.1L871.4 1697.7L872.8 1696.8L874.2 1697.5L875.6 1697.9L877.0 1698.1L878.4 1697.6L879.8 1698.2L881.2 1698.0L882.6 1697.7L884.0 1698.5L885.4 1698.6L886.8 1698.1L888.2 1698.9L889.6 1699.8L891.0 1698.2L892.4 1699.4L893.8 1699.6L895.2 1699.2L896.6 1699.5L898.0 1699.3L899.4 1700.1L900.8 1699.1L902.2 1699.5L903.6 1698.7L905.0 1699.9L906.4 1700.0L907.8 1699.0L909.2 1699.4L910.6 1700.1L912.0 1699.7L913.4 1699.3L914.8 1698.7L916.2 1700.1L917.6 1700.9L919.0 1699.7L920.4 1700.2L921.8 1700.2L923.2 1699.9L924.6 1699.9L926.0 1699.9L927.4 1699.4L928.8 1701.0L930.2 1701.0L931.6 1699.8L933.0 1700.4L934.4 1699.0L935.8 1699.2L937.2 1699.8L938.6 1698.6L940.0 1698.4L941.4 1699.1L942.8 1697.8L944.2 1699.6L945.6 1698.9L947.0 1698.6L948.4 1698.6L949.8 1697.7L951.2 1697.6L952.6 1698.3L954.0 1698.2L955.4 1697.7L956.8 1697.5L958.2 1697.1L959.6 1697.9L961.0 1696.3L962.4 1696.5L963.8 1696.5L965.2 1695.9L966.6 1695.8L968.0 1695.8L969.4 1696.8L970.8 1697.0L972.2 1696.1L973.6 1695.0L975.0 1695.4L976.4 1695.5L977.8 1695.2L979.2 1695.0L980.6 1695.4L982.0 1693.9L983.4 1694.5L984.8 1694.7L986.2 1694.8L987.6 1694.4L989.0 1694.1L990.4 1693.9L991.8 1693.4L993.2 1693.6L994.6 1693.3L996.0 1692.8L997.4 1693.7L998.8 1693.5L1000.2 1692.4L1001.6 1692.8L1003.0 1692.9L1004.4 1692.1L1005.8 1691.9L1007.2 1691.8L1008.6 1690.4L1010.0 1690.3L1011.4 1691.1L1012.8 1690.8L1014.2 1691.1L1015.6 1689.8L1017.0 1690.5L1018.4 1690.2L1019.8 1690.4L1021.2 1688.6L1022.6 1688.5L1024.0 1688.6L1025.4 1688.3L1026.8 1687.2L1028.2 1687.2L1029.6 1686.4L1031.0 1688.1L1032.4 1686.3L1033.8 1685.9L1035.2 1685.0L1036.6 1684.9L1038.0 1684.8L1039.4 1683.6L1040.8 1683.1L1042.2 1683.9L1043.6 1682.5L1045.0 1681.4L1046.4 1680.3L1047.8 1679.8L1049.2 1678.7L1050.5 1678.6L1051.9 1677.3L1053.3 1676.5L1054.7 1675.9L1056.1 1674.8L1057.5 1674.8L1058.9 1675.6L1060.3 1672.8L1061.7 1671.3L1063.1 1672.3L1064.5 1670.9L1065.9 1671.6L1067.3 1669.8L1068.7 1669.5L1070.1 1667.6L1071.5 1666.4L1072.9 1666.7L1074.3 1666.7L1075.7 1665.1L1077.1 1664.0L1078.5 1664.2L1079.9 1663.8L1081.3 1663.4L1082.7 1663.1L1084.1 1664.3L1085.5 1661.9L1086.9 1660.8L1088.3 1659.6L1089.7 1660.1L1091.1 1657.3L1092.5 1658.3L1093.9 1655.8L1095.3 1652.9L1096.7 1652.3L1098.1 1649.9L1099.5 1648.7L1100.9 1644.0L1102.3 1642.6L1103.7 1639.5L1105.1 1637.2L1106.5 1632.0L1107.9 1628.2L1109.3 1625.7L1110.7 1618.7L1112.1 1610.2L1113.5 1605.0L1114.9 1596.1L1116.3 1588.1L1117.7 1577.5L1119.1 1568.5L1120.5 1553.6L1121.9 1541.0L1123.3 1527.3L1124.7 1512.0L1126.1 1501.2L1127.5 1491.2L1128.9 1472.6L1130.3 1456.9L1131.7 1431.4L1133.1 1411.4L1134.5 1395.0L1135.9 1380.7L1137.3 1364.2L1138.7 1348.3L1140.1 1327.5L1141.5 1309.8L1142.9 1297.8L1144.3 1277.9L1145.7 1267.9L1147.1 1254.8L1148.5 1239.4L1149.9 1238.1L1151.3 1230.1L1152.7 1236.6L1154.1 1240.1L1155.5 1254.7L1156.9 1268.6L1158.3 1281.3L1159.7 1307.3L1161.1 1323.9L1162.5 1338.3L1163.9 1362.9L1165.3 1378.9L1166.7 1402.0L1168.1 1414.1L1169.5 1432.0L1170.9 1447.4L1172.3 1464.8L1173.7 1477.3L1175.1 1490.7L1176.5 1504.7L1177.9 1517.0L1179.3 1529.7L1180.7 1539.6L1182.1 1549.3L1183.5 1559.1L1184.9 1567.5L1186.3 1577.0L1187.7 1581.5L1189.1 1589.8L1190.5 1597.0L1191.9 1600.5L1193.3 1605.0L1194.7 1610.3L1196.1 1613.5L1197.5 1617.7L1198.9 1622.9L1200.3 1625.1L1201.7 1631.0L1203.1 1633.0L1204.5 1635.6L1205.9 1638.4L1207.3 1641.8L1208.7 1643.2L1210.1 1648.2L1211.5 1651.6L1212.9 1654.1L1214.3 1656.0L1215.7 1659.4L1217.1 1661.9L1218.5 1663.7L1219.9 1666.2L1221.3 1668.8L1222.7 1670.3L1224.1 1671.6L1225.5 1673.5L1226.9 1675.1L1228.3 1675.4L1229.7 1678.0L1231.1 1679.2L1232.5 1679.3L1233.9 1680.9L1235.3 1684.4L1236.7 1684.6L1238.1 1686.5L1239.5 1686.5L1240.9 1688.7L1242.3 1689.1L1243.7 1689.2L1245.1 1690.5L1246.5 1692.0L1247.9 1693.0L1249.3 1692.5L1250.7 1692.3L1252.1 1692.5L1253.5 1693.7L1254.9 1694.2L1256.3 1694.0L1257.7 1694.1L1259.1 1694.9L1260.5 1695.0L1261.9 1695.2L1263.3 1694.4L1264.7 1695.2L1266.1 1696.6L1267.5 1695.8L1268.9 1697.3L1270.3 1696.4L1271.7 1696.2L1273.1 1696.7L1274.5 1697.0L1275.9 1696.5L1277.3 1697.1L1278.7 1696.9L1280.1 1698.1L1281.5 1697.2L1282.9 1697.7L1284.3 1697.0L1285.7 1697.2L1287.1 1698.1L1288.5 1697.8L1289.9 1698.3L1291.3 1698.8L1292.7 1699.2L1294.1 1698.3L1295.5 1699.2L1296.9 1699.8L1298.3 1699.3L1299.7 1699.2L1301.1 1699.7L1302.5 1701.2L1303.9 1700.5L1305.3 1701.5L1306.7 1700.7L1308.1 1701.7L1309.5 1700.5L1310.9 1701.3L1312.3 1701.6L1313.7 1702.6L1315.1 1702.0L1316.5 1702.4L1317.9 1701.7L1319.3 1701.8L1320.7 1702.7L1322.1 1702.8L1323.5 1702.7L1324.9 1702.7L1326.3 1701.9L1327.7 1703.3L1329.1 1702.3L1330.4 1702.9L1331.8 1702.7L1333.2 1701.5L1334.6 1701.4L1336.0 1701.6L1337.4 1702.4L1338.8 1703.0L1340.2 1702.4L1341.6 1703.0L1343.0 1701.9L1344.4 1702.3L1345.8 1702.2L1347.2 1702.7L1348.6 1702.1L1350.0 1702.6L1351.4 1703.0L1352.8 1702.5L1354.2 1702.3L1355.6 1702.6L1357.0 1702.2L1358.4 1702.3L1359.8 1703.3L1361.2 1703.1L1362.6 1702.2L1364.0 1702.8L1365.4 1703.2L1366.8 1703.4L1368.2 1703.3L1369.6 1703.5L1371.0 1703.0L1372.4 1703.1L1373.8 1703.0L1375.2 1703.7L1376.6 1703.6L1378.0 1704.0L1379.4 1703.7L1380.8 1702.8L1382.2 1702.5L1383.6 1702.5L1385.0 1702.8L1386.4 1703.6L1387.8 1702.6L1389.2 1702.3L1390.6 1703.2L1392.0 1703.7L1393.4 1703.7L1394.8 1704.2L1396.2 1703.3L1397.6 1703.1L1399.0 1703.2L1400.4 1702.7L1401.8 1703.1L1403.2 1704.0L1404.6 1704.5L1406.0 1704.1L1407.4 1703.6L1408.8 1703.3L1410.2 1703.6L1411.6 1702.5L1413.0 1703.8L1414.4 1703.9L1415.8 1703.4L1417.2 1703.5L1418.6 1702.6L1420.0 1703.9L1421.4 1703.9L1422.8 1702.1L1424.2 1703.2L1425.6 1703.7L1427.0 1704.4L1428.4 1703.1L1429.8 1703.5L1431.2 1704.3L1432.6 1703.8L1434.0 1703.5L1435.4 1703.3L1436.8 1703.6L1438.2 1703.2L1439.6 1704.1L1441.0 1703.1L1442.4 1703.9L1443.8 1704.1L1445.2 1704.2L1446.6 1703.7L1448.0 1703.6L1449.4 1703.8L1450.8 1703.7" stroke="#ff0000" stroke-width="1.8" fill="none" stroke-linejoin="round"/>
<path d="M69.5 1654.5L70.9 1652.1L72.3 1654.1L73.7 1653.7L75.1 1654.3L76.5 1653.9L77.9 1654.6L79.3 1653.7L80.7 1653.4L82.1 1654.0L83.5 1653.9L84.9 1653.5L86.3 1653.6L87.7 1654.1L89.1 1654.1L90.5 1653.5L91.9 1653.5L93.3 1652.8L94.7 1654.6L96.1 1653.6L97.5 1654.4L98.9 1653.9L100.3 1654.7L101.7 1654.5L103.1 1653.9L104.5 1654.5L105.9 1653.2L107.3 1654.3L108.7 1653.0L110.1 1653.9L111.5 1654.2L112.9 1653.8L114.3 1653.5L115.7 1653.3L117.1 1653.5L118.5 1654.2L119.9 1654.1L121.3 1653.5L122.7 1653.0L124.1 1653.9L125.5 1652.8L126.9 1653.2L128.3 1653.0L129.7 1653.6L131.1 1653.2L132.5 1653.2L133.9 1652.9L135.3 1652.2L136.7 1652.6L138.1 1652.8L139.5 1651.8L140.9 1651.9L142.3 1651.2L143.7 1651.5L145.1 1650.8L146.5 1650.0L147.9 1648.6L149.3 1647.9L150.7 1645.5L152.1 1644.2L153.5 1643.0L154.9 1643.0L156.3 1641.8L157.7 1641.4L159.1 1641.7L160.5 1641.6L161.9 1640.9L163.3 1638.6L164.7 1639.3L166.1 1638.8L167.5 1638.4L168.9 1638.5L170.3 1639.4L171.7 1637.8L173.1 1637.1L174.5 1637.4L175.9 1636.5L177.3 1635.9L178.7 1634.8L180.1 1634.5L181.5 1633.9L182.9 1631.6L184.3 1630.8L185.7 1631.4L187.1 1630.0L188.5 1627.6L189.9 1625.3L191.3 1623.4L192.7 1619.4L194.1 1615.5L195.5 1610.5L196.9 1599.5L198.3 1584.4L198.3 1582.4L199.0 1570.5L199.7 1556.0L199.7 1551.7L200.4 1530.4L201.1 1506.1L201.1 1504.9L201.8 1484.7L202.3 1477.6L202.5 1474.8L202.5 1477.1L203.2 1492.7L203.9 1517.3L203.9 1523.0L204.6 1543.8L205.3 1563.6L205.3 1563.7L206.0 1579.7L206.7 1589.3L208.1 1603.9L209.5 1613.1L210.8 1620.3L212.2 1623.5L213.6 1627.1L215.0 1629.6L216.4 1633.3L217.8 1634.0L219.2 1635.2L220.6 1637.1L222.0 1640.2L223.4 1639.9L224.8 1641.5L226.2 1642.2L227.6 1642.6L229.0 1642.7L230.4 1643.3L231.8 1643.7L233.2 1642.9L234.6 1645.9L236.0 1645.2L237.4 1645.0L238.8 1645.0L240.2 1644.8L241.6 1645.9L243.0 1645.4L244.4 1645.8L245.8 1644.6L247.2 1645.2L248.6 1645.7L250.0 1644.0L251.4 1644.0L252.8 1642.9L254.2 1642.9L255.6 1642.2L257.0 1640.9L258.4 1639.9L259.8 1639.7L261.2 1639.0L262.6 1638.0L264.0 1638.2L265.4 1637.9L266.8 1636.9L268.2 1637.2L269.6 1639.1L271.0 1637.8L272.4 1637.5L273.8 1638.9L275.2 1637.2L276.6 1636.1L278.0 1636.5L279.4 1636.8L280.8 1637.9L282.2 1638.4L283.6 1636.6L285.0 1638.7L286.4 1637.4L287.8 1638.3L289.2 1638.6L290.6 1638.6L292.0 1638.5L293.4 1638.7L294.8 1638.0L296.2 1639.0L297.6 1639.4L299.0 1639.5L300.4 1640.5L301.8 1639.8L303.2 1639.7L304.6 1640.3L306.0 1639.6L307.4 1638.9L308.8 1638.4L310.2 1640.4L311.6 1640.1L313.0 1640.3L314.4 1639.7L315.8 1640.1L317.2 1641.0L318.6 1640.2L320.0 1639.5L321.4 1639.9L322.8 1640.9L324.2 1639.6L325.6 1638.9L327.0 1639.1L328.4 1639.6L329.8 1640.8L331.2 1640.5L332.6 1640.1L334.0 1639.8L335.4 1640.5L336.8 1640.5L338.2 1640.3L339.6 1640.5L341.0 1640.3L342.4 1641.6L343.8 1639.5L345.2 1640.8L346.6 1640.2L348.0 1641.2L349.4 1640.7L350.8 1641.0L352.2 1641.1L353.6 1641.0L355.0 1641.4L356.4 1640.2L357.8 1641.4L359.2 1640.8L360.6 1641.1L362.0 1641.7L363.4 1641.5L364.8 1641.9L366.2 1639.6L367.6 1640.2L369.0 1641.2L370.4 1640.0L371.8 1640.4L373.2 1641.4L374.6 1640.8L376.0 1639.8L377.4 1640.4L378.8 1640.4L380.2 1640.0L381.6 1639.8L383.0 1639.8L384.4 1638.8L385.8 1639.5L387.2 1638.8L388.6 1639.4L390.0 1639.3L391.4 1638.4L392.8 1639.1L394.2 1638.8L395.6 1638.4L397.0 1638.7L398.4 1638.0L399.8 1637.9L401.2 1637.9L402.6 1637.7L404.0 1638.2L405.4 1636.2L406.8 1637.2L408.2 1636.2L409.6 1636.8L411.0 1637.1L412.4 1636.8L413.8 1637.2L415.2 1636.8L416.6 1635.1L418.0 1635.8L419.4 1637.2L420.8 1637.1L422.2 1636.2L423.6 1635.3L425.0 1637.2L426.4 1634.9L427.8 1636.2L429.2 1636.0L430.6 1636.1L432.0 1635.3L433.4 1635.7L434.8 1636.5L436.2 1635.6L437.6 1635.2L439.0 1635.9L440.4 1635.9L441.8 1635.8L443.2 1635.4L444.6 1636.1L446.0 1635.7L447.4 1635.1L448.8 1635.7L450.2 1635.5L451.6 1635.5L453.0 1634.4L454.4 1634.8L455.8 1635.2L457.2 1635.2L458.6 1634.6L460.0 1634.1L461.4 1633.9L462.8 1633.4L464.2 1633.2L465.6 1632.0L467.0 1631.2L467.3 1631.7L468.4 1630.5L469.8 1632.1L471.2 1632.5L472.6 1633.4L474.0 1634.3L475.4 1634.5L476.8 1634.1L478.2 1635.1L479.6 1635.1L481.0 1635.7L482.4 1636.1L483.8 1635.5L485.2 1636.5L486.6 1636.9L488.0 1636.2L489.4 1636.8L490.7 1635.7L492.1 1636.3L493.5 1637.1L494.9 1635.8L496.3 1636.5L497.7 1636.3L499.1 1637.4L500.5 1637.5L501.9 1636.6L503.3 1637.0L504.7 1635.6L506.1 1637.5L507.5 1637.3L508.9 1637.8L510.3 1635.9L511.7 1637.3L513.1 1637.0L514.5 1635.9L515.9 1636.9L517.3 1637.2L518.7 1637.7L520.1 1637.4L521.5 1637.0L522.9 1637.6L524.3 1637.3L525.7 1637.0L527.1 1636.8L528.5 1637.4L529.9 1637.4L531.3 1638.3L532.7 1637.1L534.1 1638.2L535.5 1637.5L536.9 1637.9L538.3 1636.8L539.7 1636.7L541.1 1637.0L542.5 1637.5L543.9 1637.0L545.3 1637.2L546.7 1636.8L548.1 1637.0L549.5 1636.4L550.9 1635.9L552.3 1636.2L553.7 1635.8L555.1 1636.4L556.5 1635.2L557.9 1635.1L559.3 1634.6L560.7 1635.1L562.1 1634.7L563.5 1634.2L564.9 1632.8L566.3 1632.2L567.7 1632.6L569.1 1632.2L570.5 1631.7L571.9 1628.8L573.3 1628.1L574.7 1625.0L576.1 1622.3L577.5 1618.2L578.8 1613.2L578.9 1611.6L579.5 1608.2L580.2 1604.3L580.3 1604.7L580.9 1602.2L581.6 1595.7L581.7 1596.2L582.3 1594.3L582.8 1595.0L583.0 1594.5L583.1 1595.5L583.7 1595.0L584.4 1598.9L584.5 1599.1L585.1 1602.1L585.8 1607.0L585.9 1607.0L586.5 1612.6L587.3 1615.6L588.7 1620.3L590.1 1624.5L591.5 1628.6L592.9 1629.3L594.3 1631.5L595.7 1632.8L597.1 1634.3L598.5 1635.2L599.9 1635.7L601.3 1636.2L602.7 1636.2L604.1 1637.5L605.5 1637.9L606.9 1637.9L608.3 1638.2L609.7 1637.9L611.1 1639.8L612.5 1638.6L613.9 1638.5L615.3 1638.8L616.7 1639.1L618.1 1639.7L619.5 1638.2L620.9 1639.7L622.3 1639.2L623.7 1639.4L625.1 1640.0L626.5 1639.9L627.9 1639.1L629.3 1639.2L630.7 1639.7L632.1 1638.7L633.5 1637.7L634.9 1636.3L636.3 1635.9L637.7 1634.6L639.1 1633.0L640.5 1631.8L641.9 1631.8L643.3 1630.9L644.7 1630.6L646.1 1628.8L647.5 1628.8L648.9 1626.6L650.3 1626.1L651.7 1624.1L653.1 1621.8L654.5 1620.2L655.9 1620.0L656.1 1619.8L657.3 1620.7L658.7 1620.4L660.1 1620.9L661.5 1622.9L662.9 1625.1L664.3 1625.7L665.7 1625.0L667.1 1625.7L668.5 1626.5L669.9 1626.3L671.3 1626.9L672.7 1627.4L674.1 1627.5L675.5 1628.4L676.9 1629.1L678.3 1630.3L679.7 1630.2L681.1 1631.7L682.5 1631.8L683.9 1632.6L685.3 1633.1L686.7 1636.4L688.1 1635.4L689.5 1635.7L690.9 1635.6L692.3 1635.1L693.7 1635.3L695.1 1635.4L696.5 1635.5L697.9 1635.6L699.3 1636.1L700.7 1633.7L702.1 1634.9L703.5 1635.6L704.9 1635.0L706.3 1635.1L707.7 1635.9L709.1 1635.2L710.5 1636.0L711.9 1634.9L713.3 1635.0L714.7 1634.3L716.1 1633.7L717.5 1634.5L718.9 1634.7L720.3 1634.4L721.7 1633.8L723.1 1634.8L724.5 1634.4L725.9 1634.3L727.3 1633.8L728.7 1635.0L730.1 1634.8L731.5 1634.1L732.9 1633.8L734.3 1633.9L735.7 1634.5L737.1 1635.0L738.5 1633.4L739.9 1633.1L741.3 1632.2L742.7 1634.5L744.1 1632.2L745.5 1633.1L746.9 1632.6L748.3 1632.8L749.7 1631.3L751.1 1630.5L752.5 1631.1L753.9 1630.9L755.3 1630.9L756.7 1628.9L758.1 1629.1L759.5 1628.8L760.9 1627.8L762.3 1628.0L763.7 1628.1L765.1 1627.2L766.5 1626.0L767.9 1626.6L769.3 1626.5L770.6 1625.9L772.0 1625.6L773.4 1623.8L774.8 1624.7L776.2 1624.5L777.6 1623.6L779.0 1623.5L780.4 1622.9L781.8 1623.9L783.2 1622.8L784.6 1622.3L786.0 1622.9L787.4 1622.8L788.8 1623.1L790.2 1622.3L791.6 1622.5L793.0 1623.4L794.4 1624.7L795.8 1624.0L797.2 1623.2L798.6 1624.5L800.0 1624.4L801.4 1624.2L802.8 1625.3L804.2 1625.9L805.6 1626.9L807.0 1627.9L808.4 1628.3L809.8 1628.6L811.2 1628.3L812.6 1629.1L814.0 1629.4L815.4 1630.6L816.8 1629.8L818.2 1630.1L819.6 1631.5L821.0 1631.2L822.4 1630.8L823.8 1631.3L825.2 1631.5L826.6 1631.7L828.0 1632.3L829.4 1632.2L830.8 1632.1L832.2 1632.2L833.6 1631.7L835.0 1632.6L836.4 1633.6L837.8 1633.3L839.2 1633.0L840.6 1633.4L842.0 1633.3L843.4 1634.1L844.8 1635.2L846.2 1635.2L847.6 1635.1L849.0 1635.0L850.4 1634.7L851.8 1634.3L853.2 1635.1L854.6 1635.0L856.0 1635.9L857.4 1635.7L858.8 1635.4L860.2 1636.1L861.6 1637.6L863.0 1635.7L864.4 1636.9L865.8 1636.8L867.2 1636.6L868.6 1636.3L870.0 1636.9L871.4 1637.1L872.8 1637.5L874.2 1637.6L875.6 1637.5L877.0 1637.1L878.4 1637.7L879.8 1637.4L881.2 1637.2L882.6 1638.3L884.0 1637.6L885.4 1637.4L886.8 1638.1L888.2 1637.2L889.6 1638.2L891.0 1638.5L892.4 1638.2L893.8 1638.5L895.2 1639.6L896.6 1639.2L898.0 1639.0L899.4 1638.9L900.8 1638.4L902.2 1638.6L903.6 1638.5L905.0 1638.7L906.4 1638.8L907.8 1638.3L909.2 1639.5L910.6 1638.1L912.0 1638.7L913.4 1638.9L914.8 1638.2L916.2 1637.7L917.6 1637.9L919.0 1638.6L920.4 1637.7L921.8 1637.0L923.2 1637.2L924.6 1636.5L926.0 1635.4L927.4 1636.2L928.8 1636.4L930.2 1636.2L931.6 1635.3L933.0 1634.5L934.4 1635.7L935.8 1634.8L937.2 1635.2L938.6 1635.3L940.0 1634.9L941.4 1634.7L942.8 1634.5L944.2 1634.8L945.6 1635.3L947.0 1635.3L948.4 1636.0L949.8 1635.1L951.2 1635.8L952.6 1636.5L954.0 1636.3L955.4 1636.5L956.8 1636.2L958.2 1637.1L959.6 1637.6L961.0 1636.2L962.4 1637.3L963.8 1635.9L965.2 1636.6L966.6 1635.5L968.0 1636.7L969.4 1636.3L970.8 1636.3L972.2 1636.7L973.6 1636.3L975.0 1635.8L976.4 1635.3L977.8 1635.6L979.2 1635.1L980.6 1635.0L982.0 1635.9L983.4 1635.4L984.8 1634.9L986.2 1634.9L987.6 1633.6L989.0 1634.2L990.4 1633.0L991.8 1633.3L993.2 1633.7L994.6 1633.4L996.0 1633.4L997.4 1632.9L998.8 1632.5L1000.2 1632.3L1001.6 1632.8L1003.0 1632.5L1004.4 1630.7L1005.8 1631.3L1007.2 1631.6L1008.6 1630.5L1010.0 1630.5L1011.4 1629.8L1012.8 1629.1L1014.2 1629.6L1015.6 1629.0L1017.0 1628.8L1018.4 1627.8L1019.8 1627.6L1021.2 1627.9L1022.6 1627.4L1024.0 1627.7L1025.4 1626.4L1026.8 1627.1L1028.2 1626.7L1029.6 1626.1L1031.0 1626.1L1032.4 1625.4L1033.8 1625.0L1035.2 1624.8L1036.6 1623.7L1038.0 1624.0L1039.4 1624.1L1040.8 1622.2L1042.2 1623.1L1043.6 1621.9L1045.0 1621.6L1046.4 1621.3L1047.8 1620.9L1049.2 1621.0L1050.5 1619.6L1051.9 1620.1L1053.3 1618.5L1054.7 1618.2L1056.1 1617.7L1057.5 1616.3L1058.9 1615.4L1060.3 1615.5L1061.7 1615.2L1063.1 1614.7L1064.5 1613.2L1065.9 1613.9L1067.3 1612.1L1068.7 1611.0L1070.1 1611.5L1071.5 1610.9L1072.9 1608.8L1074.3 1609.3L1075.7 1607.2L1077.1 1607.4L1078.5 1608.1L1079.9 1606.7L1081.3 1605.6L1082.7 1604.7L1084.1 1602.8L1085.5 1602.7L1086.9 1601.9L1088.3 1599.8L1089.7 1599.7L1091.1 1598.8L1092.5 1597.4L1093.9 1596.4L1095.3 1594.6L1096.7 1592.5L1098.1 1591.8L1099.5 1588.5L1100.9 1587.4L1102.3 1586.6L1103.7 1584.3L1105.1 1579.5L1106.5 1572.8L1107.9 1571.3L1109.3 1565.4L1110.7 1559.2L1112.1 1554.5L1113.5 1548.1L1114.9 1539.4L1116.3 1531.8L1117.7 1526.3L1119.1 1513.7L1120.5 1508.1L1121.9 1497.3L1123.3 1486.8L1124.7 1475.9L1126.1 1463.1L1127.5 1450.8L1128.9 1436.3L1130.3 1421.9L1131.7 1408.7L1133.1 1391.7L1134.5 1374.3L1135.9 1359.9L1137.3 1339.4L1138.7 1323.6L1140.1 1312.2L1141.5 1292.3L1142.9 1275.1L1144.3 1259.7L1145.7 1244.3L1147.1 1238.6L1148.5 1232.1L1149.9 1229.5L1151.3 1226.6L1152.7 1226.0L1154.1 1228.3L1155.5 1246.3L1156.9 1250.1L1158.3 1266.7L1159.7 1292.2L1161.1 1315.8L1162.5 1338.2L1163.9 1355.7L1165.3 1369.7L1166.7 1386.5L1168.1 1399.8L1169.5 1417.8L1170.9 1430.1L1172.3 1441.0L1173.7 1448.6L1175.1 1459.4L1176.5 1467.1L1177.9 1481.6L1179.3 1493.5L1180.7 1502.1L1182.1 1508.1L1183.5 1518.2L1184.9 1519.8L1186.3 1528.5L1187.7 1531.6L1189.1 1537.6L1190.5 1540.5L1191.9 1545.8L1193.3 1548.5L1194.7 1551.1L1196.1 1554.9L1197.5 1557.0L1198.9 1561.9L1200.3 1565.5L1201.7 1567.7L1203.1 1570.2L1204.5 1574.1L1205.9 1574.6L1207.3 1579.0L1208.7 1581.4L1210.1 1583.9L1211.5 1587.7L1212.9 1589.2L1214.3 1593.0L1215.7 1596.2L1217.1 1597.8L1218.5 1601.2L1219.9 1604.4L1221.3 1607.1L1222.7 1608.1L1224.1 1611.6L1225.5 1612.7L1226.9 1614.8L1228.3 1615.9L1229.7 1618.2L1231.1 1618.7L1232.5 1620.7L1233.9 1622.1L1235.3 1623.6L1236.7 1623.7L1238.1 1626.0L1239.5 1626.6L1240.9 1628.5L1242.3 1628.4L1243.7 1629.2L1245.1 1630.2L1246.5 1630.8L1247.9 1631.5L1249.3 1631.4L1250.7 1631.3L1252.1 1632.0L1253.5 1632.9L1254.9 1633.7L1256.3 1633.6L1257.7 1633.6L1259.1 1634.3L1260.5 1634.6L1261.9 1636.4L1263.3 1635.8L1264.7 1635.4L1266.1 1634.7L1267.5 1635.6L1268.9 1635.7L1270.3 1636.3L1271.7 1637.4L1273.1 1636.3L1274.5 1635.5L1275.9 1636.6L1277.3 1635.9L1278.7 1637.5L1280.1 1637.8L1281.5 1637.5L1282.9 1636.7L1284.3 1637.6L1285.7 1638.5L1287.1 1637.5L1288.5 1637.9L1289.9 1638.5L1291.3 1638.8L1292.7 1638.8L1294.1 1639.2L1295.5 1639.4L1296.9 1639.2L1298.3 1639.7L1299.7 1640.1L1301.1 1639.7L1302.5 1640.6L1303.9 1640.8L1305.3 1641.2L1306.7 1641.3L1308.1 1640.8L1309.5 1640.9L1310.9 1641.9L1312.3 1641.8L1313.7 1642.1L1315.1 1641.9L1316.5 1641.6L1317.9 1642.5L1319.3 1642.3L1320.7 1642.7L1322.1 1643.0L1323.5 1643.0L1324.9 1643.0L1326.3 1642.0L1327.7 1641.4L1329.1 1642.2L1330.4 1641.9L1331.8 1641.9L1333.2 1642.9L1334.6 1641.8L1336.0 1643.1L1337.4 1643.2L1338.8 1644.0L1340.2 1643.2L1341.6 1643.7L1343.0 1642.4L1344.4 1642.4L1345.8 1643.2L1347.2 1642.1L1348.6 1643.3L1350.0 1642.6L1351.4 1641.8L1352.8 1643.7L1354.2 1642.2L1355.6 1644.1L1357.0 1642.1L1358.4 1642.4L1359.8 1643.0L1361.2 1642.9L1362.6 1642.1L1364.0 1642.9L1365.4 1643.0L1366.8 1643.1L1368.2 1642.1L1369.6 1642.6L1371.0 1642.9L1372.4 1643.4L1373.8 1643.0L1375.2 1642.8L1376.6 1642.8L1378.0 1643.7L1379.4 1642.6L1380.8 1643.2L1382.2 1641.9L1383.6 1643.9L1385.0 1643.3L1386.4 1642.2L1387.8 1643.3L1389.2 1643.7L1390.6 1643.5L1392.0 1643.1L1393.4 1643.5L1394.8 1642.7L1396.2 1643.0L1397.6 1642.9L1399.0 1643.1L1400.4 1642.6L1401.8 1643.8L1403.2 1643.1L1404.6 1642.6L1406.0 1643.0L1407.4 1643.3L1408.8 1643.2L1410.2 1643.7L1411.6 1643.0L1413.0 1642.8L1414.4 1643.4L1415.8 1643.8L1417.2 1642.7L1418.6 1642.4L1420.0 1642.8L1421.4 1643.1L1422.8 1642.7L1424.2 1643.3L1425.6 1642.7L1427.0 1643.6L1428.4 1642.6L1429.8 1642.7L1431.2 1643.2L1432.6 1643.5L1434.0 1643.6L1435.4 1642.8L1436.8 1643.2L1438.2 1643.5L1439.6 1643.9L1441.0 1642.7L1442.4 1642.6L1443.8 1643.4L1445.2 1643.1L1446.6 1643.9L1448.0 1643.2L1449.4 1643.4L1450.8 1642.8" stroke="#0000ff" stroke-width="1.8" fill="none" stroke-linejoin="round"/>
<path d="M69.5 1591.7L70.9 1590.9L72.3 1590.7L73.7 1590.1L75.1 1591.4L76.5 1592.3L77.9 1591.7L79.3 1592.0L80.7 1592.4L82.1 1591.4L83.5 1593.3L84.9 1591.5L86.3 1592.2L87.7 1593.4L89.1 1592.0L90.5 1592.2L91.9 1591.9L93.3 1592.3L94.7 1591.1L96.1 1591.9L97.5 1593.0L98.9 1592.3L100.3 1592.1L101.7 1592.4L103.1 1592.4L104.5 1592.3L105.9 1592.5L107.3 1591.4L108.7 1592.5L110.1 1591.9L111.5 1592.6L112.9 1592.2L114.3 1591.7L115.7 1592.1L117.1 1591.7L118.5 1592.7L119.9 1592.1L121.3 1592.5L122.7 1591.5L124.1 1592.9L125.5 1591.9L126.9 1592.6L128.3 1592.3L129.7 1591.2L131.1 1591.8L132.5 1591.2L133.9 1591.5L135.3 1591.8L136.7 1591.2L138.1 1591.1L139.5 1589.7L140.9 1590.2L142.3 1590.0L143.7 1590.0L145.1 1588.6L146.5 1588.2L147.9 1586.9L149.3 1584.5L150.7 1583.6L152.1 1583.5L153.5 1581.9L154.9 1581.2L156.3 1581.8L157.7 1580.8L159.1 1579.9L160.5 1579.6L161.9 1578.8L163.3 1578.2L164.7 1577.8L166.1 1577.8L167.5 1578.0L168.9 1576.6L170.3 1576.4L171.7 1576.0L173.1 1574.9L174.5 1575.3L175.9 1575.2L177.3 1573.6L178.7 1574.0L180.1 1572.4L181.5 1572.7L182.9 1571.8L184.3 1569.7L185.7 1567.3L187.1 1566.7L188.5 1563.9L189.9 1561.3L191.3 1558.6L192.7 1555.2L194.1 1547.8L195.5 1538.8L196.9 1523.7L198.3 1502.6L198.3 1500.8L199.0 1485.6L199.7 1462.9L199.7 1461.7L200.4 1431.0L201.1 1397.0L201.1 1396.5L201.8 1365.2L202.3 1355.7L202.5 1357.4L202.5 1358.7L203.2 1382.7L203.9 1413.9L203.9 1418.5L204.6 1449.2L205.3 1474.7L205.3 1474.8L206.0 1497.2L206.7 1509.1L208.1 1529.3L209.5 1543.5L210.8 1551.0L212.2 1557.0L213.6 1562.8L215.0 1565.5L216.4 1569.1L217.8 1570.5L219.2 1573.1L220.6 1574.9L222.0 1575.7L223.4 1577.9L224.8 1577.7L226.2 1579.0L227.6 1580.8L229.0 1582.8L230.4 1583.0L231.8 1583.2L233.2 1583.7L234.6 1584.3L236.0 1583.3L237.4 1582.6L238.8 1583.1L240.2 1583.3L241.6 1582.2L243.0 1582.1L244.4 1580.4L245.8 1580.8L247.2 1580.2L248.6 1579.8L250.0 1578.9L251.4 1578.6L252.8 1577.0L254.2 1577.4L255.6 1575.7L257.0 1576.1L258.4 1577.0L259.8 1576.8L261.2 1575.1L262.6 1576.5L264.0 1575.8L265.4 1575.6L266.8 1576.1L268.2 1576.0L269.6 1576.8L271.0 1575.0L272.4 1575.6L273.8 1575.8L275.2 1574.8L276.6 1576.6L278.0 1577.0L279.4 1575.6L280.8 1576.3L282.2 1575.9L283.6 1576.3L285.0 1575.9L286.4 1576.9L287.8 1575.8L289.2 1577.4L290.6 1576.9L292.0 1578.2L293.4 1576.0L294.8 1577.1L296.2 1576.5L297.6 1577.3L299.0 1577.7L300.4 1577.1L301.8 1577.0L303.2 1577.0L304.6 1578.1L306.0 1578.8L307.4 1578.8L308.8 1578.3L310.2 1577.9L311.6 1578.3L313.0 1577.7L314.4 1577.7L315.8 1579.2L317.2 1578.5L318.6 1578.8L320.0 1578.5L321.4 1579.3L322.8 1579.4L324.2 1578.2L325.6 1578.4L327.0 1578.2L328.4 1579.2L329.8 1579.2L331.2 1578.4L332.6 1579.7L334.0 1578.5L335.4 1577.8L336.8 1577.3L338.2 1578.3L339.6 1578.5L341.0 1578.0L342.4 1578.5L343.8 1578.9L345.2 1578.2L346.6 1578.6L348.0 1579.0L349.4 1578.4L350.8 1577.8L352.2 1578.3L353.6 1578.3L355.0 1579.1L356.4 1577.7L357.8 1577.0L359.2 1578.0L360.6 1578.0L362.0 1577.5L363.4 1578.0L364.8 1577.8L366.2 1578.2L367.6 1577.0L369.0 1577.0L370.4 1577.3L371.8 1577.0L373.2 1577.8L374.6 1577.4L376.0 1576.9L377.4 1577.7L378.8 1577.0L380.2 1577.2L381.6 1577.0L383.0 1576.3L384.4 1576.2L385.8 1576.2L387.2 1575.5L388.6 1575.7L390.0 1576.3L391.4 1575.9L392.8 1575.1L394.2 1576.7L395.6 1574.8L397.0 1575.5L398.4 1575.5L399.8 1575.6L401.2 1574.4L402.6 1574.7L404.0 1574.5L405.4 1575.1L406.8 1574.6L408.2 1574.5L409.6 1574.5L411.0 1575.1L412.4 1574.4L413.8 1574.4L415.2 1573.4L416.6 1574.1L418.0 1573.0L419.4 1574.1L420.8 1573.7L422.2 1573.1L423.6 1572.9L425.0 1573.4L426.4 1573.5L427.8 1573.1L429.2 1573.2L430.6 1573.2L432.0 1573.0L433.4 1573.2L434.8 1573.4L436.2 1573.9L437.6 1573.6L439.0 1572.9L440.4 1574.0L441.8 1573.8L443.2 1573.0L444.6 1573.6L446.0 1572.7L447.4 1572.5L448.8 1572.4L450.2 1573.6L451.6 1572.6L453.0 1572.5L454.4 1572.1L455.8 1571.6L457.2 1571.6L458.6 1571.2L460.0 1571.3L461.4 1569.0L462.8 1569.5L464.2 1568.3L465.6 1566.6L466.0 1568.1L467.0 1568.6L468.4 1568.9L469.8 1569.2L471.2 1570.0L472.6 1569.6L474.0 1571.5L475.4 1572.0L476.8 1571.8L478.2 1572.7L479.6 1572.5L481.0 1574.3L482.4 1572.6L483.8 1572.9L485.2 1572.4L486.6 1573.4L488.0 1573.8L489.4 1573.8L490.7 1573.6L492.1 1574.4L493.5 1574.2L494.9 1574.7L496.3 1574.1L497.7 1573.3L499.1 1574.2L500.5 1573.8L501.9 1574.8L503.3 1574.1L504.7 1574.3L506.1 1574.5L507.5 1573.7L508.9 1574.4L510.3 1575.0L511.7 1574.3L513.1 1574.6L514.5 1574.8L515.9 1574.4L517.3 1574.6L518.7 1575.0L520.1 1574.6L521.5 1574.8L522.9 1574.7L524.3 1574.3L525.7 1574.1L527.1 1575.8L528.5 1575.5L529.9 1574.7L531.3 1575.3L532.7 1575.3L534.1 1575.2L535.5 1574.5L536.9 1574.0L538.3 1574.0L539.7 1574.5L541.1 1575.3L542.5 1575.3L543.9 1574.3L545.3 1574.2L546.7 1574.9L548.1 1575.3L549.5 1573.6L550.9 1574.2L552.3 1574.0L553.7 1573.6L555.1 1573.4L556.5 1573.2L557.9 1573.2L559.3 1572.2L560.7 1572.7L562.1 1572.8L563.5 1572.3L564.9 1571.9L566.3 1571.1L567.7 1570.2L569.1 1570.3L570.5 1567.9L571.9 1566.4L573.3 1564.8L574.7 1560.9L576.1 1555.5L577.5 1549.3L578.8 1540.9L578.9 1540.2L579.5 1535.2L580.2 1530.2L580.3 1529.0L580.9 1523.8L581.6 1517.8L581.7 1518.3L582.3 1515.7L582.8 1516.0L583.0 1513.7L583.1 1514.4L583.7 1517.8L584.4 1520.3L584.5 1522.3L585.1 1527.3L585.8 1533.4L585.9 1533.7L586.5 1539.4L587.3 1544.5L588.7 1554.5L590.1 1559.2L591.5 1563.6L592.9 1566.4L594.3 1568.6L595.7 1570.2L597.1 1571.5L598.5 1572.0L599.9 1573.0L601.3 1573.0L602.7 1573.5L604.1 1574.0L605.5 1574.3L606.9 1574.4L608.3 1575.0L609.7 1575.9L611.1 1575.9L612.5 1575.7L613.9 1576.2L615.3 1576.3L616.7 1577.6L618.1 1575.6L619.5 1576.5L620.9 1575.8L622.3 1577.1L623.7 1576.4L625.1 1576.8L626.5 1576.6L627.9 1576.8L629.3 1574.8L630.7 1575.2L632.1 1575.3L633.5 1573.8L634.9 1574.0L636.3 1573.4L637.7 1571.2L639.1 1570.6L640.5 1570.2L641.9 1569.9L643.3 1568.6L644.7 1567.5L646.1 1565.4L647.5 1564.6L648.9 1563.0L650.3 1560.7L651.7 1559.2L653.1 1556.4L654.5 1554.2L655.9 1554.3L656.7 1552.4L657.3 1553.7L658.7 1553.0L660.1 1554.7L661.5 1555.6L662.9 1557.7L664.3 1560.3L665.7 1560.5L667.1 1560.2L668.5 1562.9L669.9 1562.1L671.3 1563.0L672.7 1563.8L674.1 1563.4L675.5 1566.1L676.9 1566.7L678.3 1566.5L679.7 1567.7L681.1 1568.2L682.5 1568.8L683.9 1569.8L685.3 1569.8L686.7 1571.1L688.1 1571.6L689.5 1573.4L690.9 1572.1L692.3 1573.8L693.7 1573.7L695.1 1573.4L696.5 1573.0L697.9 1574.3L699.3 1574.1L700.7 1573.3L702.1 1573.2L703.5 1573.4L704.9 1574.2L706.3 1572.7L707.7 1573.2L709.1 1573.7L710.5 1572.3L711.9 1572.9L713.3 1573.4L714.7 1572.5L716.1 1572.6L717.5 1571.7L718.9 1572.6L720.3 1571.7L721.7 1571.9L723.1 1572.2L724.5 1571.6L725.9 1572.2L727.3 1572.0L728.7 1571.7L730.1 1571.8L731.5 1571.0L732.9 1569.8L734.3 1571.3L735.7 1571.0L737.1 1570.2L738.5 1569.8L739.9 1570.7L741.3 1569.7L742.7 1569.4L744.1 1569.1L745.5 1570.2L746.9 1568.2L748.3 1566.7L749.7 1567.5L751.1 1566.5L752.5 1565.5L753.9 1566.0L755.3 1565.0L756.7 1565.1L758.1 1563.8L759.5 1564.0L760.9 1563.3L762.3 1562.1L763.7 1561.9L765.1 1561.8L766.5 1560.6L767.9 1558.7L769.3 1559.0L770.6 1558.5L772.0 1558.6L773.4 1557.3L774.8 1557.6L776.2 1556.4L777.6 1556.1L779.0 1555.7L780.4 1555.5L781.8 1555.2L783.2 1555.4L784.6 1554.7L786.0 1554.5L787.4 1555.2L788.8 1555.5L790.2 1555.4L791.6 1556.1L793.0 1556.5L794.4 1557.7L795.8 1556.2L797.2 1558.8L798.6 1556.7L800.0 1557.6L801.4 1559.4L802.8 1559.3L804.2 1560.2L805.6 1560.7L807.0 1560.8L808.4 1561.4L809.8 1562.5L811.2 1563.5L812.6 1564.1L814.0 1564.4L815.4 1564.5L816.8 1565.8L818.2 1564.2L819.6 1565.7L821.0 1566.6L822.4 1567.1L823.8 1567.1L825.2 1567.4L826.6 1567.4L828.0 1567.2L829.4 1566.1L830.8 1567.3L832.2 1567.6L833.6 1568.8L835.0 1568.0L836.4 1568.2L837.8 1569.0L839.2 1568.3L840.6 1569.1L842.0 1569.6L843.4 1569.3L844.8 1569.7L846.2 1569.0L847.6 1569.4L849.0 1570.1L850.4 1571.1L851.8 1570.3L853.2 1570.3L854.6 1570.6L856.0 1571.5L857.4 1570.6L858.8 1571.6L860.2 1571.5L861.6 1571.9L863.0 1571.6L864.4 1572.2L865.8 1573.0L867.2 1572.3L868.6 1572.4L870.0 1571.5L871.4 1573.1L872.8 1572.7L874.2 1573.3L875.6 1573.3L877.0 1573.0L878.4 1573.2L879.8 1572.9L881.2 1574.7L882.6 1574.3L884.0 1574.3L885.4 1574.6L886.8 1574.8L888.2 1574.6L889.6 1574.7L891.0 1575.5L892.4 1573.5L893.8 1574.5L895.2 1574.2L896.6 1574.5L898.0 1573.3L899.4 1574.0L900.8 1575.0L902.2 1574.0L903.6 1574.9L905.0 1574.2L906.4 1574.6L907.8 1573.8L909.2 1574.2L910.6 1573.7L912.0 1574.6L913.4 1573.3L914.8 1574.2L916.2 1573.6L917.6 1573.6L919.0 1574.2L920.4 1573.1L921.8 1572.7L923.2 1572.8L924.6 1572.9L926.0 1572.1L927.4 1573.0L928.8 1572.0L930.2 1571.5L931.6 1571.2L933.0 1571.3L934.4 1571.5L935.8 1571.6L937.2 1571.0L938.6 1570.5L940.0 1570.7L941.4 1569.6L942.8 1571.3L944.2 1571.1L945.6 1570.6L947.0 1571.2L948.4 1570.3L949.8 1571.9L951.2 1570.9L952.6 1570.9L954.0 1572.3L955.4 1570.8L956.8 1571.6L958.2 1571.1L959.6 1571.3L961.0 1571.6L962.4 1571.5L963.8 1572.6L965.2 1572.5L966.6 1571.7L968.0 1573.3L969.4 1572.1L970.8 1572.0L972.2 1572.3L973.6 1571.6L975.0 1572.8L976.4 1571.5L977.8 1571.2L979.2 1572.3L980.6 1571.1L982.0 1571.2L983.4 1570.5L984.8 1570.7L986.2 1570.7L987.6 1569.1L989.0 1570.0L990.4 1569.3L991.8 1570.1L993.2 1570.1L994.6 1568.9L996.0 1568.6L997.4 1568.5L998.8 1568.1L1000.2 1566.3L1001.6 1566.0L1003.0 1566.0L1004.4 1565.1L1005.8 1565.2L1007.2 1565.1L1008.6 1564.1L1010.0 1564.4L1011.4 1564.6L1012.8 1563.4L1014.2 1563.2L1015.6 1562.5L1017.0 1562.1L1018.4 1561.5L1019.8 1560.7L1021.2 1561.4L1022.6 1561.3L1024.0 1560.3L1025.4 1560.0L1026.8 1558.8L1028.2 1559.1L1029.6 1559.0L1031.0 1558.4L1032.4 1558.2L1033.8 1557.1L1035.2 1556.6L1036.6 1556.8L1038.0 1557.5L1039.4 1556.0L1040.8 1554.9L1042.2 1555.0L1043.6 1554.9L1045.0 1555.3L1046.4 1554.8L1047.8 1553.2L1049.2 1552.6L1050.5 1552.6L1051.9 1552.3L1053.3 1551.2L1054.7 1551.9L1056.1 1550.5L1057.5 1550.4L1058.9 1549.6L1060.3 1549.5L1061.7 1548.5L1063.1 1548.2L1064.5 1548.2L1065.9 1547.0L1067.3 1547.2L1068.7 1544.8L1070.1 1544.9L1071.5 1543.7L1072.9 1542.8L1074.3 1543.0L1075.7 1543.5L1077.1 1541.7L1078.5 1541.4L1079.9 1538.6L1081.3 1539.2L1082.7 1537.3L1084.1 1537.3L1085.5 1536.8L1086.9 1534.7L1088.3 1534.7L1089.7 1532.1L1091.1 1531.5L1092.5 1529.6L1093.9 1528.6L1095.3 1526.5L1096.7 1522.7L1098.1 1521.7L1099.5 1518.9L1100.9 1517.8L1102.3 1511.1L1103.7 1509.5L1105.1 1505.7L1106.5 1501.7L1107.9 1495.7L1109.3 1488.7L1110.7 1484.3L1112.1 1475.9L1113.5 1468.4L1114.9 1460.3L1116.3 1452.0L1117.7 1445.6L1119.1 1432.1L1120.5 1421.8L1121.9 1414.0L1123.3 1400.0L1124.7 1385.2L1126.1 1366.6L1127.5 1351.0L1128.9 1330.4L1130.3 1310.4L1131.7 1292.5L1133.1 1277.4L1134.5 1262.0L1135.9 1247.6L1137.3 1233.7L1138.7 1204.1L1140.1 1179.9L1141.5 1156.9L1142.9 1140.5L1144.3 1115.5L1145.7 1098.8L1147.1 1080.5L1148.5 1066.9L1149.9 1068.6L1151.3 1057.5L1152.7 1068.1L1154.1 1063.1L1155.5 1069.8L1156.9 1085.3L1158.3 1106.5L1159.7 1124.1L1161.1 1151.8L1162.5 1167.1L1163.9 1186.2L1165.3 1206.9L1166.7 1232.8L1168.1 1258.1L1169.5 1274.3L1170.9 1299.9L1172.3 1318.6L1173.7 1335.4L1175.1 1356.1L1176.5 1367.4L1177.9 1383.1L1179.3 1401.6L1180.7 1413.2L1182.1 1422.0L1183.5 1428.9L1184.9 1433.6L1186.3 1442.4L1187.7 1447.1L1189.1 1454.5L1190.5 1459.0L1191.9 1462.5L1193.3 1470.0L1194.7 1476.2L1196.1 1482.6L1197.5 1486.7L1198.9 1490.8L1200.3 1496.5L1201.7 1499.2L1203.1 1502.4L1204.5 1506.4L1205.9 1509.3L1207.3 1511.4L1208.7 1513.4L1210.1 1517.4L1211.5 1517.7L1212.9 1521.1L1214.3 1523.9L1215.7 1525.0L1217.1 1528.0L1218.5 1531.6L1219.9 1533.2L1221.3 1534.7L1222.7 1539.0L1224.1 1540.0L1225.5 1541.9L1226.9 1545.1L1228.3 1544.6L1229.7 1546.9L1231.1 1548.3L1232.5 1551.4L1233.9 1551.6L1235.3 1555.2L1236.7 1555.5L1238.1 1556.9L1239.5 1558.8L1240.9 1559.4L1242.3 1560.2L1243.7 1561.6L1245.1 1563.1L1246.5 1563.5L1247.9 1565.0L1249.3 1565.3L1250.7 1566.1L1252.1 1566.7L1253.5 1568.2L1254.9 1569.1L1256.3 1569.3L1257.7 1568.6L1259.1 1568.7L1260.5 1570.1L1261.9 1570.7L1263.3 1570.9L1264.7 1570.4L1266.1 1571.2L1267.5 1571.2L1268.9 1572.2L1270.3 1572.5L1271.7 1572.4L1273.1 1572.3L1274.5 1573.8L1275.9 1573.2L1277.3 1573.8L1278.7 1573.8L1280.1 1574.2L1281.5 1574.6L1282.9 1574.0L1284.3 1574.2L1285.7 1575.0L1287.1 1573.2L1288.5 1575.1L1289.9 1575.0L1291.3 1575.9L1292.7 1575.9L1294.1 1575.8L1295.5 1575.5L1296.9 1576.3L1298.3 1576.4L1299.7 1576.8L1301.1 1577.1L1302.5 1576.8L1303.9 1577.6L1305.3 1577.2L1306.7 1577.9L1308.1 1578.0L1309.5 1578.6L1310.9 1578.1L1312.3 1579.1L1313.7 1578.2L1315.1 1578.0L1316.5 1578.9L1317.9 1578.0L1319.3 1578.9L1320.7 1579.0L1322.1 1578.9L1323.5 1579.1L1324.9 1579.0L1326.3 1579.6L1327.7 1578.9L1329.1 1578.1L1330.4 1578.9L1331.8 1579.6L1333.2 1579.7L1334.6 1579.6L1336.0 1579.3L1337.4 1578.9L1338.8 1580.2L1340.2 1579.1L1341.6 1578.9L1343.0 1578.3L1344.4 1580.5L1345.8 1579.6L1347.2 1578.7L1348.6 1580.1L1350.0 1580.1L1351.4 1578.9L1352.8 1580.2L1354.2 1579.9L1355.6 1580.2L1357.0 1580.6L1358.4 1579.7L1359.8 1581.1L1361.2 1580.0L1362.6 1579.8L1364.0 1580.7L1365.4 1579.8L1366.8 1580.0L1368.2 1580.6L1369.6 1579.8L1371.0 1579.6L1372.4 1580.4L1373.8 1580.3L1375.2 1580.1L1376.6 1580.8L1378.0 1579.8L1379.4 1580.8L1380.8 1579.9L1382.2 1580.7L1383.6 1579.9L1385.0 1580.8L1386.4 1580.5L1387.8 1580.3L1389.2 1580.6L1390.6 1580.5L1392.0 1581.0L1393.4 1580.3L1394.8 1580.9L1396.2 1580.5L1397.6 1580.4L1399.0 1580.5L1400.4 1580.2L1401.8 1580.9L1403.2 1580.8L1404.6 1581.0L1406.0 1580.0L1407.4 1580.6L1408.8 1581.6L1410.2 1581.5L1411.6 1580.8L1413.0 1580.9L1414.4 1581.0L1415.8 1581.5L1417.2 1581.7L1418.6 1581.1L1420.0 1581.1L1421.4 1581.0L1422.8 1581.2L1424.2 1581.9L1425.6 1580.7L1427.0 1581.4L1428.4 1580.5L1429.8 1580.5L1431.2 1580.2L1432.6 1580.8L1434.0 1581.8L1435.4 1581.9L1436.8 1581.5L1438.2 1581.1L1439.6 1581.6L1441.0 1580.6L1442.4 1580.4L1443.8 1580.7L1445.2 1581.0L1446.6 1580.2L1448.0 1580.7L1449.4 1582.0L1450.8 1581.0" stroke="#ff00ff" stroke-width="1.8" fill="none" stroke-linejoin="round"/>
</g>
<g fill="none" stroke="#000">
<rect x="76.1" y="1.7" width="1363.9" height="841.5" stroke-width="3.7"/>
<path stroke-width="3.7" d="M120 826V843M266.7 826V843M413.3 826V843M560 826V843M706.7 826V843M853.3 826V843M1000 826V843M1146.7 826V843M1293.3 826V843"/>
<rect x="67.9" y="1021.6" width="1385.5" height="862.4" stroke-width="3.5"/>
<path stroke-width="3.5" d="M193.9 1868V1884M333.9 1868V1884M473.8 1868V1884M613.8 1868V1884M753.7 1868V1884M893.7 1868V1884M1033.6 1868V1884M1173.6 1868V1884M1313.5 1868V1884"/>
</g>
<g>
<text transform="translate(147.61 85.10) scale(1 0.9500)" font-size="57.50"><tspan>(a)</tspan></text>
<text transform="translate(1111.29 84.30) scale(1 0.9500)" font-size="40.58"><tspan>A</tspan><tspan dy="17.58">1g</tspan><tspan dy="-17.58">(O)</tspan></text>
<text transform="translate(102.09 270.00) scale(1 0.9500)" font-size="40.89"><tspan>F</tspan><tspan dy="17.58">2g</tspan><tspan dy="-17.58">(Ba)</tspan></text>
<text transform="translate(206.10 552.70) scale(1 0.9500)" font-size="40.08"><tspan>E</tspan><tspan dy="17.58">g</tspan><tspan dy="-17.58">(O)</tspan></text>
<text transform="translate(351.36 548.00) scale(1 0.9500)" font-size="44.26"><tspan>A</tspan><tspan dy="17.58">1g</tspan><tspan dy="-17.58">(Nb)</tspan></text>
<text transform="translate(500.59 452.50) scale(1 0.9500)" font-size="40.43"><tspan>F</tspan><tspan dy="17.58">2g</tspan><tspan dy="-17.58">(O)</tspan></text>
<text transform="translate(580.69 522.80) scale(1 0.9500)" font-size="40.43"><tspan>E</tspan><tspan dy="17.58">g</tspan><tspan dy="-17.58">(O)</tspan></text>
<text transform="translate(1328.15 585.60) scale(1 0.9500)" font-size="44.68"><tspan font-style="italic">x</tspan><tspan>=0.4</tspan></text>
<text transform="translate(1328.15 634.00) scale(1 0.9500)" font-size="44.79"><tspan font-style="italic">x</tspan><tspan>=0.3</tspan></text>
<text transform="translate(1326.75 686.70) scale(1 0.9500)" font-size="45.16"><tspan font-style="italic">x</tspan><tspan>=0.2</tspan></text>
<text transform="translate(1325.45 742.10) scale(1 0.9500)" font-size="44.61"><tspan font-style="italic">x</tspan><tspan>=0.1</tspan></text>
<text transform="translate(1325.45 794.10) scale(1 0.9500)" font-size="44.98"><tspan font-style="italic">x</tspan><tspan>=0.0</tspan></text>
<text transform="translate(81.50 898.20) scale(1 0.9500)" font-size="50.00">100</text>
<text transform="translate(229.17 898.20) scale(1 0.9500)" font-size="50.00">200</text>
<text transform="translate(375.83 898.20) scale(1 0.9500)" font-size="50.00">300</text>
<text transform="translate(523.13 898.20) scale(1 0.9500)" font-size="50.00">400</text>
<text transform="translate(669.17 898.20) scale(1 0.9500)" font-size="50.00">500</text>
<text transform="translate(815.96 898.20) scale(1 0.9500)" font-size="50.00">600</text>
<text transform="translate(962.13 898.20) scale(1 0.9500)" font-size="50.00">700</text>
<text transform="translate(1109.29 898.20) scale(1 0.9500)" font-size="50.00">800</text>
<text transform="translate(1256.21 898.20) scale(1 0.9500)" font-size="50.00">900</text>
<text transform="translate(1389.00 898.20) scale(1 0.9500)" font-size="50.00">1000</text>
<text transform="translate(531.96 958.00) scale(1 0.9650)" font-size="56.30">Raman Shift (cm</text>
<text transform="translate(940.85 933.00) scale(1 0.9650)" font-size="33.00">-1</text>
<text transform="translate(967.31 958.00) scale(1 0.9650)" font-size="56.30">)</text>
<text transform="translate(46.4 611.65) rotate(-90) scale(0.9469 1)" font-size="58.0">Intensity (a.u.)</text>
<text transform="translate(143.54 1106.60) scale(1 0.9300)" font-size="56.83"><tspan>(b)</tspan></text>
<text transform="translate(1171.30 1068.60) scale(1 0.9300)" font-size="40.42"><tspan>A</tspan><tspan dy="17.53">1g</tspan><tspan dy="-17.53">(O)</tspan></text>
<text transform="translate(162.20 1320.70) scale(1 0.9300)" font-size="40.32"><tspan>F</tspan><tspan dy="17.63">2g</tspan><tspan dy="-17.63">(Ba)</tspan></text>
<text transform="translate(534.29 1471.40) scale(1 0.9300)" font-size="40.40"><tspan>F</tspan><tspan dy="17.53">2g</tspan><tspan dy="-17.53">(O)</tspan></text>
<text transform="translate(422.30 1532.20) scale(1 0.9300)" font-size="40.47"><tspan>A</tspan><tspan dy="17.53">1g</tspan><tspan dy="-17.53">(Nb)</tspan></text>
<text transform="translate(631.10 1527.00) scale(1 0.9300)" font-size="40.04"><tspan>E</tspan><tspan dy="17.53">g</tspan><tspan dy="-17.53">(O)</tspan></text>
<text transform="translate(1297.57 1560.50) scale(1 0.9300)" font-size="43.69"><tspan font-style="italic">y</tspan><tspan>=0.02</tspan></text>
<text transform="translate(1299.20 1627.50) scale(1 0.9300)" font-size="43.96"><tspan font-style="italic">y</tspan><tspan>=0.015</tspan></text>
<text transform="translate(1304.92 1688.70) scale(1 0.9300)" font-size="43.20"><tspan font-style="italic">y</tspan><tspan>=0.01</tspan></text>
<text transform="translate(1302.50 1750.00) scale(1 0.9300)" font-size="43.96"><tspan font-style="italic">y</tspan><tspan>=0.005</tspan></text>
<text transform="translate(1307.46 1814.50) scale(1 0.9300)" font-size="43.56"><tspan font-style="italic">y</tspan><tspan>=0</tspan></text>
<text transform="translate(155.99 1937.00) scale(1 0.9260)" font-size="49.30">100</text>
<text transform="translate(296.93 1937.00) scale(1 0.9260)" font-size="49.30">200</text>
<text transform="translate(436.88 1937.00) scale(1 0.9260)" font-size="49.30">300</text>
<text transform="translate(577.45 1937.00) scale(1 0.9260)" font-size="49.30">400</text>
<text transform="translate(716.78 1937.00) scale(1 0.9260)" font-size="49.30">500</text>
<text transform="translate(856.85 1937.00) scale(1 0.9260)" font-size="49.30">600</text>
<text transform="translate(996.31 1937.00) scale(1 0.9260)" font-size="49.30">700</text>
<text transform="translate(1136.75 1937.00) scale(1 0.9260)" font-size="49.30">800</text>
<text transform="translate(1276.95 1937.00) scale(1 0.9260)" font-size="49.30">900</text>
<text transform="translate(1403.22 1937.00) scale(1 0.9260)" font-size="49.30">1000</text>
<text transform="translate(586.76 1985.60) scale(1 0.9280)" font-size="55.70">Raman Shift (cm</text>
<text transform="translate(991.16 1961.60) scale(1 0.9280)" font-size="32.60">-1</text>
<text transform="translate(1017.33 1985.60) scale(1 0.9280)" font-size="55.70">)</text>
<text transform="translate(39.3 1629.39) rotate(-90) scale(0.9132 1)" font-size="58.0">Intensity(a.u.)</text>
</g>
</svg>
</body></html>
